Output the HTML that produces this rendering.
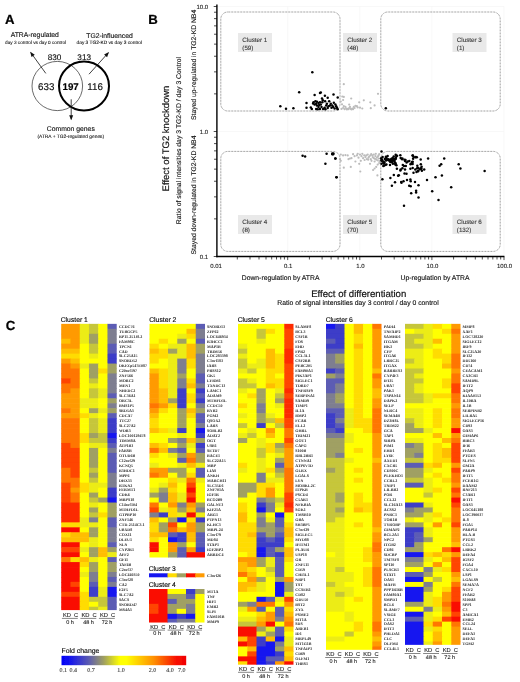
<!DOCTYPE html>
<html><head><meta charset="utf-8"><title>Figure</title>
<style>html,body{margin:0;padding:0;background:#fff}svg{display:block}</style></head>
<body>
<svg width="520" height="682" viewBox="0 0 520 682" text-rendering="geometricPrecision">
<rect width="520" height="682" fill="#fff"/>
<g style="opacity:0.999">
<text x="5.00" y="24.10" font-size="13.2" text-anchor="start" font-family="Liberation Sans, sans-serif" fill="#000" font-weight="bold" stroke="#000" stroke-width="0.238">A</text>
<text x="148.30" y="23.50" font-size="13.2" text-anchor="start" font-family="Liberation Sans, sans-serif" fill="#000" font-weight="bold" stroke="#000" stroke-width="0.238">B</text>
<text x="5.80" y="330.00" font-size="13.2" text-anchor="start" font-family="Liberation Sans, sans-serif" fill="#000" font-weight="bold" stroke="#000" stroke-width="0.238">C</text>
<ellipse cx="57.3" cy="86.0" rx="25.3" ry="24.6" fill="none" stroke="#444" stroke-width="0.8"/>
<ellipse cx="84" cy="86.0" rx="25" ry="24.4" fill="none" stroke="#000" stroke-width="2"/>
<text x="34.80" y="37.00" font-size="6.8" text-anchor="middle" font-family="Liberation Sans, sans-serif" fill="#111" stroke="#111" stroke-width="0.122">ATRA-regulated</text>
<text x="35.60" y="43.50" font-size="4.7" text-anchor="middle" font-family="Liberation Sans, sans-serif" fill="#111" stroke="#111" stroke-width="0.085">day 3 control vs day 0 control</text>
<text x="109.50" y="37.50" font-size="6.8" text-anchor="middle" font-family="Liberation Sans, sans-serif" fill="#111" stroke="#111" stroke-width="0.122">TG2-influenced</text>
<text x="109.30" y="43.90" font-size="4.8" text-anchor="middle" font-family="Liberation Sans, sans-serif" fill="#111" stroke="#111" stroke-width="0.086">day 3 TG2-KD vs day 3 control</text>
<text x="54.60" y="59.80" font-size="8.2" text-anchor="middle" font-family="Liberation Sans, sans-serif" fill="#111" stroke="#111" stroke-width="0.148">830</text>
<text x="84.20" y="59.80" font-size="8.2" text-anchor="middle" font-family="Liberation Sans, sans-serif" fill="#111" stroke="#111" stroke-width="0.148">313</text>
<text x="46.20" y="90.20" font-size="9.75" text-anchor="middle" font-family="Liberation Sans, sans-serif" fill="#111" stroke="#111" stroke-width="0.175">633</text>
<text x="70.60" y="90.20" font-size="9.75" text-anchor="middle" font-family="Liberation Sans, sans-serif" fill="#000" font-weight="bold" stroke="#000" stroke-width="0.175">197</text>
<text x="95.10" y="90.20" font-size="9.75" text-anchor="middle" font-family="Liberation Sans, sans-serif" fill="#111" stroke="#111" stroke-width="0.175">116</text>
<text x="70.80" y="131.20" font-size="6.8" text-anchor="middle" font-family="Liberation Sans, sans-serif" fill="#111" stroke="#111" stroke-width="0.122">Common genes</text>
<text x="70.80" y="138.00" font-size="4.85" text-anchor="middle" font-family="Liberation Sans, sans-serif" fill="#111" stroke="#111" stroke-width="0.087">(ATRA + TG2-regulated genes)</text>
<line x1="45.8" y1="73.4" x2="30.8" y2="52.6" stroke="#111" stroke-width="0.8"/>
<polygon points="30.22,51.79 34.78,54.70 31.53,57.04" fill="#111"/>
<line x1="89" y1="74.2" x2="108.3" y2="52.8" stroke="#111" stroke-width="0.8"/>
<polygon points="108.97,52.06 107.09,57.13 104.11,54.45" fill="#111"/>
<line x1="71.2" y1="99.3" x2="71.2" y2="119.3" stroke="#111" stroke-width="0.8"/>
<polygon points="71.20,120.30 69.20,115.27 73.20,115.27" fill="#111"/>
<line x1="287.7" y1="6.5" x2="287.7" y2="256.5" stroke="#f3f3f3" stroke-width="0.6"/>
<line x1="359.8" y1="6.5" x2="359.8" y2="256.5" stroke="#f3f3f3" stroke-width="0.6"/>
<line x1="431.9" y1="6.5" x2="431.9" y2="256.5" stroke="#f3f3f3" stroke-width="0.6"/>
<line x1="504.0" y1="6.5" x2="504.0" y2="256.5" stroke="#f3f3f3" stroke-width="0.6"/>
<line x1="216.9" y1="131.5" x2="504.0" y2="131.5" stroke="#f3f3f3" stroke-width="0.6"/>
<line x1="216.9" y1="6.5" x2="504.0" y2="6.5" stroke="#f3f3f3" stroke-width="0.6"/>
<line x1="216.9" y1="4.5" x2="216.9" y2="257.15" stroke="#000" stroke-width="1.4"/>
<line x1="216.20000000000002" y1="256.5" x2="504.4" y2="256.5" stroke="#000" stroke-width="1.3"/>
<line x1="213.70000000000002" y1="256.50" x2="216.9" y2="256.50" stroke="#000" stroke-width="0.7"/>
<line x1="214.0" y1="218.87" x2="216.9" y2="218.87" stroke="#000" stroke-width="0.7"/>
<line x1="214.0" y1="196.86" x2="216.9" y2="196.86" stroke="#000" stroke-width="0.7"/>
<line x1="214.0" y1="181.24" x2="216.9" y2="181.24" stroke="#000" stroke-width="0.7"/>
<line x1="214.0" y1="169.13" x2="216.9" y2="169.13" stroke="#000" stroke-width="0.7"/>
<line x1="214.0" y1="159.23" x2="216.9" y2="159.23" stroke="#000" stroke-width="0.7"/>
<line x1="214.0" y1="150.86" x2="216.9" y2="150.86" stroke="#000" stroke-width="0.7"/>
<line x1="214.0" y1="143.61" x2="216.9" y2="143.61" stroke="#000" stroke-width="0.7"/>
<line x1="214.0" y1="137.22" x2="216.9" y2="137.22" stroke="#000" stroke-width="0.7"/>
<line x1="213.70000000000002" y1="131.50" x2="216.9" y2="131.50" stroke="#000" stroke-width="0.7"/>
<line x1="214.0" y1="93.87" x2="216.9" y2="93.87" stroke="#000" stroke-width="0.7"/>
<line x1="214.0" y1="71.86" x2="216.9" y2="71.86" stroke="#000" stroke-width="0.7"/>
<line x1="214.0" y1="56.24" x2="216.9" y2="56.24" stroke="#000" stroke-width="0.7"/>
<line x1="214.0" y1="44.13" x2="216.9" y2="44.13" stroke="#000" stroke-width="0.7"/>
<line x1="214.0" y1="34.23" x2="216.9" y2="34.23" stroke="#000" stroke-width="0.7"/>
<line x1="214.0" y1="25.86" x2="216.9" y2="25.86" stroke="#000" stroke-width="0.7"/>
<line x1="214.0" y1="18.61" x2="216.9" y2="18.61" stroke="#000" stroke-width="0.7"/>
<line x1="214.0" y1="12.22" x2="216.9" y2="12.22" stroke="#000" stroke-width="0.7"/>
<line x1="213.70000000000002" y1="6.50" x2="216.9" y2="6.50" stroke="#000" stroke-width="0.7"/>
<line x1="237.30" y1="256.5" x2="237.30" y2="259.5" stroke="#000" stroke-width="0.7"/>
<line x1="250.00" y1="256.5" x2="250.00" y2="259.5" stroke="#000" stroke-width="0.7"/>
<line x1="259.01" y1="256.5" x2="259.01" y2="259.5" stroke="#000" stroke-width="0.7"/>
<line x1="266.00" y1="256.5" x2="266.00" y2="259.5" stroke="#000" stroke-width="0.7"/>
<line x1="271.70" y1="256.5" x2="271.70" y2="259.5" stroke="#000" stroke-width="0.7"/>
<line x1="276.53" y1="256.5" x2="276.53" y2="259.5" stroke="#000" stroke-width="0.7"/>
<line x1="280.71" y1="256.5" x2="280.71" y2="259.5" stroke="#000" stroke-width="0.7"/>
<line x1="284.40" y1="256.5" x2="284.40" y2="259.5" stroke="#000" stroke-width="0.7"/>
<line x1="287.70" y1="256.5" x2="287.70" y2="260.1" stroke="#000" stroke-width="0.7"/>
<line x1="309.40" y1="256.5" x2="309.40" y2="259.5" stroke="#000" stroke-width="0.7"/>
<line x1="322.10" y1="256.5" x2="322.10" y2="259.5" stroke="#000" stroke-width="0.7"/>
<line x1="331.11" y1="256.5" x2="331.11" y2="259.5" stroke="#000" stroke-width="0.7"/>
<line x1="338.10" y1="256.5" x2="338.10" y2="259.5" stroke="#000" stroke-width="0.7"/>
<line x1="343.80" y1="256.5" x2="343.80" y2="259.5" stroke="#000" stroke-width="0.7"/>
<line x1="348.63" y1="256.5" x2="348.63" y2="259.5" stroke="#000" stroke-width="0.7"/>
<line x1="352.81" y1="256.5" x2="352.81" y2="259.5" stroke="#000" stroke-width="0.7"/>
<line x1="356.50" y1="256.5" x2="356.50" y2="259.5" stroke="#000" stroke-width="0.7"/>
<line x1="359.80" y1="256.5" x2="359.80" y2="260.1" stroke="#000" stroke-width="0.7"/>
<line x1="381.50" y1="256.5" x2="381.50" y2="259.5" stroke="#000" stroke-width="0.7"/>
<line x1="394.20" y1="256.5" x2="394.20" y2="259.5" stroke="#000" stroke-width="0.7"/>
<line x1="403.21" y1="256.5" x2="403.21" y2="259.5" stroke="#000" stroke-width="0.7"/>
<line x1="410.20" y1="256.5" x2="410.20" y2="259.5" stroke="#000" stroke-width="0.7"/>
<line x1="415.90" y1="256.5" x2="415.90" y2="259.5" stroke="#000" stroke-width="0.7"/>
<line x1="420.73" y1="256.5" x2="420.73" y2="259.5" stroke="#000" stroke-width="0.7"/>
<line x1="424.91" y1="256.5" x2="424.91" y2="259.5" stroke="#000" stroke-width="0.7"/>
<line x1="428.60" y1="256.5" x2="428.60" y2="259.5" stroke="#000" stroke-width="0.7"/>
<line x1="431.90" y1="256.5" x2="431.90" y2="260.1" stroke="#000" stroke-width="0.7"/>
<line x1="453.60" y1="256.5" x2="453.60" y2="259.5" stroke="#000" stroke-width="0.7"/>
<line x1="466.30" y1="256.5" x2="466.30" y2="259.5" stroke="#000" stroke-width="0.7"/>
<line x1="475.31" y1="256.5" x2="475.31" y2="259.5" stroke="#000" stroke-width="0.7"/>
<line x1="482.30" y1="256.5" x2="482.30" y2="259.5" stroke="#000" stroke-width="0.7"/>
<line x1="488.00" y1="256.5" x2="488.00" y2="259.5" stroke="#000" stroke-width="0.7"/>
<line x1="492.83" y1="256.5" x2="492.83" y2="259.5" stroke="#000" stroke-width="0.7"/>
<line x1="497.01" y1="256.5" x2="497.01" y2="259.5" stroke="#000" stroke-width="0.7"/>
<line x1="500.70" y1="256.5" x2="500.70" y2="259.5" stroke="#000" stroke-width="0.7"/>
<line x1="504.00" y1="256.5" x2="504.00" y2="260.1" stroke="#000" stroke-width="0.7"/>
<text x="208.20" y="8.70" font-size="6.0" text-anchor="end" font-family="Liberation Sans, sans-serif" fill="#222" stroke="#222" stroke-width="0.108">10.0</text>
<text x="208.20" y="133.70" font-size="6.0" text-anchor="end" font-family="Liberation Sans, sans-serif" fill="#222" stroke="#222" stroke-width="0.108">1.0</text>
<text x="208.20" y="258.70" font-size="6.0" text-anchor="end" font-family="Liberation Sans, sans-serif" fill="#222" stroke="#222" stroke-width="0.108">0.1</text>
<text x="216.10" y="267.80" font-size="6.0" text-anchor="middle" font-family="Liberation Sans, sans-serif" fill="#222" stroke="#222" stroke-width="0.108">0.01</text>
<text x="288.20" y="267.80" font-size="6.0" text-anchor="middle" font-family="Liberation Sans, sans-serif" fill="#222" stroke="#222" stroke-width="0.108">0.1</text>
<text x="360.30" y="267.80" font-size="6.0" text-anchor="middle" font-family="Liberation Sans, sans-serif" fill="#222" stroke="#222" stroke-width="0.108">1.0</text>
<text x="432.40" y="267.80" font-size="6.0" text-anchor="middle" font-family="Liberation Sans, sans-serif" fill="#222" stroke="#222" stroke-width="0.108">10.0</text>
<text x="504.50" y="267.80" font-size="6.0" text-anchor="middle" font-family="Liberation Sans, sans-serif" fill="#222" stroke="#222" stroke-width="0.108">100.0</text>
<rect x="220.8" y="12" width="119.19999999999999" height="99" rx="7" ry="7" fill="none" stroke="#6c6c6c" stroke-width="0.85" stroke-dasharray="0.75,0.75"/>
<rect x="380.8" y="12" width="119.39999999999998" height="99" rx="7" ry="7" fill="none" stroke="#6c6c6c" stroke-width="0.85" stroke-dasharray="0.75,0.75"/>
<rect x="220.8" y="151.4" width="119.19999999999999" height="100.0" rx="7" ry="7" fill="none" stroke="#6c6c6c" stroke-width="0.85" stroke-dasharray="0.75,0.75"/>
<rect x="380.8" y="151.4" width="119.39999999999998" height="100.0" rx="7" ry="7" fill="none" stroke="#6c6c6c" stroke-width="0.85" stroke-dasharray="0.75,0.75"/>
<rect x="238" y="33" width="34" height="19" fill="#e9e9e9"/>
<text x="242.30" y="41.60" font-size="6.25" text-anchor="start" font-family="Liberation Sans, sans-serif" fill="#383838" stroke="#383838" stroke-width="0.112">Cluster 1</text>
<text x="242.30" y="49.60" font-size="6.25" text-anchor="start" font-family="Liberation Sans, sans-serif" fill="#383838" stroke="#383838" stroke-width="0.112">(59)</text>
<rect x="343" y="33" width="34" height="19" fill="#e9e9e9"/>
<text x="347.30" y="41.60" font-size="6.25" text-anchor="start" font-family="Liberation Sans, sans-serif" fill="#383838" stroke="#383838" stroke-width="0.112">Cluster 2</text>
<text x="347.30" y="49.60" font-size="6.25" text-anchor="start" font-family="Liberation Sans, sans-serif" fill="#383838" stroke="#383838" stroke-width="0.112">(48)</text>
<rect x="452.5" y="33" width="34" height="19" fill="#e9e9e9"/>
<text x="456.80" y="41.60" font-size="6.25" text-anchor="start" font-family="Liberation Sans, sans-serif" fill="#383838" stroke="#383838" stroke-width="0.112">Cluster 3</text>
<text x="456.80" y="49.60" font-size="6.25" text-anchor="start" font-family="Liberation Sans, sans-serif" fill="#383838" stroke="#383838" stroke-width="0.112">(1)</text>
<rect x="238" y="215" width="34" height="19" fill="#e9e9e9"/>
<text x="242.30" y="223.60" font-size="6.25" text-anchor="start" font-family="Liberation Sans, sans-serif" fill="#383838" stroke="#383838" stroke-width="0.112">Cluster 4</text>
<text x="242.30" y="231.60" font-size="6.25" text-anchor="start" font-family="Liberation Sans, sans-serif" fill="#383838" stroke="#383838" stroke-width="0.112">(8)</text>
<rect x="343" y="215" width="34" height="19" fill="#e9e9e9"/>
<text x="347.30" y="223.60" font-size="6.25" text-anchor="start" font-family="Liberation Sans, sans-serif" fill="#383838" stroke="#383838" stroke-width="0.112">Cluster 5</text>
<text x="347.30" y="231.60" font-size="6.25" text-anchor="start" font-family="Liberation Sans, sans-serif" fill="#383838" stroke="#383838" stroke-width="0.112">(70)</text>
<rect x="452.5" y="215" width="34" height="19" fill="#e9e9e9"/>
<text x="456.80" y="223.60" font-size="6.25" text-anchor="start" font-family="Liberation Sans, sans-serif" fill="#383838" stroke="#383838" stroke-width="0.112">Cluster 6</text>
<text x="456.80" y="231.60" font-size="6.25" text-anchor="start" font-family="Liberation Sans, sans-serif" fill="#383838" stroke="#383838" stroke-width="0.112">(132)</text>
<text x="280.60" y="280.20" font-size="6.8" text-anchor="middle" font-family="Liberation Sans, sans-serif" fill="#111" stroke="#111" stroke-width="0.122">Down-regulation by ATRA</text>
<text x="435.00" y="280.20" font-size="6.8" text-anchor="middle" font-family="Liberation Sans, sans-serif" fill="#111" stroke="#111" stroke-width="0.122">Up-regulation by ATRA</text>
<text x="358.70" y="296.50" font-size="9.6" text-anchor="middle" font-family="Liberation Sans, sans-serif" fill="#111" stroke="#111" stroke-width="0.173">Effect of differentiation</text>
<text x="358.00" y="305.30" font-size="6.84" text-anchor="middle" font-family="Liberation Sans, sans-serif" fill="#111" stroke="#111" stroke-width="0.123">Ratio of signal intensities day 3 control / day 0 control</text>
<text x="169.40" y="138.50" font-size="9.5" text-anchor="middle" font-family="Liberation Sans, sans-serif" fill="#111" transform="rotate(-90 169.40 138.50)" stroke="#111" stroke-width="0.171">Effect of TG2 knockdown</text>
<text x="180.50" y="140.50" font-size="6.84" text-anchor="middle" font-family="Liberation Sans, sans-serif" fill="#111" transform="rotate(-90 180.50 140.50)" stroke="#111" stroke-width="0.123">Ratio of signal intensities day 3 TG2-KD / day 3 Control</text>
<text x="195.60" y="64.90" font-size="6.8" text-anchor="middle" font-family="Liberation Sans, sans-serif" fill="#111" transform="rotate(-90 195.60 64.90)" stroke="#111" stroke-width="0.122">Stayed up-regulated in TG2-KD NB4</text>
<text x="195.60" y="195.00" font-size="6.8" text-anchor="middle" font-family="Liberation Sans, sans-serif" fill="#111" transform="rotate(-90 195.60 195.00)" stroke="#111" stroke-width="0.122">Stayed down-regulated in TG2-KD NB4</text>
<circle cx="312.3" cy="72.3" r="1.25" fill="#000"/>
<circle cx="299.2" cy="92.3" r="1.25" fill="#000"/>
<circle cx="280.3" cy="106.2" r="1.25" fill="#000"/>
<circle cx="286.0" cy="108.8" r="1.25" fill="#000"/>
<circle cx="293.4" cy="108.2" r="1.25" fill="#000"/>
<circle cx="306.5" cy="103.1" r="1.25" fill="#000"/>
<circle cx="306.5" cy="107.7" r="1.25" fill="#000"/>
<circle cx="310.8" cy="107.4" r="1.25" fill="#000"/>
<circle cx="311.8" cy="108.9" r="1.25" fill="#000"/>
<circle cx="314.6" cy="95.1" r="1.25" fill="#000"/>
<circle cx="320.0" cy="93.1" r="1.25" fill="#000"/>
<circle cx="320.8" cy="92.6" r="1.25" fill="#000"/>
<circle cx="324.9" cy="95.7" r="1.25" fill="#000"/>
<circle cx="327.7" cy="97.7" r="1.25" fill="#000"/>
<circle cx="333.5" cy="94.6" r="1.25" fill="#000"/>
<circle cx="337.7" cy="97.4" r="1.25" fill="#000"/>
<circle cx="322.0" cy="98.5" r="1.25" fill="#000"/>
<circle cx="322.8" cy="100.3" r="1.25" fill="#000"/>
<circle cx="313.5" cy="102.3" r="1.25" fill="#000"/>
<circle cx="315.4" cy="101.2" r="1.25" fill="#000"/>
<circle cx="316.9" cy="101.8" r="1.25" fill="#000"/>
<circle cx="316.2" cy="103.8" r="1.25" fill="#000"/>
<circle cx="318.5" cy="103.1" r="1.25" fill="#000"/>
<circle cx="320.0" cy="102.3" r="1.25" fill="#000"/>
<circle cx="320.8" cy="104.6" r="1.25" fill="#000"/>
<circle cx="325.1" cy="101.2" r="1.25" fill="#000"/>
<circle cx="329.2" cy="101.2" r="1.25" fill="#000"/>
<circle cx="330.8" cy="103.8" r="1.25" fill="#000"/>
<circle cx="332.3" cy="105.4" r="1.25" fill="#000"/>
<circle cx="333.8" cy="102.8" r="1.25" fill="#000"/>
<circle cx="335.4" cy="104.6" r="1.25" fill="#000"/>
<circle cx="336.2" cy="106.2" r="1.25" fill="#000"/>
<circle cx="337.7" cy="109.2" r="1.25" fill="#000"/>
<circle cx="334.6" cy="108.5" r="1.25" fill="#000"/>
<circle cx="331.5" cy="107.7" r="1.25" fill="#000"/>
<circle cx="328.5" cy="106.2" r="1.25" fill="#000"/>
<circle cx="326.2" cy="105.4" r="1.25" fill="#000"/>
<circle cx="324.6" cy="107.7" r="1.25" fill="#000"/>
<circle cx="323.1" cy="108.9" r="1.25" fill="#000"/>
<circle cx="320.0" cy="108.9" r="1.25" fill="#000"/>
<circle cx="317.7" cy="109.2" r="1.25" fill="#000"/>
<circle cx="316.2" cy="108.9" r="1.25" fill="#000"/>
<circle cx="318.5" cy="106.9" r="1.25" fill="#000"/>
<circle cx="321.5" cy="106.9" r="1.25" fill="#000"/>
<circle cx="325.4" cy="109.2" r="1.25" fill="#000"/>
<circle cx="327.7" cy="108.0" r="1.25" fill="#000"/>
<circle cx="333.1" cy="106.9" r="1.25" fill="#000"/>
<circle cx="336.9" cy="107.7" r="1.25" fill="#000"/>
<circle cx="330.0" cy="105.4" r="1.25" fill="#000"/>
<circle cx="326.9" cy="103.8" r="1.25" fill="#000"/>
<circle cx="316.9" cy="105.4" r="1.25" fill="#000"/>
<circle cx="314.6" cy="104.6" r="1.25" fill="#000"/>
<circle cx="313.1" cy="103.4" r="1.25" fill="#000"/>
<circle cx="319.2" cy="104.9" r="1.25" fill="#000"/>
<circle cx="322.3" cy="102.3" r="1.25" fill="#000"/>
<circle cx="343.8" cy="84.2" r="1.1" fill="#bcbcbc"/>
<circle cx="342.3" cy="96.5" r="1.1" fill="#bcbcbc"/>
<circle cx="343.8" cy="96.9" r="1.1" fill="#bcbcbc"/>
<circle cx="343.1" cy="100.0" r="1.1" fill="#bcbcbc"/>
<circle cx="351.2" cy="98.5" r="1.1" fill="#bcbcbc"/>
<circle cx="349.2" cy="104.6" r="1.1" fill="#bcbcbc"/>
<circle cx="342.0" cy="104.3" r="1.1" fill="#bcbcbc"/>
<circle cx="359.2" cy="102.3" r="1.1" fill="#bcbcbc"/>
<circle cx="363.8" cy="100.3" r="1.1" fill="#bcbcbc"/>
<circle cx="370.3" cy="102.3" r="1.1" fill="#bcbcbc"/>
<circle cx="374.6" cy="105.4" r="1.1" fill="#bcbcbc"/>
<circle cx="378.0" cy="93.8" r="1.1" fill="#bcbcbc"/>
<circle cx="370.8" cy="108.2" r="1.1" fill="#bcbcbc"/>
<circle cx="362.3" cy="108.5" r="1.1" fill="#bcbcbc"/>
<circle cx="360.0" cy="107.7" r="1.1" fill="#bcbcbc"/>
<circle cx="356.9" cy="106.2" r="1.1" fill="#bcbcbc"/>
<circle cx="355.4" cy="105.8" r="1.1" fill="#bcbcbc"/>
<circle cx="353.8" cy="106.9" r="1.1" fill="#bcbcbc"/>
<circle cx="352.3" cy="108.5" r="1.1" fill="#bcbcbc"/>
<circle cx="350.8" cy="108.9" r="1.1" fill="#bcbcbc"/>
<circle cx="349.2" cy="108.0" r="1.1" fill="#bcbcbc"/>
<circle cx="347.7" cy="108.9" r="1.1" fill="#bcbcbc"/>
<circle cx="346.2" cy="108.5" r="1.1" fill="#bcbcbc"/>
<circle cx="344.6" cy="109.2" r="1.1" fill="#bcbcbc"/>
<circle cx="343.1" cy="108.0" r="1.1" fill="#bcbcbc"/>
<circle cx="341.5" cy="108.9" r="1.1" fill="#bcbcbc"/>
<circle cx="345.4" cy="106.9" r="1.1" fill="#bcbcbc"/>
<circle cx="350.0" cy="106.9" r="1.1" fill="#bcbcbc"/>
<circle cx="353.1" cy="109.2" r="1.1" fill="#bcbcbc"/>
<circle cx="354.6" cy="108.0" r="1.1" fill="#bcbcbc"/>
<circle cx="357.7" cy="107.4" r="1.1" fill="#bcbcbc"/>
<circle cx="340.8" cy="101.5" r="1.1" fill="#bcbcbc"/>
<circle cx="346.9" cy="109.5" r="1.1" fill="#bcbcbc"/>
<circle cx="351.5" cy="109.5" r="1.1" fill="#bcbcbc"/>
<circle cx="343.8" cy="106.2" r="1.1" fill="#bcbcbc"/>
<circle cx="348.5" cy="109.2" r="1.1" fill="#bcbcbc"/>
<circle cx="385.8" cy="108.2" r="1.25" fill="#000"/>
<circle cx="302.6" cy="155.8" r="1.25" fill="#000"/>
<circle cx="305.1" cy="156.6" r="1.25" fill="#000"/>
<circle cx="326.6" cy="153.8" r="1.25" fill="#000"/>
<circle cx="332.3" cy="154.3" r="1.25" fill="#000"/>
<circle cx="333.4" cy="153.5" r="1.25" fill="#000"/>
<circle cx="335.4" cy="158.5" r="1.25" fill="#000"/>
<circle cx="325.4" cy="163.8" r="1.25" fill="#000"/>
<circle cx="336.5" cy="177.2" r="1.25" fill="#000"/>
<circle cx="340.8" cy="154.6" r="1.1" fill="#bcbcbc"/>
<circle cx="343.1" cy="155.4" r="1.1" fill="#bcbcbc"/>
<circle cx="345.4" cy="155.1" r="1.1" fill="#bcbcbc"/>
<circle cx="347.7" cy="155.4" r="1.1" fill="#bcbcbc"/>
<circle cx="350.0" cy="158.5" r="1.1" fill="#bcbcbc"/>
<circle cx="351.5" cy="158.2" r="1.1" fill="#bcbcbc"/>
<circle cx="353.1" cy="154.2" r="1.1" fill="#bcbcbc"/>
<circle cx="354.6" cy="156.2" r="1.1" fill="#bcbcbc"/>
<circle cx="356.9" cy="155.4" r="1.1" fill="#bcbcbc"/>
<circle cx="358.5" cy="157.7" r="1.1" fill="#bcbcbc"/>
<circle cx="360.0" cy="154.6" r="1.1" fill="#bcbcbc"/>
<circle cx="361.5" cy="156.2" r="1.1" fill="#bcbcbc"/>
<circle cx="363.1" cy="158.2" r="1.1" fill="#bcbcbc"/>
<circle cx="364.6" cy="160.0" r="1.1" fill="#bcbcbc"/>
<circle cx="366.2" cy="155.4" r="1.1" fill="#bcbcbc"/>
<circle cx="367.7" cy="154.6" r="1.1" fill="#bcbcbc"/>
<circle cx="369.2" cy="156.6" r="1.1" fill="#bcbcbc"/>
<circle cx="370.8" cy="159.2" r="1.1" fill="#bcbcbc"/>
<circle cx="372.3" cy="155.4" r="1.1" fill="#bcbcbc"/>
<circle cx="373.8" cy="154.6" r="1.1" fill="#bcbcbc"/>
<circle cx="375.4" cy="156.2" r="1.1" fill="#bcbcbc"/>
<circle cx="376.9" cy="157.7" r="1.1" fill="#bcbcbc"/>
<circle cx="378.5" cy="155.4" r="1.1" fill="#bcbcbc"/>
<circle cx="379.2" cy="154.2" r="1.1" fill="#bcbcbc"/>
<circle cx="376.2" cy="159.7" r="1.1" fill="#bcbcbc"/>
<circle cx="374.6" cy="161.5" r="1.1" fill="#bcbcbc"/>
<circle cx="371.5" cy="160.8" r="1.1" fill="#bcbcbc"/>
<circle cx="370.0" cy="163.8" r="1.1" fill="#bcbcbc"/>
<circle cx="366.9" cy="159.2" r="1.1" fill="#bcbcbc"/>
<circle cx="360.8" cy="160.8" r="1.1" fill="#bcbcbc"/>
<circle cx="359.2" cy="163.8" r="1.1" fill="#bcbcbc"/>
<circle cx="355.4" cy="161.5" r="1.1" fill="#bcbcbc"/>
<circle cx="350.8" cy="166.9" r="1.1" fill="#bcbcbc"/>
<circle cx="343.8" cy="167.7" r="1.1" fill="#bcbcbc"/>
<circle cx="340.0" cy="159.2" r="1.1" fill="#bcbcbc"/>
<circle cx="340.8" cy="160.8" r="1.1" fill="#bcbcbc"/>
<circle cx="360.3" cy="171.5" r="1.1" fill="#bcbcbc"/>
<circle cx="374.6" cy="168.5" r="1.1" fill="#bcbcbc"/>
<circle cx="376.2" cy="166.9" r="1.1" fill="#bcbcbc"/>
<circle cx="377.7" cy="164.6" r="1.1" fill="#bcbcbc"/>
<circle cx="379.2" cy="163.1" r="1.1" fill="#bcbcbc"/>
<circle cx="377.4" cy="175.4" r="1.1" fill="#bcbcbc"/>
<circle cx="373.1" cy="170.0" r="1.1" fill="#bcbcbc"/>
<circle cx="378.9" cy="158.5" r="1.1" fill="#bcbcbc"/>
<circle cx="373.8" cy="158.2" r="1.1" fill="#bcbcbc"/>
<circle cx="368.5" cy="157.7" r="1.1" fill="#bcbcbc"/>
<circle cx="364.2" cy="155.4" r="1.1" fill="#bcbcbc"/>
<circle cx="362.3" cy="153.8" r="1.1" fill="#bcbcbc"/>
<circle cx="357.7" cy="153.8" r="1.1" fill="#bcbcbc"/>
<circle cx="348.5" cy="159.2" r="1.1" fill="#bcbcbc"/>
<circle cx="365.4" cy="157.2" r="1.1" fill="#bcbcbc"/>
<circle cx="371.2" cy="154.2" r="1.1" fill="#bcbcbc"/>
<circle cx="375.8" cy="153.8" r="1.1" fill="#bcbcbc"/>
<circle cx="377.7" cy="160.3" r="1.1" fill="#bcbcbc"/>
<circle cx="379.5" cy="161.2" r="1.1" fill="#bcbcbc"/>
<circle cx="378.0" cy="156.6" r="1.1" fill="#bcbcbc"/>
<circle cx="374.9" cy="158.8" r="1.1" fill="#bcbcbc"/>
<circle cx="372.8" cy="157.2" r="1.1" fill="#bcbcbc"/>
<circle cx="370.3" cy="155.4" r="1.1" fill="#bcbcbc"/>
<circle cx="368.2" cy="159.7" r="1.1" fill="#bcbcbc"/>
<circle cx="333.1" cy="154.2" r="1.25" fill="#000"/>
<circle cx="335.4" cy="158.5" r="1.25" fill="#000"/>
<circle cx="336.5" cy="177.2" r="1.25" fill="#000"/>
<circle cx="332.3" cy="153.5" r="1.25" fill="#000"/>
<circle cx="381.5" cy="151.5" r="1.25" fill="#000"/>
<circle cx="428.1" cy="158.5" r="1.25" fill="#000"/>
<circle cx="444.2" cy="158.5" r="1.25" fill="#000"/>
<circle cx="441.2" cy="164.2" r="1.25" fill="#000"/>
<circle cx="439.6" cy="165.8" r="1.25" fill="#000"/>
<circle cx="424.2" cy="169.6" r="1.25" fill="#000"/>
<circle cx="441.9" cy="175.5" r="1.25" fill="#000"/>
<circle cx="435.5" cy="177.3" r="1.25" fill="#000"/>
<circle cx="427.0" cy="180.1" r="1.25" fill="#000"/>
<circle cx="451.2" cy="187.3" r="1.25" fill="#000"/>
<circle cx="432.2" cy="191.2" r="1.25" fill="#000"/>
<circle cx="438.5" cy="199.9" r="1.25" fill="#000"/>
<circle cx="418.5" cy="197.6" r="1.25" fill="#000"/>
<circle cx="416.1" cy="190.8" r="1.25" fill="#000"/>
<circle cx="416.1" cy="192.4" r="1.25" fill="#000"/>
<circle cx="411.2" cy="193.2" r="1.25" fill="#000"/>
<circle cx="418.5" cy="185.3" r="1.25" fill="#000"/>
<circle cx="415.0" cy="181.9" r="1.25" fill="#000"/>
<circle cx="410.4" cy="179.6" r="1.25" fill="#000"/>
<circle cx="410.7" cy="181.2" r="1.25" fill="#000"/>
<circle cx="407.0" cy="180.1" r="1.25" fill="#000"/>
<circle cx="403.5" cy="181.2" r="1.25" fill="#000"/>
<circle cx="401.2" cy="181.9" r="1.25" fill="#000"/>
<circle cx="401.5" cy="182.7" r="1.25" fill="#000"/>
<circle cx="395.0" cy="182.2" r="1.25" fill="#000"/>
<circle cx="391.9" cy="185.8" r="1.25" fill="#000"/>
<circle cx="409.2" cy="185.8" r="1.25" fill="#000"/>
<circle cx="410.7" cy="186.2" r="1.25" fill="#000"/>
<circle cx="382.4" cy="179.3" r="1.25" fill="#000"/>
<circle cx="390.4" cy="178.1" r="1.25" fill="#000"/>
<circle cx="393.8" cy="175.0" r="1.25" fill="#000"/>
<circle cx="398.1" cy="175.8" r="1.25" fill="#000"/>
<circle cx="398.8" cy="175.3" r="1.25" fill="#000"/>
<circle cx="404.5" cy="173.5" r="1.25" fill="#000"/>
<circle cx="406.5" cy="173.8" r="1.25" fill="#000"/>
<circle cx="413.5" cy="172.7" r="1.25" fill="#000"/>
<circle cx="416.5" cy="171.9" r="1.25" fill="#000"/>
<circle cx="418.1" cy="171.2" r="1.25" fill="#000"/>
<circle cx="419.6" cy="169.6" r="1.25" fill="#000"/>
<circle cx="421.2" cy="168.8" r="1.25" fill="#000"/>
<circle cx="420.8" cy="164.2" r="1.25" fill="#000"/>
<circle cx="417.3" cy="165.8" r="1.25" fill="#000"/>
<circle cx="418.1" cy="168.1" r="1.25" fill="#000"/>
<circle cx="415.3" cy="169.6" r="1.25" fill="#000"/>
<circle cx="412.7" cy="168.1" r="1.25" fill="#000"/>
<circle cx="410.4" cy="168.8" r="1.25" fill="#000"/>
<circle cx="405.0" cy="169.6" r="1.25" fill="#000"/>
<circle cx="400.4" cy="170.4" r="1.25" fill="#000"/>
<circle cx="390.7" cy="159.6" r="1.25" fill="#000"/>
<circle cx="392.5" cy="160.8" r="1.25" fill="#000"/>
<circle cx="388.3" cy="159.5" r="1.25" fill="#000"/>
<circle cx="395.7" cy="154.8" r="1.25" fill="#000"/>
<circle cx="388.4" cy="160.0" r="1.25" fill="#000"/>
<circle cx="390.0" cy="164.9" r="1.25" fill="#000"/>
<circle cx="381.4" cy="160.6" r="1.25" fill="#000"/>
<circle cx="395.3" cy="163.1" r="1.25" fill="#000"/>
<circle cx="392.9" cy="163.8" r="1.25" fill="#000"/>
<circle cx="383.3" cy="165.9" r="1.25" fill="#000"/>
<circle cx="390.7" cy="160.1" r="1.25" fill="#000"/>
<circle cx="394.6" cy="160.1" r="1.25" fill="#000"/>
<circle cx="384.4" cy="162.4" r="1.25" fill="#000"/>
<circle cx="385.6" cy="164.8" r="1.25" fill="#000"/>
<circle cx="391.6" cy="158.7" r="1.25" fill="#000"/>
<circle cx="384.3" cy="165.6" r="1.25" fill="#000"/>
<circle cx="396.0" cy="157.7" r="1.25" fill="#000"/>
<circle cx="394.9" cy="158.8" r="1.25" fill="#000"/>
<circle cx="383.7" cy="163.5" r="1.25" fill="#000"/>
<circle cx="383.4" cy="163.0" r="1.25" fill="#000"/>
<circle cx="390.4" cy="161.3" r="1.25" fill="#000"/>
<circle cx="381.2" cy="158.3" r="1.25" fill="#000"/>
<circle cx="385.9" cy="156.7" r="1.25" fill="#000"/>
<circle cx="393.7" cy="156.5" r="1.25" fill="#000"/>
<circle cx="388.6" cy="160.3" r="1.25" fill="#000"/>
<circle cx="381.5" cy="163.7" r="1.25" fill="#000"/>
<circle cx="392.7" cy="160.4" r="1.25" fill="#000"/>
<circle cx="393.3" cy="159.3" r="1.25" fill="#000"/>
<circle cx="386.8" cy="159.4" r="1.25" fill="#000"/>
<circle cx="381.9" cy="159.7" r="1.25" fill="#000"/>
<circle cx="383.9" cy="162.5" r="1.25" fill="#000"/>
<circle cx="392.8" cy="159.2" r="1.25" fill="#000"/>
<circle cx="395.5" cy="163.4" r="1.25" fill="#000"/>
<circle cx="386.6" cy="158.6" r="1.25" fill="#000"/>
<circle cx="389.2" cy="160.2" r="1.25" fill="#000"/>
<circle cx="392.7" cy="158.0" r="1.25" fill="#000"/>
<circle cx="393.4" cy="160.6" r="1.25" fill="#000"/>
<circle cx="395.7" cy="159.1" r="1.25" fill="#000"/>
<circle cx="382.6" cy="157.0" r="1.25" fill="#000"/>
<circle cx="395.3" cy="164.5" r="1.25" fill="#000"/>
<circle cx="386.4" cy="164.4" r="1.25" fill="#000"/>
<circle cx="386.0" cy="157.6" r="1.25" fill="#000"/>
<circle cx="386.0" cy="160.6" r="1.25" fill="#000"/>
<circle cx="383.4" cy="161.4" r="1.25" fill="#000"/>
<circle cx="391.8" cy="162.3" r="1.25" fill="#000"/>
<circle cx="381.9" cy="159.9" r="1.25" fill="#000"/>
<circle cx="396.3" cy="155.9" r="1.25" fill="#000"/>
<circle cx="384.8" cy="159.1" r="1.25" fill="#000"/>
<circle cx="390.3" cy="162.0" r="1.25" fill="#000"/>
<circle cx="387.6" cy="156.0" r="1.25" fill="#000"/>
<circle cx="382.0" cy="160.8" r="1.25" fill="#000"/>
<circle cx="388.7" cy="159.4" r="1.25" fill="#000"/>
<circle cx="417.1" cy="168.3" r="1.25" fill="#000"/>
<circle cx="420.4" cy="168.6" r="1.25" fill="#000"/>
<circle cx="410.8" cy="163.7" r="1.25" fill="#000"/>
<circle cx="405.0" cy="161.0" r="1.25" fill="#000"/>
<circle cx="396.4" cy="165.3" r="1.25" fill="#000"/>
<circle cx="405.5" cy="160.0" r="1.25" fill="#000"/>
<circle cx="421.9" cy="170.7" r="1.25" fill="#000"/>
<circle cx="406.6" cy="162.5" r="1.25" fill="#000"/>
<circle cx="400.7" cy="157.9" r="1.25" fill="#000"/>
<circle cx="404.0" cy="165.9" r="1.25" fill="#000"/>
<circle cx="421.6" cy="166.7" r="1.25" fill="#000"/>
<circle cx="420.7" cy="159.4" r="1.25" fill="#000"/>
<circle cx="402.1" cy="159.3" r="1.25" fill="#000"/>
<circle cx="394.6" cy="162.0" r="1.25" fill="#000"/>
<circle cx="417.9" cy="171.1" r="1.25" fill="#000"/>
<circle cx="402.8" cy="164.9" r="1.25" fill="#000"/>
<circle cx="412.8" cy="155.4" r="1.25" fill="#000"/>
<circle cx="411.8" cy="163.4" r="1.25" fill="#000"/>
<circle cx="413.1" cy="158.8" r="1.25" fill="#000"/>
<circle cx="400.3" cy="155.3" r="1.25" fill="#000"/>
<circle cx="412.6" cy="163.9" r="1.25" fill="#000"/>
<circle cx="400.7" cy="169.5" r="1.25" fill="#000"/>
<circle cx="409.3" cy="160.9" r="1.25" fill="#000"/>
<circle cx="392.3" cy="159.8" r="1.25" fill="#000"/>
<circle cx="412.1" cy="162.1" r="1.25" fill="#000"/>
<circle cx="405.8" cy="165.9" r="1.25" fill="#000"/>
<circle cx="415.9" cy="157.1" r="1.25" fill="#000"/>
<circle cx="402.4" cy="158.5" r="1.25" fill="#000"/>
<circle cx="416.8" cy="157.2" r="1.25" fill="#000"/>
<circle cx="402.4" cy="168.3" r="1.25" fill="#000"/>
<circle cx="412.6" cy="155.4" r="1.25" fill="#000"/>
<circle cx="421.2" cy="168.5" r="1.25" fill="#000"/>
<circle cx="407.8" cy="161.6" r="1.25" fill="#000"/>
<circle cx="396.9" cy="168.8" r="1.25" fill="#000"/>
<circle cx="412.7" cy="161.7" r="1.25" fill="#000"/>
<circle cx="397.1" cy="155.8" r="1.25" fill="#000"/>
<circle cx="415.3" cy="157.2" r="1.25" fill="#000"/>
<circle cx="404.5" cy="159.8" r="1.25" fill="#000"/>
<circle cx="410.6" cy="164.2" r="1.25" fill="#000"/>
<circle cx="413.5" cy="156.7" r="1.25" fill="#000"/>
<circle cx="484.6" cy="171.0" r="1.25" fill="#000"/>
<circle cx="458.7" cy="164.2" r="1.25" fill="#000"/>
<circle cx="460.4" cy="168.4" r="1.25" fill="#000"/>
<circle cx="404.0" cy="205.7" r="1.25" fill="#000"/>
<defs><filter id="bl" x="-2%" y="-2%" width="104%" height="104%"><feGaussianBlur stdDeviation="0.55"/></filter></defs>
<g filter="url(#bl)">
<rect x="61.20" y="323.85" width="19.10" height="5.56" fill="#ff9a00"/>
<rect x="79.70" y="323.85" width="9.85" height="5.56" fill="#ecec16"/>
<rect x="88.95" y="323.85" width="9.85" height="5.56" fill="#c6c63a"/>
<rect x="98.20" y="323.85" width="9.85" height="5.56" fill="#ffff00"/>
<rect x="107.45" y="323.85" width="9.25" height="5.56" fill="#5c5cb4"/>
<rect x="61.20" y="328.81" width="19.10" height="5.56" fill="#ff9a00"/>
<rect x="79.70" y="328.81" width="9.85" height="5.56" fill="#ecec16"/>
<rect x="88.95" y="328.81" width="9.85" height="5.56" fill="#c6c63a"/>
<rect x="98.20" y="328.81" width="9.85" height="5.56" fill="#ffff00"/>
<rect x="107.45" y="328.81" width="9.25" height="5.56" fill="#7e7e90"/>
<rect x="61.20" y="333.78" width="19.10" height="5.56" fill="#ff9a00"/>
<rect x="79.70" y="333.78" width="9.85" height="5.56" fill="#ecec16"/>
<rect x="88.95" y="333.78" width="9.85" height="5.56" fill="#a0a064"/>
<rect x="98.20" y="333.78" width="9.85" height="5.56" fill="#ffff00"/>
<rect x="107.45" y="333.78" width="9.25" height="5.56" fill="#7e7e90"/>
<rect x="61.20" y="338.74" width="9.85" height="5.56" fill="#ffbe00"/>
<rect x="70.45" y="338.74" width="9.85" height="5.56" fill="#ff9a00"/>
<rect x="79.70" y="338.74" width="9.85" height="5.56" fill="#ecec16"/>
<rect x="88.95" y="338.74" width="9.85" height="5.56" fill="#a0a064"/>
<rect x="98.20" y="338.74" width="9.85" height="5.56" fill="#ffff00"/>
<rect x="107.45" y="338.74" width="9.25" height="5.56" fill="#7e7e90"/>
<rect x="61.20" y="343.70" width="19.10" height="5.56" fill="#ff9a00"/>
<rect x="79.70" y="343.70" width="9.85" height="5.56" fill="#ffff00"/>
<rect x="88.95" y="343.70" width="9.85" height="5.56" fill="#c6c63a"/>
<rect x="98.20" y="343.70" width="9.85" height="5.56" fill="#ffff00"/>
<rect x="107.45" y="343.70" width="9.25" height="5.56" fill="#5c5cb4"/>
<rect x="61.20" y="348.67" width="19.10" height="5.56" fill="#ffbe00"/>
<rect x="79.70" y="348.67" width="9.85" height="5.56" fill="#ffff00"/>
<rect x="88.95" y="348.67" width="9.85" height="5.56" fill="#c6c63a"/>
<rect x="98.20" y="348.67" width="9.85" height="5.56" fill="#ffff00"/>
<rect x="107.45" y="348.67" width="9.25" height="5.56" fill="#5c5cb4"/>
<rect x="61.20" y="353.63" width="19.10" height="5.56" fill="#ffdc00"/>
<rect x="79.70" y="353.63" width="9.85" height="5.56" fill="#ffff00"/>
<rect x="88.95" y="353.63" width="9.85" height="5.56" fill="#ecec16"/>
<rect x="98.20" y="353.63" width="9.85" height="5.56" fill="#ffff00"/>
<rect x="107.45" y="353.63" width="9.25" height="5.56" fill="#3c3cc8"/>
<rect x="61.20" y="358.59" width="9.85" height="5.56" fill="#ff9a00"/>
<rect x="70.45" y="358.59" width="9.85" height="5.56" fill="#ffbe00"/>
<rect x="79.70" y="358.59" width="28.35" height="5.56" fill="#ffff00"/>
<rect x="107.45" y="358.59" width="9.25" height="5.56" fill="#3c3cc8"/>
<rect x="61.20" y="363.55" width="9.85" height="5.56" fill="#ff7600"/>
<rect x="70.45" y="363.55" width="9.85" height="5.56" fill="#ff9a00"/>
<rect x="79.70" y="363.55" width="9.85" height="5.56" fill="#ecec16"/>
<rect x="88.95" y="363.55" width="9.85" height="5.56" fill="#a0a064"/>
<rect x="98.20" y="363.55" width="9.85" height="5.56" fill="#ffff00"/>
<rect x="107.45" y="363.55" width="9.25" height="5.56" fill="#a0a064"/>
<rect x="61.20" y="368.52" width="19.10" height="5.56" fill="#ff7600"/>
<rect x="79.70" y="368.52" width="9.85" height="5.56" fill="#ffff00"/>
<rect x="88.95" y="368.52" width="9.85" height="5.56" fill="#a0a064"/>
<rect x="98.20" y="368.52" width="9.85" height="5.56" fill="#ffdc00"/>
<rect x="107.45" y="368.52" width="9.25" height="5.56" fill="#a0a064"/>
<rect x="61.20" y="373.48" width="19.10" height="5.56" fill="#ff7600"/>
<rect x="79.70" y="373.48" width="9.85" height="5.56" fill="#ffff00"/>
<rect x="88.95" y="373.48" width="9.85" height="5.56" fill="#a0a064"/>
<rect x="98.20" y="373.48" width="9.85" height="5.56" fill="#ffff00"/>
<rect x="107.45" y="373.48" width="9.25" height="5.56" fill="#7e7e90"/>
<rect x="61.20" y="378.44" width="9.85" height="5.56" fill="#ff4400"/>
<rect x="70.45" y="378.44" width="9.85" height="5.56" fill="#ff7600"/>
<rect x="79.70" y="378.44" width="9.85" height="5.56" fill="#ffff00"/>
<rect x="88.95" y="378.44" width="9.85" height="5.56" fill="#c6c63a"/>
<rect x="98.20" y="378.44" width="9.85" height="5.56" fill="#ffff00"/>
<rect x="107.45" y="378.44" width="9.25" height="5.56" fill="#7e7e90"/>
<rect x="61.20" y="383.41" width="19.10" height="5.56" fill="#ff7600"/>
<rect x="79.70" y="383.41" width="9.85" height="5.56" fill="#ffff00"/>
<rect x="88.95" y="383.41" width="9.85" height="5.56" fill="#ecec16"/>
<rect x="98.20" y="383.41" width="9.85" height="5.56" fill="#ffff00"/>
<rect x="107.45" y="383.41" width="9.25" height="5.56" fill="#7e7e90"/>
<rect x="61.20" y="388.37" width="9.85" height="5.56" fill="#ff7600"/>
<rect x="70.45" y="388.37" width="9.85" height="5.56" fill="#ff9a00"/>
<rect x="79.70" y="388.37" width="9.85" height="5.56" fill="#ffff00"/>
<rect x="88.95" y="388.37" width="9.85" height="5.56" fill="#c6c63a"/>
<rect x="98.20" y="388.37" width="9.85" height="5.56" fill="#ecec16"/>
<rect x="107.45" y="388.37" width="9.25" height="5.56" fill="#7e7e90"/>
<rect x="61.20" y="393.33" width="19.10" height="5.56" fill="#ff9a00"/>
<rect x="79.70" y="393.33" width="9.85" height="5.56" fill="#ffff00"/>
<rect x="88.95" y="393.33" width="9.85" height="5.56" fill="#c6c63a"/>
<rect x="98.20" y="393.33" width="9.85" height="5.56" fill="#ecec16"/>
<rect x="107.45" y="393.33" width="9.25" height="5.56" fill="#5c5cb4"/>
<rect x="61.20" y="398.30" width="19.10" height="5.56" fill="#ff9a00"/>
<rect x="79.70" y="398.30" width="19.10" height="5.56" fill="#ecec16"/>
<rect x="98.20" y="398.30" width="9.85" height="5.56" fill="#ffff00"/>
<rect x="107.45" y="398.30" width="9.25" height="5.56" fill="#a0a064"/>
<rect x="61.20" y="403.26" width="19.10" height="5.56" fill="#ff9a00"/>
<rect x="79.70" y="403.26" width="19.10" height="5.56" fill="#ecec16"/>
<rect x="98.20" y="403.26" width="9.85" height="5.56" fill="#ffff00"/>
<rect x="107.45" y="403.26" width="9.25" height="5.56" fill="#7e7e90"/>
<rect x="61.20" y="408.22" width="9.85" height="5.56" fill="#ff7600"/>
<rect x="70.45" y="408.22" width="9.85" height="5.56" fill="#ff9a00"/>
<rect x="79.70" y="408.22" width="9.85" height="5.56" fill="#ffff00"/>
<rect x="88.95" y="408.22" width="9.85" height="5.56" fill="#a0a064"/>
<rect x="98.20" y="408.22" width="9.85" height="5.56" fill="#ecec16"/>
<rect x="107.45" y="408.22" width="9.25" height="5.56" fill="#a0a064"/>
<rect x="61.20" y="413.18" width="19.10" height="5.56" fill="#ff9a00"/>
<rect x="79.70" y="413.18" width="9.85" height="5.56" fill="#ffdc00"/>
<rect x="88.95" y="413.18" width="9.85" height="5.56" fill="#ecec16"/>
<rect x="98.20" y="413.18" width="9.85" height="5.56" fill="#ffff00"/>
<rect x="107.45" y="413.18" width="9.25" height="5.56" fill="#5c5cb4"/>
<rect x="61.20" y="418.15" width="19.10" height="5.56" fill="#ff7600"/>
<rect x="79.70" y="418.15" width="9.85" height="5.56" fill="#ffff00"/>
<rect x="88.95" y="418.15" width="9.85" height="5.56" fill="#c6c63a"/>
<rect x="98.20" y="418.15" width="9.85" height="5.56" fill="#ecec16"/>
<rect x="107.45" y="418.15" width="9.25" height="5.56" fill="#3c3cc8"/>
<rect x="61.20" y="423.11" width="19.10" height="5.56" fill="#ff7600"/>
<rect x="79.70" y="423.11" width="9.85" height="5.56" fill="#ffff00"/>
<rect x="88.95" y="423.11" width="9.85" height="5.56" fill="#c6c63a"/>
<rect x="98.20" y="423.11" width="9.85" height="5.56" fill="#ecec16"/>
<rect x="107.45" y="423.11" width="9.25" height="5.56" fill="#3c3cc8"/>
<rect x="61.20" y="428.07" width="19.10" height="5.56" fill="#ff7600"/>
<rect x="79.70" y="428.07" width="9.85" height="5.56" fill="#ffff00"/>
<rect x="88.95" y="428.07" width="9.85" height="5.56" fill="#c6c63a"/>
<rect x="98.20" y="428.07" width="9.85" height="5.56" fill="#ecec16"/>
<rect x="107.45" y="428.07" width="9.25" height="5.56" fill="#3c3cc8"/>
<rect x="61.20" y="433.04" width="19.10" height="5.56" fill="#ff7600"/>
<rect x="79.70" y="433.04" width="9.85" height="5.56" fill="#ffdc00"/>
<rect x="88.95" y="433.04" width="9.85" height="5.56" fill="#a0a064"/>
<rect x="98.20" y="433.04" width="9.85" height="5.56" fill="#c6c63a"/>
<rect x="107.45" y="433.04" width="9.25" height="5.56" fill="#1414f0"/>
<rect x="61.20" y="438.00" width="19.10" height="5.56" fill="#ff7600"/>
<rect x="79.70" y="438.00" width="9.85" height="5.56" fill="#ffdc00"/>
<rect x="88.95" y="438.00" width="19.10" height="5.56" fill="#c6c63a"/>
<rect x="107.45" y="438.00" width="9.25" height="5.56" fill="#3c3cc8"/>
<rect x="61.20" y="442.96" width="9.85" height="5.56" fill="#ff4400"/>
<rect x="70.45" y="442.96" width="9.85" height="5.56" fill="#ff7600"/>
<rect x="79.70" y="442.96" width="9.85" height="5.56" fill="#ffff00"/>
<rect x="88.95" y="442.96" width="19.10" height="5.56" fill="#ecec16"/>
<rect x="107.45" y="442.96" width="9.25" height="5.56" fill="#5c5cb4"/>
<rect x="61.20" y="447.93" width="19.10" height="5.56" fill="#ff4400"/>
<rect x="79.70" y="447.93" width="9.85" height="5.56" fill="#ffff00"/>
<rect x="88.95" y="447.93" width="9.85" height="5.56" fill="#a0a064"/>
<rect x="98.20" y="447.93" width="9.85" height="5.56" fill="#ffff00"/>
<rect x="107.45" y="447.93" width="9.25" height="5.56" fill="#7e7e90"/>
<rect x="61.20" y="452.89" width="19.10" height="5.56" fill="#ff4400"/>
<rect x="79.70" y="452.89" width="9.85" height="5.56" fill="#ffff00"/>
<rect x="88.95" y="452.89" width="9.85" height="5.56" fill="#a0a064"/>
<rect x="98.20" y="452.89" width="9.85" height="5.56" fill="#ffff00"/>
<rect x="107.45" y="452.89" width="9.25" height="5.56" fill="#5c5cb4"/>
<rect x="61.20" y="457.85" width="19.10" height="5.56" fill="#ff4400"/>
<rect x="79.70" y="457.85" width="9.85" height="5.56" fill="#ffff00"/>
<rect x="88.95" y="457.85" width="9.85" height="5.56" fill="#a0a064"/>
<rect x="98.20" y="457.85" width="9.85" height="5.56" fill="#ffff00"/>
<rect x="107.45" y="457.85" width="9.25" height="5.56" fill="#5c5cb4"/>
<rect x="61.20" y="462.81" width="19.10" height="5.56" fill="#ff4400"/>
<rect x="79.70" y="462.81" width="9.85" height="5.56" fill="#ffff00"/>
<rect x="88.95" y="462.81" width="9.85" height="5.56" fill="#a0a064"/>
<rect x="98.20" y="462.81" width="9.85" height="5.56" fill="#ffff00"/>
<rect x="107.45" y="462.81" width="9.25" height="5.56" fill="#5c5cb4"/>
<rect x="61.20" y="467.78" width="9.85" height="5.56" fill="#ff7600"/>
<rect x="70.45" y="467.78" width="9.85" height="5.56" fill="#ff4400"/>
<rect x="79.70" y="467.78" width="9.85" height="5.56" fill="#ffff00"/>
<rect x="88.95" y="467.78" width="9.85" height="5.56" fill="#c6c63a"/>
<rect x="98.20" y="467.78" width="9.85" height="5.56" fill="#ffff00"/>
<rect x="107.45" y="467.78" width="9.25" height="5.56" fill="#5c5cb4"/>
<rect x="61.20" y="472.74" width="9.85" height="5.56" fill="#ff7600"/>
<rect x="70.45" y="472.74" width="9.85" height="5.56" fill="#ff4400"/>
<rect x="79.70" y="472.74" width="9.85" height="5.56" fill="#ffff00"/>
<rect x="88.95" y="472.74" width="9.85" height="5.56" fill="#a0a064"/>
<rect x="98.20" y="472.74" width="9.85" height="5.56" fill="#ffff00"/>
<rect x="107.45" y="472.74" width="9.25" height="5.56" fill="#7e7e90"/>
<rect x="61.20" y="477.70" width="19.10" height="5.56" fill="#ff7600"/>
<rect x="79.70" y="477.70" width="9.85" height="5.56" fill="#ffff00"/>
<rect x="88.95" y="477.70" width="9.85" height="5.56" fill="#c6c63a"/>
<rect x="98.20" y="477.70" width="9.85" height="5.56" fill="#ffff00"/>
<rect x="107.45" y="477.70" width="9.25" height="5.56" fill="#7e7e90"/>
<rect x="61.20" y="482.67" width="9.85" height="5.56" fill="#ff4400"/>
<rect x="70.45" y="482.67" width="9.85" height="5.56" fill="#ff7600"/>
<rect x="79.70" y="482.67" width="9.85" height="5.56" fill="#ffdc00"/>
<rect x="88.95" y="482.67" width="19.10" height="5.56" fill="#ecec16"/>
<rect x="107.45" y="482.67" width="9.25" height="5.56" fill="#7e7e90"/>
<rect x="61.20" y="487.63" width="9.85" height="5.56" fill="#ff4400"/>
<rect x="70.45" y="487.63" width="9.85" height="5.56" fill="#ff9a00"/>
<rect x="79.70" y="487.63" width="9.85" height="5.56" fill="#ffdc00"/>
<rect x="88.95" y="487.63" width="9.85" height="5.56" fill="#ecec16"/>
<rect x="98.20" y="487.63" width="9.85" height="5.56" fill="#ffff00"/>
<rect x="107.45" y="487.63" width="9.25" height="5.56" fill="#3c3cc8"/>
<rect x="61.20" y="492.59" width="9.85" height="5.56" fill="#ff4400"/>
<rect x="70.45" y="492.59" width="9.85" height="5.56" fill="#ff7600"/>
<rect x="79.70" y="492.59" width="9.85" height="5.56" fill="#ffff00"/>
<rect x="88.95" y="492.59" width="9.85" height="5.56" fill="#a0a064"/>
<rect x="98.20" y="492.59" width="9.85" height="5.56" fill="#ffff00"/>
<rect x="107.45" y="492.59" width="9.25" height="5.56" fill="#3c3cc8"/>
<rect x="61.20" y="497.56" width="9.85" height="5.56" fill="#ff4400"/>
<rect x="70.45" y="497.56" width="9.85" height="5.56" fill="#ff7600"/>
<rect x="79.70" y="497.56" width="9.85" height="5.56" fill="#ffff00"/>
<rect x="88.95" y="497.56" width="9.85" height="5.56" fill="#c6c63a"/>
<rect x="98.20" y="497.56" width="9.85" height="5.56" fill="#a0a064"/>
<rect x="107.45" y="497.56" width="9.25" height="5.56" fill="#1414f0"/>
<rect x="61.20" y="502.52" width="19.10" height="5.56" fill="#fd2c00"/>
<rect x="79.70" y="502.52" width="9.85" height="5.56" fill="#ffff00"/>
<rect x="88.95" y="502.52" width="9.85" height="5.56" fill="#ecec16"/>
<rect x="98.20" y="502.52" width="9.85" height="5.56" fill="#ffff00"/>
<rect x="107.45" y="502.52" width="9.25" height="5.56" fill="#a0a064"/>
<rect x="61.20" y="507.48" width="19.10" height="5.56" fill="#fd2c00"/>
<rect x="79.70" y="507.48" width="9.85" height="5.56" fill="#ffff00"/>
<rect x="88.95" y="507.48" width="9.85" height="5.56" fill="#a0a064"/>
<rect x="98.20" y="507.48" width="9.85" height="5.56" fill="#ffff00"/>
<rect x="107.45" y="507.48" width="9.25" height="5.56" fill="#a0a064"/>
<rect x="61.20" y="512.44" width="19.10" height="5.56" fill="#fd2c00"/>
<rect x="79.70" y="512.44" width="9.85" height="5.56" fill="#ffff00"/>
<rect x="88.95" y="512.44" width="9.85" height="5.56" fill="#c6c63a"/>
<rect x="98.20" y="512.44" width="9.85" height="5.56" fill="#ffdc00"/>
<rect x="107.45" y="512.44" width="9.25" height="5.56" fill="#a0a064"/>
<rect x="61.20" y="517.41" width="19.10" height="5.56" fill="#fd2c00"/>
<rect x="79.70" y="517.41" width="9.85" height="5.56" fill="#ecec16"/>
<rect x="88.95" y="517.41" width="9.85" height="5.56" fill="#7e7e90"/>
<rect x="98.20" y="517.41" width="9.85" height="5.56" fill="#ffff00"/>
<rect x="107.45" y="517.41" width="9.25" height="5.56" fill="#5c5cb4"/>
<rect x="61.20" y="522.37" width="19.10" height="5.56" fill="#ffdc00"/>
<rect x="79.70" y="522.37" width="19.10" height="5.56" fill="#ecec16"/>
<rect x="98.20" y="522.37" width="9.85" height="5.56" fill="#ffff00"/>
<rect x="107.45" y="522.37" width="9.25" height="5.56" fill="#5c5cb4"/>
<rect x="61.20" y="527.33" width="19.10" height="5.56" fill="#fa1000"/>
<rect x="79.70" y="527.33" width="9.85" height="5.56" fill="#ffff00"/>
<rect x="88.95" y="527.33" width="9.85" height="5.56" fill="#a0a064"/>
<rect x="98.20" y="527.33" width="9.85" height="5.56" fill="#ffff00"/>
<rect x="107.45" y="527.33" width="9.25" height="5.56" fill="#7e7e90"/>
<rect x="61.20" y="532.30" width="9.85" height="5.56" fill="#ffdc00"/>
<rect x="70.45" y="532.30" width="19.10" height="5.56" fill="#ffbe00"/>
<rect x="88.95" y="532.30" width="9.85" height="5.56" fill="#a0a064"/>
<rect x="98.20" y="532.30" width="9.85" height="5.56" fill="#ffff00"/>
<rect x="107.45" y="532.30" width="9.25" height="5.56" fill="#7e7e90"/>
<rect x="61.20" y="537.26" width="28.35" height="5.56" fill="#ffbe00"/>
<rect x="88.95" y="537.26" width="9.85" height="5.56" fill="#ecec16"/>
<rect x="98.20" y="537.26" width="9.85" height="5.56" fill="#ffff00"/>
<rect x="107.45" y="537.26" width="9.25" height="5.56" fill="#7e7e90"/>
<rect x="61.20" y="542.22" width="19.10" height="5.56" fill="#fa1000"/>
<rect x="79.70" y="542.22" width="9.85" height="5.56" fill="#ffff00"/>
<rect x="88.95" y="542.22" width="9.85" height="5.56" fill="#ecec16"/>
<rect x="98.20" y="542.22" width="9.85" height="5.56" fill="#ffff00"/>
<rect x="107.45" y="542.22" width="9.25" height="5.56" fill="#5c5cb4"/>
<rect x="61.20" y="547.19" width="19.10" height="5.56" fill="#ff4400"/>
<rect x="79.70" y="547.19" width="9.85" height="5.56" fill="#ecec16"/>
<rect x="88.95" y="547.19" width="9.85" height="5.56" fill="#a0a064"/>
<rect x="98.20" y="547.19" width="9.85" height="5.56" fill="#ffbe00"/>
<rect x="107.45" y="547.19" width="9.25" height="5.56" fill="#a0a064"/>
<rect x="61.20" y="552.15" width="19.10" height="5.56" fill="#fa1000"/>
<rect x="79.70" y="552.15" width="9.85" height="5.56" fill="#ffff00"/>
<rect x="88.95" y="552.15" width="9.85" height="5.56" fill="#a0a064"/>
<rect x="98.20" y="552.15" width="9.85" height="5.56" fill="#ffbe00"/>
<rect x="107.45" y="552.15" width="9.25" height="5.56" fill="#ecec16"/>
<rect x="61.20" y="557.11" width="9.85" height="5.56" fill="#ff7600"/>
<rect x="70.45" y="557.11" width="9.85" height="5.56" fill="#ffdc00"/>
<rect x="79.70" y="557.11" width="9.85" height="5.56" fill="#ffbe00"/>
<rect x="88.95" y="557.11" width="9.85" height="5.56" fill="#ecec16"/>
<rect x="98.20" y="557.11" width="9.85" height="5.56" fill="#ffff00"/>
<rect x="107.45" y="557.11" width="9.25" height="5.56" fill="#5c5cb4"/>
<rect x="61.20" y="562.07" width="19.10" height="5.56" fill="#fa1000"/>
<rect x="79.70" y="562.07" width="9.85" height="5.56" fill="#ffdc00"/>
<rect x="88.95" y="562.07" width="9.85" height="5.56" fill="#a0a064"/>
<rect x="98.20" y="562.07" width="9.85" height="5.56" fill="#ffff00"/>
<rect x="107.45" y="562.07" width="9.25" height="5.56" fill="#a0a064"/>
<rect x="61.20" y="567.04" width="19.10" height="5.56" fill="#fa1000"/>
<rect x="79.70" y="567.04" width="9.85" height="5.56" fill="#ffff00"/>
<rect x="88.95" y="567.04" width="9.85" height="5.56" fill="#a0a064"/>
<rect x="98.20" y="567.04" width="9.85" height="5.56" fill="#ffff00"/>
<rect x="107.45" y="567.04" width="9.25" height="5.56" fill="#a0a064"/>
<rect x="61.20" y="572.00" width="19.10" height="5.56" fill="#fa1000"/>
<rect x="79.70" y="572.00" width="9.85" height="5.56" fill="#ecec16"/>
<rect x="88.95" y="572.00" width="9.85" height="5.56" fill="#7e7e90"/>
<rect x="98.20" y="572.00" width="9.85" height="5.56" fill="#ffff00"/>
<rect x="107.45" y="572.00" width="9.25" height="5.56" fill="#7e7e90"/>
<rect x="61.20" y="576.96" width="19.10" height="5.56" fill="#fa1000"/>
<rect x="79.70" y="576.96" width="9.85" height="5.56" fill="#ffff00"/>
<rect x="88.95" y="576.96" width="9.85" height="5.56" fill="#7e7e90"/>
<rect x="98.20" y="576.96" width="9.85" height="5.56" fill="#ffff00"/>
<rect x="107.45" y="576.96" width="9.25" height="5.56" fill="#5c5cb4"/>
<rect x="61.20" y="581.93" width="9.85" height="5.56" fill="#fa1000"/>
<rect x="70.45" y="581.93" width="9.85" height="5.56" fill="#ff4400"/>
<rect x="79.70" y="581.93" width="9.85" height="5.56" fill="#ffff00"/>
<rect x="88.95" y="581.93" width="9.85" height="5.56" fill="#5c5cb4"/>
<rect x="98.20" y="581.93" width="9.85" height="5.56" fill="#ffff00"/>
<rect x="107.45" y="581.93" width="9.25" height="5.56" fill="#7e7e90"/>
<rect x="61.20" y="586.89" width="19.10" height="5.56" fill="#fa1000"/>
<rect x="79.70" y="586.89" width="9.85" height="5.56" fill="#ffff00"/>
<rect x="88.95" y="586.89" width="9.85" height="5.56" fill="#3c3cc8"/>
<rect x="98.20" y="586.89" width="9.85" height="5.56" fill="#ecec16"/>
<rect x="107.45" y="586.89" width="9.25" height="5.56" fill="#1414f0"/>
<rect x="61.20" y="591.85" width="19.10" height="5.56" fill="#ff4400"/>
<rect x="79.70" y="591.85" width="9.85" height="5.56" fill="#ffdc00"/>
<rect x="88.95" y="591.85" width="9.85" height="5.56" fill="#3c3cc8"/>
<rect x="98.20" y="591.85" width="9.85" height="5.56" fill="#ecec16"/>
<rect x="107.45" y="591.85" width="9.25" height="5.56" fill="#1414f0"/>
<rect x="61.20" y="596.82" width="19.10" height="5.56" fill="#fa1000"/>
<rect x="79.70" y="596.82" width="9.85" height="5.56" fill="#ffdc00"/>
<rect x="88.95" y="596.82" width="19.10" height="5.56" fill="#c6c63a"/>
<rect x="107.45" y="596.82" width="9.25" height="5.56" fill="#5c5cb4"/>
<rect x="61.20" y="601.78" width="19.10" height="5.56" fill="#fa1000"/>
<rect x="79.70" y="601.78" width="9.85" height="5.56" fill="#ffdc00"/>
<rect x="88.95" y="601.78" width="9.85" height="5.56" fill="#ffff00"/>
<rect x="98.20" y="601.78" width="9.85" height="5.56" fill="#c6c63a"/>
<rect x="107.45" y="601.78" width="9.25" height="5.56" fill="#5c5cb4"/>
<rect x="61.20" y="606.74" width="19.10" height="3.36" fill="#fa1000"/>
<rect x="79.70" y="606.74" width="9.85" height="3.36" fill="#ffdc00"/>
<rect x="88.95" y="606.74" width="9.85" height="3.36" fill="#c6c63a"/>
<rect x="98.20" y="606.74" width="9.85" height="3.36" fill="#ecec16"/>
<rect x="107.45" y="606.74" width="9.25" height="3.36" fill="#5c5cb4"/>
<rect x="149.50" y="323.85" width="46.85" height="5.56" fill="#ffff00"/>
<rect x="195.75" y="323.85" width="9.25" height="5.56" fill="#5c5cb4"/>
<rect x="149.50" y="328.81" width="37.60" height="5.56" fill="#ffff00"/>
<rect x="186.50" y="328.81" width="9.85" height="5.56" fill="#ffbe00"/>
<rect x="195.75" y="328.81" width="9.25" height="5.56" fill="#7e7e90"/>
<rect x="149.50" y="333.78" width="28.35" height="5.56" fill="#ffff00"/>
<rect x="177.25" y="333.78" width="9.85" height="5.56" fill="#ecec16"/>
<rect x="186.50" y="333.78" width="9.85" height="5.56" fill="#ffdc00"/>
<rect x="195.75" y="333.78" width="9.25" height="5.56" fill="#7e7e90"/>
<rect x="149.50" y="338.74" width="9.85" height="5.56" fill="#ffff00"/>
<rect x="158.75" y="338.74" width="9.85" height="5.56" fill="#ffdc00"/>
<rect x="168.00" y="338.74" width="9.85" height="5.56" fill="#ffff00"/>
<rect x="177.25" y="338.74" width="9.85" height="5.56" fill="#a0a064"/>
<rect x="186.50" y="338.74" width="9.85" height="5.56" fill="#ffff00"/>
<rect x="195.75" y="338.74" width="9.25" height="5.56" fill="#5c5cb4"/>
<rect x="149.50" y="343.70" width="9.85" height="5.56" fill="#ffdc00"/>
<rect x="158.75" y="343.70" width="9.85" height="5.56" fill="#ffff00"/>
<rect x="168.00" y="343.70" width="19.10" height="5.56" fill="#ecec16"/>
<rect x="186.50" y="343.70" width="9.85" height="5.56" fill="#ffbe00"/>
<rect x="195.75" y="343.70" width="9.25" height="5.56" fill="#a0a064"/>
<rect x="149.50" y="348.67" width="9.85" height="5.56" fill="#ffbe00"/>
<rect x="158.75" y="348.67" width="9.85" height="5.56" fill="#ffdc00"/>
<rect x="168.00" y="348.67" width="9.85" height="5.56" fill="#a0a064"/>
<rect x="177.25" y="348.67" width="9.85" height="5.56" fill="#ecec16"/>
<rect x="186.50" y="348.67" width="9.85" height="5.56" fill="#ffbe00"/>
<rect x="195.75" y="348.67" width="9.25" height="5.56" fill="#a0a064"/>
<rect x="149.50" y="353.63" width="19.10" height="5.56" fill="#ffdc00"/>
<rect x="168.00" y="353.63" width="19.10" height="5.56" fill="#ecec16"/>
<rect x="186.50" y="353.63" width="9.85" height="5.56" fill="#ffbe00"/>
<rect x="195.75" y="353.63" width="9.25" height="5.56" fill="#7e7e90"/>
<rect x="149.50" y="358.59" width="9.85" height="5.56" fill="#ffdc00"/>
<rect x="158.75" y="358.59" width="9.85" height="5.56" fill="#ffff00"/>
<rect x="168.00" y="358.59" width="9.85" height="5.56" fill="#ecec16"/>
<rect x="177.25" y="358.59" width="9.85" height="5.56" fill="#7e7e90"/>
<rect x="186.50" y="358.59" width="9.85" height="5.56" fill="#ffdc00"/>
<rect x="195.75" y="358.59" width="9.25" height="5.56" fill="#7e7e90"/>
<rect x="149.50" y="363.55" width="19.10" height="5.56" fill="#ffff00"/>
<rect x="168.00" y="363.55" width="9.85" height="5.56" fill="#ecec16"/>
<rect x="177.25" y="363.55" width="9.85" height="5.56" fill="#7e7e90"/>
<rect x="186.50" y="363.55" width="9.85" height="5.56" fill="#ffdc00"/>
<rect x="195.75" y="363.55" width="9.25" height="5.56" fill="#7e7e90"/>
<rect x="149.50" y="368.52" width="9.85" height="5.56" fill="#ffbe00"/>
<rect x="158.75" y="368.52" width="9.85" height="5.56" fill="#ffdc00"/>
<rect x="168.00" y="368.52" width="9.85" height="5.56" fill="#ecec16"/>
<rect x="177.25" y="368.52" width="9.85" height="5.56" fill="#7e7e90"/>
<rect x="186.50" y="368.52" width="9.85" height="5.56" fill="#ffff00"/>
<rect x="195.75" y="368.52" width="9.25" height="5.56" fill="#7e7e90"/>
<rect x="149.50" y="373.48" width="9.85" height="5.56" fill="#ff9a00"/>
<rect x="158.75" y="373.48" width="9.85" height="5.56" fill="#ffdc00"/>
<rect x="168.00" y="373.48" width="9.85" height="5.56" fill="#ecec16"/>
<rect x="177.25" y="373.48" width="9.85" height="5.56" fill="#a0a064"/>
<rect x="186.50" y="373.48" width="9.85" height="5.56" fill="#ffff00"/>
<rect x="195.75" y="373.48" width="9.25" height="5.56" fill="#5c5cb4"/>
<rect x="149.50" y="378.44" width="9.85" height="5.56" fill="#ff9a00"/>
<rect x="158.75" y="378.44" width="9.85" height="5.56" fill="#ffdc00"/>
<rect x="168.00" y="378.44" width="9.85" height="5.56" fill="#ecec16"/>
<rect x="177.25" y="378.44" width="9.85" height="5.56" fill="#7e7e90"/>
<rect x="186.50" y="378.44" width="9.85" height="5.56" fill="#ffdc00"/>
<rect x="195.75" y="378.44" width="9.25" height="5.56" fill="#5c5cb4"/>
<rect x="149.50" y="383.41" width="9.85" height="5.56" fill="#ff9a00"/>
<rect x="158.75" y="383.41" width="9.85" height="5.56" fill="#ffdc00"/>
<rect x="168.00" y="383.41" width="9.85" height="5.56" fill="#ecec16"/>
<rect x="177.25" y="383.41" width="9.85" height="5.56" fill="#7e7e90"/>
<rect x="186.50" y="383.41" width="9.85" height="5.56" fill="#ffbe00"/>
<rect x="195.75" y="383.41" width="9.25" height="5.56" fill="#7e7e90"/>
<rect x="149.50" y="388.37" width="9.85" height="5.56" fill="#ff9a00"/>
<rect x="158.75" y="388.37" width="9.85" height="5.56" fill="#ffbe00"/>
<rect x="168.00" y="388.37" width="9.85" height="5.56" fill="#ecec16"/>
<rect x="177.25" y="388.37" width="9.85" height="5.56" fill="#3c3cc8"/>
<rect x="186.50" y="388.37" width="9.85" height="5.56" fill="#ffff00"/>
<rect x="195.75" y="388.37" width="9.25" height="5.56" fill="#3c3cc8"/>
<rect x="149.50" y="393.33" width="9.85" height="5.56" fill="#ff9a00"/>
<rect x="158.75" y="393.33" width="9.85" height="5.56" fill="#ffbe00"/>
<rect x="168.00" y="393.33" width="9.85" height="5.56" fill="#ecec16"/>
<rect x="177.25" y="393.33" width="9.85" height="5.56" fill="#3c3cc8"/>
<rect x="186.50" y="393.33" width="9.85" height="5.56" fill="#ffdc00"/>
<rect x="195.75" y="393.33" width="9.25" height="5.56" fill="#5c5cb4"/>
<rect x="149.50" y="398.30" width="9.85" height="5.56" fill="#ff9a00"/>
<rect x="158.75" y="398.30" width="9.85" height="5.56" fill="#ffbe00"/>
<rect x="168.00" y="398.30" width="9.85" height="5.56" fill="#a0a064"/>
<rect x="177.25" y="398.30" width="9.85" height="5.56" fill="#3c3cc8"/>
<rect x="186.50" y="398.30" width="9.85" height="5.56" fill="#ffdc00"/>
<rect x="195.75" y="398.30" width="9.25" height="5.56" fill="#3c3cc8"/>
<rect x="149.50" y="403.26" width="9.85" height="5.56" fill="#ff7600"/>
<rect x="158.75" y="403.26" width="9.85" height="5.56" fill="#ff9a00"/>
<rect x="168.00" y="403.26" width="9.85" height="5.56" fill="#ffdc00"/>
<rect x="177.25" y="403.26" width="9.85" height="5.56" fill="#3c3cc8"/>
<rect x="186.50" y="403.26" width="9.85" height="5.56" fill="#ffff00"/>
<rect x="195.75" y="403.26" width="9.25" height="5.56" fill="#7e7e90"/>
<rect x="149.50" y="408.22" width="9.85" height="5.56" fill="#ff9a00"/>
<rect x="158.75" y="408.22" width="9.85" height="5.56" fill="#ffdc00"/>
<rect x="168.00" y="408.22" width="9.85" height="5.56" fill="#ffff00"/>
<rect x="177.25" y="408.22" width="9.85" height="5.56" fill="#a0a064"/>
<rect x="186.50" y="408.22" width="9.85" height="5.56" fill="#ffbe00"/>
<rect x="195.75" y="408.22" width="9.25" height="5.56" fill="#a0a064"/>
<rect x="149.50" y="413.18" width="9.85" height="5.56" fill="#ffbe00"/>
<rect x="158.75" y="413.18" width="19.10" height="5.56" fill="#ffff00"/>
<rect x="177.25" y="413.18" width="9.85" height="5.56" fill="#a0a064"/>
<rect x="186.50" y="413.18" width="9.85" height="5.56" fill="#ffdc00"/>
<rect x="195.75" y="413.18" width="9.25" height="5.56" fill="#5c5cb4"/>
<rect x="149.50" y="418.15" width="9.85" height="5.56" fill="#ffdc00"/>
<rect x="158.75" y="418.15" width="19.10" height="5.56" fill="#ffff00"/>
<rect x="177.25" y="418.15" width="9.85" height="5.56" fill="#a0a064"/>
<rect x="186.50" y="418.15" width="9.85" height="5.56" fill="#ffff00"/>
<rect x="195.75" y="418.15" width="9.25" height="5.56" fill="#5c5cb4"/>
<rect x="149.50" y="423.11" width="9.85" height="5.56" fill="#ffdc00"/>
<rect x="158.75" y="423.11" width="19.10" height="5.56" fill="#ffff00"/>
<rect x="177.25" y="423.11" width="9.85" height="5.56" fill="#a0a064"/>
<rect x="186.50" y="423.11" width="9.85" height="5.56" fill="#ffff00"/>
<rect x="195.75" y="423.11" width="9.25" height="5.56" fill="#7e7e90"/>
<rect x="149.50" y="428.07" width="9.85" height="5.56" fill="#ffbe00"/>
<rect x="158.75" y="428.07" width="9.85" height="5.56" fill="#ffdc00"/>
<rect x="168.00" y="428.07" width="9.85" height="5.56" fill="#ecec16"/>
<rect x="177.25" y="428.07" width="9.85" height="5.56" fill="#3c3cc8"/>
<rect x="186.50" y="428.07" width="9.85" height="5.56" fill="#ffff00"/>
<rect x="195.75" y="428.07" width="9.25" height="5.56" fill="#1414f0"/>
<rect x="149.50" y="433.04" width="28.35" height="5.56" fill="#ffff00"/>
<rect x="177.25" y="433.04" width="9.85" height="5.56" fill="#ecec16"/>
<rect x="186.50" y="433.04" width="9.85" height="5.56" fill="#ffff00"/>
<rect x="195.75" y="433.04" width="9.25" height="5.56" fill="#3c3cc8"/>
<rect x="149.50" y="438.00" width="19.10" height="5.56" fill="#ffff00"/>
<rect x="168.00" y="438.00" width="9.85" height="5.56" fill="#a0a064"/>
<rect x="177.25" y="438.00" width="9.85" height="5.56" fill="#7e7e90"/>
<rect x="186.50" y="438.00" width="9.85" height="5.56" fill="#ffbe00"/>
<rect x="195.75" y="438.00" width="9.25" height="5.56" fill="#a0a064"/>
<rect x="149.50" y="442.96" width="9.85" height="5.56" fill="#ffbe00"/>
<rect x="158.75" y="442.96" width="9.85" height="5.56" fill="#ffdc00"/>
<rect x="168.00" y="442.96" width="9.85" height="5.56" fill="#ffff00"/>
<rect x="177.25" y="442.96" width="9.85" height="5.56" fill="#a0a064"/>
<rect x="186.50" y="442.96" width="9.85" height="5.56" fill="#ecec16"/>
<rect x="195.75" y="442.96" width="9.25" height="5.56" fill="#3c3cc8"/>
<rect x="149.50" y="447.93" width="9.85" height="5.56" fill="#ff7600"/>
<rect x="158.75" y="447.93" width="9.85" height="5.56" fill="#ffbe00"/>
<rect x="168.00" y="447.93" width="9.85" height="5.56" fill="#7e7e90"/>
<rect x="177.25" y="447.93" width="9.85" height="5.56" fill="#5c5cb4"/>
<rect x="186.50" y="447.93" width="9.85" height="5.56" fill="#ffff00"/>
<rect x="195.75" y="447.93" width="9.25" height="5.56" fill="#5c5cb4"/>
<rect x="149.50" y="452.89" width="9.85" height="5.56" fill="#ffdc00"/>
<rect x="158.75" y="452.89" width="9.85" height="5.56" fill="#ffff00"/>
<rect x="168.00" y="452.89" width="9.85" height="5.56" fill="#ecec16"/>
<rect x="177.25" y="452.89" width="9.85" height="5.56" fill="#a0a064"/>
<rect x="186.50" y="452.89" width="9.85" height="5.56" fill="#ff9a00"/>
<rect x="195.75" y="452.89" width="9.25" height="5.56" fill="#a0a064"/>
<rect x="149.50" y="457.85" width="28.35" height="5.56" fill="#ffff00"/>
<rect x="177.25" y="457.85" width="9.85" height="5.56" fill="#5c5cb4"/>
<rect x="186.50" y="457.85" width="9.85" height="5.56" fill="#ff7600"/>
<rect x="195.75" y="457.85" width="9.25" height="5.56" fill="#a0a064"/>
<rect x="149.50" y="462.81" width="9.85" height="5.56" fill="#ecec16"/>
<rect x="158.75" y="462.81" width="19.10" height="5.56" fill="#ffff00"/>
<rect x="177.25" y="462.81" width="9.85" height="5.56" fill="#ecec16"/>
<rect x="186.50" y="462.81" width="9.85" height="5.56" fill="#ffbe00"/>
<rect x="195.75" y="462.81" width="9.25" height="5.56" fill="#ecec16"/>
<rect x="149.50" y="467.78" width="19.10" height="5.56" fill="#ff9a00"/>
<rect x="168.00" y="467.78" width="19.10" height="5.56" fill="#a0a064"/>
<rect x="186.50" y="467.78" width="9.85" height="5.56" fill="#ffff00"/>
<rect x="195.75" y="467.78" width="9.25" height="5.56" fill="#5c5cb4"/>
<rect x="149.50" y="472.74" width="9.85" height="5.56" fill="#ff7600"/>
<rect x="158.75" y="472.74" width="9.85" height="5.56" fill="#ff9a00"/>
<rect x="168.00" y="472.74" width="9.85" height="5.56" fill="#ffff00"/>
<rect x="177.25" y="472.74" width="9.85" height="5.56" fill="#a0a064"/>
<rect x="186.50" y="472.74" width="9.85" height="5.56" fill="#ffdc00"/>
<rect x="195.75" y="472.74" width="9.25" height="5.56" fill="#5c5cb4"/>
<rect x="149.50" y="477.70" width="19.10" height="5.56" fill="#ffff00"/>
<rect x="168.00" y="477.70" width="9.85" height="5.56" fill="#ffdc00"/>
<rect x="177.25" y="477.70" width="9.85" height="5.56" fill="#ecec16"/>
<rect x="186.50" y="477.70" width="9.85" height="5.56" fill="#ff7600"/>
<rect x="195.75" y="477.70" width="9.25" height="5.56" fill="#ecec16"/>
<rect x="149.50" y="482.67" width="9.85" height="5.56" fill="#ffff00"/>
<rect x="158.75" y="482.67" width="9.85" height="5.56" fill="#ecec16"/>
<rect x="168.00" y="482.67" width="9.85" height="5.56" fill="#ffbe00"/>
<rect x="177.25" y="482.67" width="9.85" height="5.56" fill="#ffff00"/>
<rect x="186.50" y="482.67" width="9.85" height="5.56" fill="#ff4400"/>
<rect x="195.75" y="482.67" width="9.25" height="5.56" fill="#ffff00"/>
<rect x="149.50" y="487.63" width="9.85" height="5.56" fill="#ecec16"/>
<rect x="158.75" y="487.63" width="9.85" height="5.56" fill="#a0a064"/>
<rect x="168.00" y="487.63" width="9.85" height="5.56" fill="#ffdc00"/>
<rect x="177.25" y="487.63" width="9.85" height="5.56" fill="#ffff00"/>
<rect x="186.50" y="487.63" width="9.85" height="5.56" fill="#fa1000"/>
<rect x="195.75" y="487.63" width="9.25" height="5.56" fill="#ffff00"/>
<rect x="149.50" y="492.59" width="9.85" height="5.56" fill="#a0a064"/>
<rect x="158.75" y="492.59" width="9.85" height="5.56" fill="#7e7e90"/>
<rect x="168.00" y="492.59" width="9.85" height="5.56" fill="#ffbe00"/>
<rect x="177.25" y="492.59" width="9.85" height="5.56" fill="#ecec16"/>
<rect x="186.50" y="492.59" width="9.85" height="5.56" fill="#ff4400"/>
<rect x="195.75" y="492.59" width="9.25" height="5.56" fill="#ffff00"/>
<rect x="149.50" y="497.56" width="9.85" height="5.56" fill="#ffff00"/>
<rect x="158.75" y="497.56" width="9.85" height="5.56" fill="#7e7e90"/>
<rect x="168.00" y="497.56" width="9.85" height="5.56" fill="#ffbe00"/>
<rect x="177.25" y="497.56" width="9.85" height="5.56" fill="#ecec16"/>
<rect x="186.50" y="497.56" width="9.85" height="5.56" fill="#fa1000"/>
<rect x="195.75" y="497.56" width="9.25" height="5.56" fill="#ffff00"/>
<rect x="149.50" y="502.52" width="9.85" height="5.56" fill="#ff7600"/>
<rect x="158.75" y="502.52" width="9.85" height="5.56" fill="#ffff00"/>
<rect x="168.00" y="502.52" width="9.85" height="5.56" fill="#ff9a00"/>
<rect x="177.25" y="502.52" width="9.85" height="5.56" fill="#7e7e90"/>
<rect x="186.50" y="502.52" width="9.85" height="5.56" fill="#ff9a00"/>
<rect x="195.75" y="502.52" width="9.25" height="5.56" fill="#a0a064"/>
<rect x="149.50" y="507.48" width="9.85" height="5.56" fill="#ff4400"/>
<rect x="158.75" y="507.48" width="9.85" height="5.56" fill="#ecec16"/>
<rect x="168.00" y="507.48" width="9.85" height="5.56" fill="#ffdc00"/>
<rect x="177.25" y="507.48" width="9.85" height="5.56" fill="#a0a064"/>
<rect x="186.50" y="507.48" width="9.85" height="5.56" fill="#ffbe00"/>
<rect x="195.75" y="507.48" width="9.25" height="5.56" fill="#7e7e90"/>
<rect x="149.50" y="512.44" width="9.85" height="5.56" fill="#7e7e90"/>
<rect x="158.75" y="512.44" width="9.85" height="5.56" fill="#3c3cc8"/>
<rect x="168.00" y="512.44" width="9.85" height="5.56" fill="#ffdc00"/>
<rect x="177.25" y="512.44" width="9.85" height="5.56" fill="#ecec16"/>
<rect x="186.50" y="512.44" width="9.85" height="5.56" fill="#fa1000"/>
<rect x="195.75" y="512.44" width="9.25" height="5.56" fill="#ecec16"/>
<rect x="149.50" y="517.41" width="9.85" height="5.56" fill="#ffbe00"/>
<rect x="158.75" y="517.41" width="9.85" height="5.56" fill="#ffff00"/>
<rect x="168.00" y="517.41" width="9.85" height="5.56" fill="#a0a064"/>
<rect x="177.25" y="517.41" width="9.85" height="5.56" fill="#1414f0"/>
<rect x="186.50" y="517.41" width="9.85" height="5.56" fill="#ffdc00"/>
<rect x="195.75" y="517.41" width="9.25" height="5.56" fill="#3c3cc8"/>
<rect x="149.50" y="522.37" width="9.85" height="5.56" fill="#ffdc00"/>
<rect x="158.75" y="522.37" width="9.85" height="5.56" fill="#a0a064"/>
<rect x="168.00" y="522.37" width="9.85" height="5.56" fill="#ff4400"/>
<rect x="177.25" y="522.37" width="9.85" height="5.56" fill="#ffff00"/>
<rect x="186.50" y="522.37" width="9.85" height="5.56" fill="#ff9a00"/>
<rect x="195.75" y="522.37" width="9.25" height="5.56" fill="#a0a064"/>
<rect x="149.50" y="527.33" width="9.85" height="5.56" fill="#ffdc00"/>
<rect x="158.75" y="527.33" width="9.85" height="5.56" fill="#a0a064"/>
<rect x="168.00" y="527.33" width="9.85" height="5.56" fill="#ff7600"/>
<rect x="177.25" y="527.33" width="9.85" height="5.56" fill="#ffbe00"/>
<rect x="186.50" y="527.33" width="9.85" height="5.56" fill="#ff9a00"/>
<rect x="195.75" y="527.33" width="9.25" height="5.56" fill="#a0a064"/>
<rect x="149.50" y="532.30" width="19.10" height="5.56" fill="#ffbe00"/>
<rect x="168.00" y="532.30" width="9.85" height="5.56" fill="#5c5cb4"/>
<rect x="177.25" y="532.30" width="9.85" height="5.56" fill="#3c3cc8"/>
<rect x="186.50" y="532.30" width="9.85" height="5.56" fill="#ffbe00"/>
<rect x="195.75" y="532.30" width="9.25" height="5.56" fill="#5c5cb4"/>
<rect x="149.50" y="537.26" width="9.85" height="5.56" fill="#ffdc00"/>
<rect x="158.75" y="537.26" width="9.85" height="5.56" fill="#ffff00"/>
<rect x="168.00" y="537.26" width="9.85" height="5.56" fill="#1414f0"/>
<rect x="177.25" y="537.26" width="9.85" height="5.56" fill="#3c3cc8"/>
<rect x="186.50" y="537.26" width="9.85" height="5.56" fill="#ffbe00"/>
<rect x="195.75" y="537.26" width="9.25" height="5.56" fill="#5c5cb4"/>
<rect x="149.50" y="542.22" width="9.85" height="5.56" fill="#fa1000"/>
<rect x="158.75" y="542.22" width="9.85" height="5.56" fill="#ffff00"/>
<rect x="168.00" y="542.22" width="9.85" height="5.56" fill="#ff9a00"/>
<rect x="177.25" y="542.22" width="9.85" height="5.56" fill="#a0a064"/>
<rect x="186.50" y="542.22" width="9.85" height="5.56" fill="#ffff00"/>
<rect x="195.75" y="542.22" width="9.25" height="5.56" fill="#5c5cb4"/>
<rect x="149.50" y="547.19" width="9.85" height="5.56" fill="#fa1000"/>
<rect x="158.75" y="547.19" width="9.85" height="5.56" fill="#ffff00"/>
<rect x="168.00" y="547.19" width="9.85" height="5.56" fill="#ff9a00"/>
<rect x="177.25" y="547.19" width="9.85" height="5.56" fill="#5c5cb4"/>
<rect x="186.50" y="547.19" width="9.85" height="5.56" fill="#ff9a00"/>
<rect x="195.75" y="547.19" width="9.25" height="5.56" fill="#3c3cc8"/>
<rect x="149.50" y="552.15" width="19.10" height="5.36" fill="#ffff00"/>
<rect x="168.00" y="552.15" width="9.85" height="5.36" fill="#a0a064"/>
<rect x="177.25" y="552.15" width="9.85" height="5.36" fill="#5c5cb4"/>
<rect x="186.50" y="552.15" width="18.50" height="5.36" fill="#fa1000"/>
<rect x="238.00" y="323.85" width="46.85" height="5.56" fill="#ffff00"/>
<rect x="284.25" y="323.85" width="9.25" height="5.56" fill="#fd2c00"/>
<rect x="238.00" y="328.81" width="19.10" height="5.56" fill="#ffff00"/>
<rect x="256.50" y="328.81" width="9.85" height="5.56" fill="#c6c63a"/>
<rect x="265.75" y="328.81" width="9.85" height="5.56" fill="#ffdc00"/>
<rect x="275.00" y="328.81" width="9.85" height="5.56" fill="#ffff00"/>
<rect x="284.25" y="328.81" width="9.25" height="5.56" fill="#ff4400"/>
<rect x="238.00" y="333.78" width="19.10" height="5.56" fill="#ffff00"/>
<rect x="256.50" y="333.78" width="9.85" height="5.56" fill="#c6c63a"/>
<rect x="265.75" y="333.78" width="19.10" height="5.56" fill="#ffff00"/>
<rect x="284.25" y="333.78" width="9.25" height="5.56" fill="#ff4400"/>
<rect x="238.00" y="338.74" width="19.10" height="5.56" fill="#ffff00"/>
<rect x="256.50" y="338.74" width="9.85" height="5.56" fill="#ecec16"/>
<rect x="265.75" y="338.74" width="19.10" height="5.56" fill="#ffff00"/>
<rect x="284.25" y="338.74" width="9.25" height="5.56" fill="#ff4400"/>
<rect x="238.00" y="343.70" width="9.85" height="5.56" fill="#ecec16"/>
<rect x="247.25" y="343.70" width="37.60" height="5.56" fill="#ffff00"/>
<rect x="284.25" y="343.70" width="9.25" height="5.56" fill="#ff4400"/>
<rect x="238.00" y="348.67" width="9.85" height="5.56" fill="#c6c63a"/>
<rect x="247.25" y="348.67" width="19.10" height="5.56" fill="#ffff00"/>
<rect x="265.75" y="348.67" width="9.85" height="5.56" fill="#ffbe00"/>
<rect x="275.00" y="348.67" width="9.85" height="5.56" fill="#ffff00"/>
<rect x="284.25" y="348.67" width="9.25" height="5.56" fill="#fd2c00"/>
<rect x="238.00" y="353.63" width="9.85" height="5.56" fill="#ecec16"/>
<rect x="247.25" y="353.63" width="19.10" height="5.56" fill="#ffff00"/>
<rect x="265.75" y="353.63" width="9.85" height="5.56" fill="#ffbe00"/>
<rect x="275.00" y="353.63" width="9.85" height="5.56" fill="#ffdc00"/>
<rect x="284.25" y="353.63" width="9.25" height="5.56" fill="#fd2c00"/>
<rect x="238.00" y="358.59" width="9.85" height="5.56" fill="#c6c63a"/>
<rect x="247.25" y="358.59" width="9.85" height="5.56" fill="#ffff00"/>
<rect x="256.50" y="358.59" width="9.85" height="5.56" fill="#ecec16"/>
<rect x="265.75" y="358.59" width="9.85" height="5.56" fill="#ffbe00"/>
<rect x="275.00" y="358.59" width="9.85" height="5.56" fill="#ffdc00"/>
<rect x="284.25" y="358.59" width="9.25" height="5.56" fill="#fd2c00"/>
<rect x="238.00" y="363.55" width="9.85" height="5.56" fill="#c6c63a"/>
<rect x="247.25" y="363.55" width="19.10" height="5.56" fill="#ecec16"/>
<rect x="265.75" y="363.55" width="9.85" height="5.56" fill="#ffbe00"/>
<rect x="275.00" y="363.55" width="9.85" height="5.56" fill="#ffdc00"/>
<rect x="284.25" y="363.55" width="9.25" height="5.56" fill="#ff4400"/>
<rect x="238.00" y="368.52" width="9.85" height="5.56" fill="#ecec16"/>
<rect x="247.25" y="368.52" width="9.85" height="5.56" fill="#c6c63a"/>
<rect x="256.50" y="368.52" width="9.85" height="5.56" fill="#ffff00"/>
<rect x="265.75" y="368.52" width="19.10" height="5.56" fill="#ffdc00"/>
<rect x="284.25" y="368.52" width="9.25" height="5.56" fill="#ff4400"/>
<rect x="238.00" y="373.48" width="28.35" height="5.56" fill="#ffff00"/>
<rect x="265.75" y="373.48" width="9.85" height="5.56" fill="#ffdc00"/>
<rect x="275.00" y="373.48" width="9.85" height="5.56" fill="#ffff00"/>
<rect x="284.25" y="373.48" width="9.25" height="5.56" fill="#ff4400"/>
<rect x="238.00" y="378.44" width="9.85" height="5.56" fill="#c6c63a"/>
<rect x="247.25" y="378.44" width="9.85" height="5.56" fill="#ecec16"/>
<rect x="256.50" y="378.44" width="9.85" height="5.56" fill="#ffff00"/>
<rect x="265.75" y="378.44" width="19.10" height="5.56" fill="#ffdc00"/>
<rect x="284.25" y="378.44" width="9.25" height="5.56" fill="#ff4400"/>
<rect x="238.00" y="383.41" width="19.10" height="5.56" fill="#c6c63a"/>
<rect x="256.50" y="383.41" width="9.85" height="5.56" fill="#ffff00"/>
<rect x="265.75" y="383.41" width="9.85" height="5.56" fill="#ffbe00"/>
<rect x="275.00" y="383.41" width="9.85" height="5.56" fill="#ffdc00"/>
<rect x="284.25" y="383.41" width="9.25" height="5.56" fill="#ff4400"/>
<rect x="238.00" y="388.37" width="9.85" height="5.56" fill="#ecec16"/>
<rect x="247.25" y="388.37" width="9.85" height="5.56" fill="#ffff00"/>
<rect x="256.50" y="388.37" width="9.85" height="5.56" fill="#a0a064"/>
<rect x="265.75" y="388.37" width="9.85" height="5.56" fill="#ffff00"/>
<rect x="275.00" y="388.37" width="9.85" height="5.56" fill="#ecec16"/>
<rect x="284.25" y="388.37" width="9.25" height="5.56" fill="#fd2c00"/>
<rect x="238.00" y="393.33" width="9.85" height="5.56" fill="#ffff00"/>
<rect x="247.25" y="393.33" width="9.85" height="5.56" fill="#ffdc00"/>
<rect x="256.50" y="393.33" width="9.85" height="5.56" fill="#a0a064"/>
<rect x="265.75" y="393.33" width="9.85" height="5.56" fill="#ffff00"/>
<rect x="275.00" y="393.33" width="9.85" height="5.56" fill="#c6c63a"/>
<rect x="284.25" y="393.33" width="9.25" height="5.56" fill="#ff4400"/>
<rect x="238.00" y="398.30" width="19.10" height="5.56" fill="#ffff00"/>
<rect x="256.50" y="398.30" width="9.85" height="5.56" fill="#a0a064"/>
<rect x="265.75" y="398.30" width="9.85" height="5.56" fill="#ffff00"/>
<rect x="275.00" y="398.30" width="9.85" height="5.56" fill="#a0a064"/>
<rect x="284.25" y="398.30" width="9.25" height="5.56" fill="#fd2c00"/>
<rect x="238.00" y="403.26" width="9.85" height="5.56" fill="#ffdc00"/>
<rect x="247.25" y="403.26" width="9.85" height="5.56" fill="#ffff00"/>
<rect x="256.50" y="403.26" width="9.85" height="5.56" fill="#7e7e90"/>
<rect x="265.75" y="403.26" width="9.85" height="5.56" fill="#ffff00"/>
<rect x="275.00" y="403.26" width="9.85" height="5.56" fill="#ecec16"/>
<rect x="284.25" y="403.26" width="9.25" height="5.56" fill="#fd2c00"/>
<rect x="238.00" y="408.22" width="19.10" height="5.56" fill="#ffff00"/>
<rect x="256.50" y="408.22" width="9.85" height="5.56" fill="#7e7e90"/>
<rect x="265.75" y="408.22" width="19.10" height="5.56" fill="#ffff00"/>
<rect x="284.25" y="408.22" width="9.25" height="5.56" fill="#fd2c00"/>
<rect x="238.00" y="413.18" width="9.85" height="5.56" fill="#ecec16"/>
<rect x="247.25" y="413.18" width="9.85" height="5.56" fill="#ffff00"/>
<rect x="256.50" y="413.18" width="9.85" height="5.56" fill="#a0a064"/>
<rect x="265.75" y="413.18" width="9.85" height="5.56" fill="#ecec16"/>
<rect x="275.00" y="413.18" width="9.85" height="5.56" fill="#ffff00"/>
<rect x="284.25" y="413.18" width="9.25" height="5.56" fill="#fd2c00"/>
<rect x="238.00" y="418.15" width="19.10" height="5.56" fill="#ffff00"/>
<rect x="256.50" y="418.15" width="9.85" height="5.56" fill="#a0a064"/>
<rect x="265.75" y="418.15" width="9.85" height="5.56" fill="#c6c63a"/>
<rect x="275.00" y="418.15" width="9.85" height="5.56" fill="#ffbe00"/>
<rect x="284.25" y="418.15" width="9.25" height="5.56" fill="#ff4400"/>
<rect x="238.00" y="423.11" width="9.85" height="5.56" fill="#c6c63a"/>
<rect x="247.25" y="423.11" width="9.85" height="5.56" fill="#ffff00"/>
<rect x="256.50" y="423.11" width="9.85" height="5.56" fill="#3c3cc8"/>
<rect x="265.75" y="423.11" width="9.85" height="5.56" fill="#ffff00"/>
<rect x="275.00" y="423.11" width="9.85" height="5.56" fill="#c6c63a"/>
<rect x="284.25" y="423.11" width="9.25" height="5.56" fill="#ff4400"/>
<rect x="238.00" y="428.07" width="9.85" height="5.56" fill="#ffff00"/>
<rect x="247.25" y="428.07" width="9.85" height="5.56" fill="#ecec16"/>
<rect x="256.50" y="428.07" width="9.85" height="5.56" fill="#ffff00"/>
<rect x="265.75" y="428.07" width="9.85" height="5.56" fill="#ff9a00"/>
<rect x="275.00" y="428.07" width="9.85" height="5.56" fill="#ffff00"/>
<rect x="284.25" y="428.07" width="9.25" height="5.56" fill="#ff7600"/>
<rect x="238.00" y="433.04" width="9.85" height="5.56" fill="#ecec16"/>
<rect x="247.25" y="433.04" width="9.85" height="5.56" fill="#c6c63a"/>
<rect x="256.50" y="433.04" width="9.85" height="5.56" fill="#ffff00"/>
<rect x="265.75" y="433.04" width="9.85" height="5.56" fill="#ffbe00"/>
<rect x="275.00" y="433.04" width="9.85" height="5.56" fill="#ffff00"/>
<rect x="284.25" y="433.04" width="9.25" height="5.56" fill="#ff7600"/>
<rect x="238.00" y="438.00" width="9.85" height="5.56" fill="#a0a064"/>
<rect x="247.25" y="438.00" width="9.85" height="5.56" fill="#ffff00"/>
<rect x="256.50" y="438.00" width="9.85" height="5.56" fill="#ecec16"/>
<rect x="265.75" y="438.00" width="19.10" height="5.56" fill="#ffff00"/>
<rect x="284.25" y="438.00" width="9.25" height="5.56" fill="#ff4400"/>
<rect x="238.00" y="442.96" width="19.10" height="5.56" fill="#ffff00"/>
<rect x="256.50" y="442.96" width="9.85" height="5.56" fill="#ecec16"/>
<rect x="265.75" y="442.96" width="9.85" height="5.56" fill="#ffdc00"/>
<rect x="275.00" y="442.96" width="9.85" height="5.56" fill="#a0a064"/>
<rect x="284.25" y="442.96" width="9.25" height="5.56" fill="#ff7600"/>
<rect x="238.00" y="447.93" width="19.10" height="5.56" fill="#ffff00"/>
<rect x="256.50" y="447.93" width="9.85" height="5.56" fill="#c6c63a"/>
<rect x="265.75" y="447.93" width="9.85" height="5.56" fill="#ffdc00"/>
<rect x="275.00" y="447.93" width="9.85" height="5.56" fill="#c6c63a"/>
<rect x="284.25" y="447.93" width="9.25" height="5.56" fill="#ff9a00"/>
<rect x="238.00" y="452.89" width="19.10" height="5.56" fill="#ffff00"/>
<rect x="256.50" y="452.89" width="9.85" height="5.56" fill="#c6c63a"/>
<rect x="265.75" y="452.89" width="9.85" height="5.56" fill="#ffff00"/>
<rect x="275.00" y="452.89" width="9.85" height="5.56" fill="#ecec16"/>
<rect x="284.25" y="452.89" width="9.25" height="5.56" fill="#ff9a00"/>
<rect x="238.00" y="457.85" width="19.10" height="5.56" fill="#ffff00"/>
<rect x="256.50" y="457.85" width="9.85" height="5.56" fill="#ecec16"/>
<rect x="265.75" y="457.85" width="9.85" height="5.56" fill="#ffff00"/>
<rect x="275.00" y="457.85" width="9.85" height="5.56" fill="#a0a064"/>
<rect x="284.25" y="457.85" width="9.25" height="5.56" fill="#ff9a00"/>
<rect x="238.00" y="462.81" width="9.85" height="5.56" fill="#ffdc00"/>
<rect x="247.25" y="462.81" width="9.85" height="5.56" fill="#ffff00"/>
<rect x="256.50" y="462.81" width="9.85" height="5.56" fill="#ecec16"/>
<rect x="265.75" y="462.81" width="9.85" height="5.56" fill="#ffff00"/>
<rect x="275.00" y="462.81" width="9.85" height="5.56" fill="#5c5cb4"/>
<rect x="284.25" y="462.81" width="9.25" height="5.56" fill="#ff9a00"/>
<rect x="238.00" y="467.78" width="9.85" height="5.56" fill="#ecec16"/>
<rect x="247.25" y="467.78" width="9.85" height="5.56" fill="#ffff00"/>
<rect x="256.50" y="467.78" width="9.85" height="5.56" fill="#ecec16"/>
<rect x="265.75" y="467.78" width="9.85" height="5.56" fill="#ffdc00"/>
<rect x="275.00" y="467.78" width="9.85" height="5.56" fill="#a0a064"/>
<rect x="284.25" y="467.78" width="9.25" height="5.56" fill="#ff7600"/>
<rect x="238.00" y="472.74" width="19.10" height="5.56" fill="#ffff00"/>
<rect x="256.50" y="472.74" width="9.85" height="5.56" fill="#7e7e90"/>
<rect x="265.75" y="472.74" width="9.85" height="5.56" fill="#ffff00"/>
<rect x="275.00" y="472.74" width="9.85" height="5.56" fill="#c6c63a"/>
<rect x="284.25" y="472.74" width="9.25" height="5.56" fill="#ff7600"/>
<rect x="238.00" y="477.70" width="19.10" height="5.56" fill="#ffff00"/>
<rect x="256.50" y="477.70" width="9.85" height="5.56" fill="#7e7e90"/>
<rect x="265.75" y="477.70" width="19.10" height="5.56" fill="#ecec16"/>
<rect x="284.25" y="477.70" width="9.25" height="5.56" fill="#ff7600"/>
<rect x="238.00" y="482.67" width="19.10" height="5.56" fill="#a0a064"/>
<rect x="256.50" y="482.67" width="19.10" height="5.56" fill="#ffdc00"/>
<rect x="275.00" y="482.67" width="9.85" height="5.56" fill="#ffff00"/>
<rect x="284.25" y="482.67" width="9.25" height="5.56" fill="#ff7600"/>
<rect x="238.00" y="487.63" width="19.10" height="5.56" fill="#a0a064"/>
<rect x="256.50" y="487.63" width="9.85" height="5.56" fill="#ffdc00"/>
<rect x="265.75" y="487.63" width="9.85" height="5.56" fill="#ff9a00"/>
<rect x="275.00" y="487.63" width="9.85" height="5.56" fill="#ffff00"/>
<rect x="284.25" y="487.63" width="9.25" height="5.56" fill="#ff7600"/>
<rect x="238.00" y="492.59" width="9.85" height="5.56" fill="#a0a064"/>
<rect x="247.25" y="492.59" width="9.85" height="5.56" fill="#ffff00"/>
<rect x="256.50" y="492.59" width="9.85" height="5.56" fill="#ffdc00"/>
<rect x="265.75" y="492.59" width="9.85" height="5.56" fill="#ff9a00"/>
<rect x="275.00" y="492.59" width="9.85" height="5.56" fill="#ffff00"/>
<rect x="284.25" y="492.59" width="9.25" height="5.56" fill="#ff4400"/>
<rect x="238.00" y="497.56" width="19.10" height="5.56" fill="#ffff00"/>
<rect x="256.50" y="497.56" width="9.85" height="5.56" fill="#7e7e90"/>
<rect x="265.75" y="497.56" width="9.85" height="5.56" fill="#a0a064"/>
<rect x="275.00" y="497.56" width="9.85" height="5.56" fill="#c6c63a"/>
<rect x="284.25" y="497.56" width="9.25" height="5.56" fill="#ff4400"/>
<rect x="238.00" y="502.52" width="9.85" height="5.56" fill="#ffdc00"/>
<rect x="247.25" y="502.52" width="9.85" height="5.56" fill="#ffff00"/>
<rect x="256.50" y="502.52" width="9.85" height="5.56" fill="#3c3cc8"/>
<rect x="265.75" y="502.52" width="9.85" height="5.56" fill="#7e7e90"/>
<rect x="275.00" y="502.52" width="9.85" height="5.56" fill="#ecec16"/>
<rect x="284.25" y="502.52" width="9.25" height="5.56" fill="#fd2c00"/>
<rect x="238.00" y="507.48" width="9.85" height="5.56" fill="#ffdc00"/>
<rect x="247.25" y="507.48" width="9.85" height="5.56" fill="#ffff00"/>
<rect x="256.50" y="507.48" width="9.85" height="5.56" fill="#1414f0"/>
<rect x="265.75" y="507.48" width="9.85" height="5.56" fill="#7e7e90"/>
<rect x="275.00" y="507.48" width="9.85" height="5.56" fill="#ffff00"/>
<rect x="284.25" y="507.48" width="9.25" height="5.56" fill="#ff4400"/>
<rect x="238.00" y="512.44" width="9.85" height="5.56" fill="#ffbe00"/>
<rect x="247.25" y="512.44" width="9.85" height="5.56" fill="#ffff00"/>
<rect x="256.50" y="512.44" width="9.85" height="5.56" fill="#a0a064"/>
<rect x="265.75" y="512.44" width="9.85" height="5.56" fill="#ffff00"/>
<rect x="275.00" y="512.44" width="9.85" height="5.56" fill="#1414f0"/>
<rect x="284.25" y="512.44" width="9.25" height="5.56" fill="#ffff00"/>
<rect x="238.00" y="517.41" width="9.85" height="5.56" fill="#ffbe00"/>
<rect x="247.25" y="517.41" width="9.85" height="5.56" fill="#ffff00"/>
<rect x="256.50" y="517.41" width="9.85" height="5.56" fill="#7e7e90"/>
<rect x="265.75" y="517.41" width="9.85" height="5.56" fill="#ecec16"/>
<rect x="275.00" y="517.41" width="9.85" height="5.56" fill="#5c5cb4"/>
<rect x="284.25" y="517.41" width="9.25" height="5.56" fill="#ffff00"/>
<rect x="238.00" y="522.37" width="19.10" height="5.56" fill="#ffdc00"/>
<rect x="256.50" y="522.37" width="9.85" height="5.56" fill="#7e7e90"/>
<rect x="265.75" y="522.37" width="9.85" height="5.56" fill="#a0a064"/>
<rect x="275.00" y="522.37" width="9.85" height="5.56" fill="#5c5cb4"/>
<rect x="284.25" y="522.37" width="9.25" height="5.56" fill="#ffdc00"/>
<rect x="238.00" y="527.33" width="19.10" height="5.56" fill="#ffdc00"/>
<rect x="256.50" y="527.33" width="19.10" height="5.56" fill="#a0a064"/>
<rect x="275.00" y="527.33" width="9.85" height="5.56" fill="#7e7e90"/>
<rect x="284.25" y="527.33" width="9.25" height="5.56" fill="#ffbe00"/>
<rect x="238.00" y="532.30" width="9.85" height="5.56" fill="#ffdc00"/>
<rect x="247.25" y="532.30" width="9.85" height="5.56" fill="#ffbe00"/>
<rect x="256.50" y="532.30" width="9.85" height="5.56" fill="#5c5cb4"/>
<rect x="265.75" y="532.30" width="9.85" height="5.56" fill="#a0a064"/>
<rect x="275.00" y="532.30" width="9.85" height="5.56" fill="#5c5cb4"/>
<rect x="284.25" y="532.30" width="9.25" height="5.56" fill="#ffbe00"/>
<rect x="238.00" y="537.26" width="19.10" height="5.56" fill="#ffdc00"/>
<rect x="256.50" y="537.26" width="9.85" height="5.56" fill="#3c3cc8"/>
<rect x="265.75" y="537.26" width="9.85" height="5.56" fill="#5c5cb4"/>
<rect x="275.00" y="537.26" width="9.85" height="5.56" fill="#3c3cc8"/>
<rect x="284.25" y="537.26" width="9.25" height="5.56" fill="#ffdc00"/>
<rect x="238.00" y="542.22" width="19.10" height="5.56" fill="#ffdc00"/>
<rect x="256.50" y="542.22" width="28.35" height="5.56" fill="#3c3cc8"/>
<rect x="284.25" y="542.22" width="9.25" height="5.56" fill="#ffff00"/>
<rect x="238.00" y="547.19" width="19.10" height="5.56" fill="#ffdc00"/>
<rect x="256.50" y="547.19" width="9.85" height="5.56" fill="#1414f0"/>
<rect x="265.75" y="547.19" width="9.85" height="5.56" fill="#5c5cb4"/>
<rect x="275.00" y="547.19" width="9.85" height="5.56" fill="#a0a064"/>
<rect x="284.25" y="547.19" width="9.25" height="5.56" fill="#ffbe00"/>
<rect x="238.00" y="552.15" width="9.85" height="5.56" fill="#ffff00"/>
<rect x="247.25" y="552.15" width="9.85" height="5.56" fill="#ffdc00"/>
<rect x="256.50" y="552.15" width="9.85" height="5.56" fill="#1414f0"/>
<rect x="265.75" y="552.15" width="9.85" height="5.56" fill="#5c5cb4"/>
<rect x="275.00" y="552.15" width="9.85" height="5.56" fill="#3c3cc8"/>
<rect x="284.25" y="552.15" width="9.25" height="5.56" fill="#ffbe00"/>
<rect x="238.00" y="557.11" width="19.10" height="5.56" fill="#ff9a00"/>
<rect x="256.50" y="557.11" width="9.85" height="5.56" fill="#a0a064"/>
<rect x="265.75" y="557.11" width="9.85" height="5.56" fill="#ecec16"/>
<rect x="275.00" y="557.11" width="9.85" height="5.56" fill="#5c5cb4"/>
<rect x="284.25" y="557.11" width="9.25" height="5.56" fill="#ffdc00"/>
<rect x="238.00" y="562.07" width="9.85" height="5.56" fill="#ffbe00"/>
<rect x="247.25" y="562.07" width="9.85" height="5.56" fill="#ff9a00"/>
<rect x="256.50" y="562.07" width="9.85" height="5.56" fill="#a0a064"/>
<rect x="265.75" y="562.07" width="9.85" height="5.56" fill="#ecec16"/>
<rect x="275.00" y="562.07" width="9.85" height="5.56" fill="#5c5cb4"/>
<rect x="284.25" y="562.07" width="9.25" height="5.56" fill="#ffff00"/>
<rect x="238.00" y="567.04" width="9.85" height="5.56" fill="#ffbe00"/>
<rect x="247.25" y="567.04" width="9.85" height="5.56" fill="#ffdc00"/>
<rect x="256.50" y="567.04" width="9.85" height="5.56" fill="#ffff00"/>
<rect x="265.75" y="567.04" width="9.85" height="5.56" fill="#c6c63a"/>
<rect x="275.00" y="567.04" width="9.85" height="5.56" fill="#5c5cb4"/>
<rect x="284.25" y="567.04" width="9.25" height="5.56" fill="#ffff00"/>
<rect x="238.00" y="572.00" width="9.85" height="5.56" fill="#ff7600"/>
<rect x="247.25" y="572.00" width="9.85" height="5.56" fill="#ffbe00"/>
<rect x="256.50" y="572.00" width="9.85" height="5.56" fill="#ffff00"/>
<rect x="265.75" y="572.00" width="9.85" height="5.56" fill="#ecec16"/>
<rect x="275.00" y="572.00" width="9.85" height="5.56" fill="#5c5cb4"/>
<rect x="284.25" y="572.00" width="9.25" height="5.56" fill="#ffff00"/>
<rect x="238.00" y="576.96" width="9.85" height="5.56" fill="#ffff00"/>
<rect x="247.25" y="576.96" width="9.85" height="5.56" fill="#ff9a00"/>
<rect x="256.50" y="576.96" width="9.85" height="5.56" fill="#a0a064"/>
<rect x="265.75" y="576.96" width="9.85" height="5.56" fill="#ffff00"/>
<rect x="275.00" y="576.96" width="9.85" height="5.56" fill="#a0a064"/>
<rect x="284.25" y="576.96" width="9.25" height="5.56" fill="#ff9a00"/>
<rect x="238.00" y="581.93" width="19.10" height="5.56" fill="#ffbe00"/>
<rect x="256.50" y="581.93" width="9.85" height="5.56" fill="#ecec16"/>
<rect x="265.75" y="581.93" width="9.85" height="5.56" fill="#ffff00"/>
<rect x="275.00" y="581.93" width="9.85" height="5.56" fill="#1414f0"/>
<rect x="284.25" y="581.93" width="9.25" height="5.56" fill="#a0a064"/>
<rect x="238.00" y="586.89" width="9.85" height="5.56" fill="#ffbe00"/>
<rect x="247.25" y="586.89" width="9.85" height="5.56" fill="#ffdc00"/>
<rect x="256.50" y="586.89" width="9.85" height="5.56" fill="#ecec16"/>
<rect x="265.75" y="586.89" width="9.85" height="5.56" fill="#ffff00"/>
<rect x="275.00" y="586.89" width="9.85" height="5.56" fill="#1414f0"/>
<rect x="284.25" y="586.89" width="9.25" height="5.56" fill="#a0a064"/>
<rect x="238.00" y="591.85" width="37.60" height="5.56" fill="#ffff00"/>
<rect x="275.00" y="591.85" width="9.85" height="5.56" fill="#1414f0"/>
<rect x="284.25" y="591.85" width="9.25" height="5.56" fill="#ecec16"/>
<rect x="238.00" y="596.82" width="19.10" height="5.56" fill="#ffff00"/>
<rect x="256.50" y="596.82" width="9.85" height="5.56" fill="#1414f0"/>
<rect x="265.75" y="596.82" width="9.85" height="5.56" fill="#5c5cb4"/>
<rect x="275.00" y="596.82" width="9.85" height="5.56" fill="#ecec16"/>
<rect x="284.25" y="596.82" width="9.25" height="5.56" fill="#ff4400"/>
<rect x="238.00" y="601.78" width="9.85" height="5.56" fill="#a0a064"/>
<rect x="247.25" y="601.78" width="9.85" height="5.56" fill="#7e7e90"/>
<rect x="256.50" y="601.78" width="19.10" height="5.56" fill="#ff7600"/>
<rect x="275.00" y="601.78" width="9.85" height="5.56" fill="#ffff00"/>
<rect x="284.25" y="601.78" width="9.25" height="5.56" fill="#ff9a00"/>
<rect x="238.00" y="606.74" width="9.85" height="5.56" fill="#ecec16"/>
<rect x="247.25" y="606.74" width="9.85" height="5.56" fill="#ff9a00"/>
<rect x="256.50" y="606.74" width="9.85" height="5.56" fill="#5c5cb4"/>
<rect x="265.75" y="606.74" width="9.85" height="5.56" fill="#ffff00"/>
<rect x="275.00" y="606.74" width="9.85" height="5.56" fill="#5c5cb4"/>
<rect x="284.25" y="606.74" width="9.25" height="5.56" fill="#ffdc00"/>
<rect x="238.00" y="611.70" width="19.10" height="5.56" fill="#ffff00"/>
<rect x="256.50" y="611.70" width="9.85" height="5.56" fill="#ffdc00"/>
<rect x="265.75" y="611.70" width="9.85" height="5.56" fill="#ff9a00"/>
<rect x="275.00" y="611.70" width="9.85" height="5.56" fill="#5c5cb4"/>
<rect x="284.25" y="611.70" width="9.25" height="5.56" fill="#ffbe00"/>
<rect x="238.00" y="616.67" width="19.10" height="5.56" fill="#ecec16"/>
<rect x="256.50" y="616.67" width="9.85" height="5.56" fill="#ffbe00"/>
<rect x="265.75" y="616.67" width="9.85" height="5.56" fill="#ff9a00"/>
<rect x="275.00" y="616.67" width="9.85" height="5.56" fill="#7e7e90"/>
<rect x="284.25" y="616.67" width="9.25" height="5.56" fill="#ff9a00"/>
<rect x="238.00" y="621.63" width="19.10" height="5.56" fill="#c6c63a"/>
<rect x="256.50" y="621.63" width="9.85" height="5.56" fill="#ff9a00"/>
<rect x="265.75" y="621.63" width="9.85" height="5.56" fill="#fa1000"/>
<rect x="275.00" y="621.63" width="9.85" height="5.56" fill="#ffff00"/>
<rect x="284.25" y="621.63" width="9.25" height="5.56" fill="#ff7600"/>
<rect x="238.00" y="626.59" width="19.10" height="5.56" fill="#fa1000"/>
<rect x="256.50" y="626.59" width="9.85" height="5.56" fill="#a0a064"/>
<rect x="265.75" y="626.59" width="9.85" height="5.56" fill="#ecec16"/>
<rect x="275.00" y="626.59" width="9.85" height="5.56" fill="#5c5cb4"/>
<rect x="284.25" y="626.59" width="9.25" height="5.56" fill="#ffdc00"/>
<rect x="238.00" y="631.56" width="19.10" height="5.56" fill="#fa1000"/>
<rect x="256.50" y="631.56" width="9.85" height="5.56" fill="#ecec16"/>
<rect x="265.75" y="631.56" width="9.85" height="5.56" fill="#a0a064"/>
<rect x="275.00" y="631.56" width="9.85" height="5.56" fill="#5c5cb4"/>
<rect x="284.25" y="631.56" width="9.25" height="5.56" fill="#ffff00"/>
<rect x="238.00" y="636.52" width="9.85" height="5.56" fill="#ffbe00"/>
<rect x="247.25" y="636.52" width="9.85" height="5.56" fill="#ff4400"/>
<rect x="256.50" y="636.52" width="9.85" height="5.56" fill="#3c3cc8"/>
<rect x="265.75" y="636.52" width="9.85" height="5.56" fill="#ffbe00"/>
<rect x="275.00" y="636.52" width="9.85" height="5.56" fill="#1414f0"/>
<rect x="284.25" y="636.52" width="9.25" height="5.56" fill="#ecec16"/>
<rect x="238.00" y="641.48" width="9.85" height="5.56" fill="#fa1000"/>
<rect x="247.25" y="641.48" width="9.85" height="5.56" fill="#ff4400"/>
<rect x="256.50" y="641.48" width="9.85" height="5.56" fill="#3c3cc8"/>
<rect x="265.75" y="641.48" width="9.85" height="5.56" fill="#1414f0"/>
<rect x="275.00" y="641.48" width="9.85" height="5.56" fill="#7e7e90"/>
<rect x="284.25" y="641.48" width="9.25" height="5.56" fill="#ecec16"/>
<rect x="238.00" y="646.45" width="9.85" height="5.56" fill="#ffff00"/>
<rect x="247.25" y="646.45" width="9.85" height="5.56" fill="#ffbe00"/>
<rect x="256.50" y="646.45" width="19.10" height="5.56" fill="#1414f0"/>
<rect x="275.00" y="646.45" width="9.85" height="5.56" fill="#a0a064"/>
<rect x="284.25" y="646.45" width="9.25" height="5.56" fill="#ffbe00"/>
<rect x="238.00" y="651.41" width="9.85" height="5.56" fill="#ffff00"/>
<rect x="247.25" y="651.41" width="9.85" height="5.56" fill="#ff4400"/>
<rect x="256.50" y="651.41" width="19.10" height="5.56" fill="#1414f0"/>
<rect x="275.00" y="651.41" width="9.85" height="5.56" fill="#3c3cc8"/>
<rect x="284.25" y="651.41" width="9.25" height="5.56" fill="#ffdc00"/>
<rect x="238.00" y="656.37" width="19.10" height="5.56" fill="#fa1000"/>
<rect x="256.50" y="656.37" width="9.85" height="5.56" fill="#1414f0"/>
<rect x="265.75" y="656.37" width="19.10" height="5.56" fill="#5c5cb4"/>
<rect x="284.25" y="656.37" width="9.25" height="5.56" fill="#ffbe00"/>
<rect x="238.00" y="661.33" width="9.85" height="3.36" fill="#ffdc00"/>
<rect x="247.25" y="661.33" width="9.85" height="3.36" fill="#fa1000"/>
<rect x="256.50" y="661.33" width="9.85" height="3.36" fill="#1414f0"/>
<rect x="265.75" y="661.33" width="9.85" height="3.36" fill="#3c3cc8"/>
<rect x="275.00" y="661.33" width="9.85" height="3.36" fill="#ff9a00"/>
<rect x="284.25" y="661.33" width="9.25" height="3.36" fill="#fa1000"/>
<rect x="326.00" y="323.85" width="9.85" height="5.56" fill="#1414f0"/>
<rect x="335.25" y="323.85" width="9.85" height="5.56" fill="#3c3cc8"/>
<rect x="344.50" y="323.85" width="9.85" height="5.56" fill="#ffff00"/>
<rect x="353.75" y="323.85" width="9.85" height="5.56" fill="#ffbe00"/>
<rect x="363.00" y="323.85" width="9.85" height="5.56" fill="#ffff00"/>
<rect x="372.25" y="323.85" width="9.25" height="5.56" fill="#ff7600"/>
<rect x="326.00" y="328.81" width="19.10" height="5.56" fill="#3c3cc8"/>
<rect x="344.50" y="328.81" width="9.85" height="5.56" fill="#ffff00"/>
<rect x="353.75" y="328.81" width="9.85" height="5.56" fill="#ffbe00"/>
<rect x="363.00" y="328.81" width="9.85" height="5.56" fill="#ffff00"/>
<rect x="372.25" y="328.81" width="9.25" height="5.56" fill="#ff9a00"/>
<rect x="326.00" y="333.78" width="19.10" height="5.56" fill="#3c3cc8"/>
<rect x="344.50" y="333.78" width="9.85" height="5.56" fill="#ffff00"/>
<rect x="353.75" y="333.78" width="9.85" height="5.56" fill="#ffdc00"/>
<rect x="363.00" y="333.78" width="9.85" height="5.56" fill="#ffff00"/>
<rect x="372.25" y="333.78" width="9.25" height="5.56" fill="#ff9a00"/>
<rect x="326.00" y="338.74" width="9.85" height="5.56" fill="#5c5cb4"/>
<rect x="335.25" y="338.74" width="9.85" height="5.56" fill="#3c3cc8"/>
<rect x="344.50" y="338.74" width="9.85" height="5.56" fill="#ffff00"/>
<rect x="353.75" y="338.74" width="9.85" height="5.56" fill="#ffdc00"/>
<rect x="363.00" y="338.74" width="9.85" height="5.56" fill="#ffff00"/>
<rect x="372.25" y="338.74" width="9.25" height="5.56" fill="#ff9a00"/>
<rect x="326.00" y="343.70" width="19.10" height="5.56" fill="#3c3cc8"/>
<rect x="344.50" y="343.70" width="9.85" height="5.56" fill="#ffff00"/>
<rect x="353.75" y="343.70" width="9.85" height="5.56" fill="#ffbe00"/>
<rect x="363.00" y="343.70" width="9.85" height="5.56" fill="#ffff00"/>
<rect x="372.25" y="343.70" width="9.25" height="5.56" fill="#ff9a00"/>
<rect x="326.00" y="348.67" width="19.10" height="5.56" fill="#5c5cb4"/>
<rect x="344.50" y="348.67" width="9.85" height="5.56" fill="#ffff00"/>
<rect x="353.75" y="348.67" width="9.85" height="5.56" fill="#ffdc00"/>
<rect x="363.00" y="348.67" width="9.85" height="5.56" fill="#ffff00"/>
<rect x="372.25" y="348.67" width="9.25" height="5.56" fill="#ff9a00"/>
<rect x="326.00" y="353.63" width="9.85" height="5.56" fill="#7e7e90"/>
<rect x="335.25" y="353.63" width="9.85" height="5.56" fill="#a0a064"/>
<rect x="344.50" y="353.63" width="9.85" height="5.56" fill="#ffff00"/>
<rect x="353.75" y="353.63" width="9.85" height="5.56" fill="#ffdc00"/>
<rect x="363.00" y="353.63" width="9.85" height="5.56" fill="#ffff00"/>
<rect x="372.25" y="353.63" width="9.25" height="5.56" fill="#ff9a00"/>
<rect x="326.00" y="358.59" width="9.85" height="5.56" fill="#7e7e90"/>
<rect x="335.25" y="358.59" width="9.85" height="5.56" fill="#a0a064"/>
<rect x="344.50" y="358.59" width="9.85" height="5.56" fill="#ffff00"/>
<rect x="353.75" y="358.59" width="9.85" height="5.56" fill="#ffdc00"/>
<rect x="363.00" y="358.59" width="9.85" height="5.56" fill="#ffff00"/>
<rect x="372.25" y="358.59" width="9.25" height="5.56" fill="#ff9a00"/>
<rect x="326.00" y="363.55" width="19.10" height="5.56" fill="#7e7e90"/>
<rect x="344.50" y="363.55" width="9.85" height="5.56" fill="#ffff00"/>
<rect x="353.75" y="363.55" width="9.85" height="5.56" fill="#ffdc00"/>
<rect x="363.00" y="363.55" width="9.85" height="5.56" fill="#ffff00"/>
<rect x="372.25" y="363.55" width="9.25" height="5.56" fill="#ff9a00"/>
<rect x="326.00" y="368.52" width="9.85" height="5.56" fill="#3c3cc8"/>
<rect x="335.25" y="368.52" width="9.85" height="5.56" fill="#5c5cb4"/>
<rect x="344.50" y="368.52" width="9.85" height="5.56" fill="#ffff00"/>
<rect x="353.75" y="368.52" width="9.85" height="5.56" fill="#ffdc00"/>
<rect x="363.00" y="368.52" width="9.85" height="5.56" fill="#ffff00"/>
<rect x="372.25" y="368.52" width="9.25" height="5.56" fill="#ffbe00"/>
<rect x="326.00" y="373.48" width="9.85" height="5.56" fill="#a0a064"/>
<rect x="335.25" y="373.48" width="9.85" height="5.56" fill="#7e7e90"/>
<rect x="344.50" y="373.48" width="9.85" height="5.56" fill="#ffff00"/>
<rect x="353.75" y="373.48" width="9.85" height="5.56" fill="#ffdc00"/>
<rect x="363.00" y="373.48" width="9.85" height="5.56" fill="#ffff00"/>
<rect x="372.25" y="373.48" width="9.25" height="5.56" fill="#ff7600"/>
<rect x="326.00" y="378.44" width="19.10" height="5.56" fill="#5c5cb4"/>
<rect x="344.50" y="378.44" width="9.85" height="5.56" fill="#ffff00"/>
<rect x="353.75" y="378.44" width="9.85" height="5.56" fill="#ffdc00"/>
<rect x="363.00" y="378.44" width="9.85" height="5.56" fill="#ffff00"/>
<rect x="372.25" y="378.44" width="9.25" height="5.56" fill="#ff9a00"/>
<rect x="326.00" y="383.41" width="9.85" height="5.56" fill="#5c5cb4"/>
<rect x="335.25" y="383.41" width="9.85" height="5.56" fill="#7e7e90"/>
<rect x="344.50" y="383.41" width="9.85" height="5.56" fill="#ffff00"/>
<rect x="353.75" y="383.41" width="9.85" height="5.56" fill="#ffdc00"/>
<rect x="363.00" y="383.41" width="9.85" height="5.56" fill="#ffff00"/>
<rect x="372.25" y="383.41" width="9.25" height="5.56" fill="#ff9a00"/>
<rect x="326.00" y="388.37" width="9.85" height="5.56" fill="#5c5cb4"/>
<rect x="335.25" y="388.37" width="9.85" height="5.56" fill="#7e7e90"/>
<rect x="344.50" y="388.37" width="9.85" height="5.56" fill="#ffff00"/>
<rect x="353.75" y="388.37" width="9.85" height="5.56" fill="#ffdc00"/>
<rect x="363.00" y="388.37" width="9.85" height="5.56" fill="#ffff00"/>
<rect x="372.25" y="388.37" width="9.25" height="5.56" fill="#ffbe00"/>
<rect x="326.00" y="393.33" width="9.85" height="5.56" fill="#7e7e90"/>
<rect x="335.25" y="393.33" width="9.85" height="5.56" fill="#a0a064"/>
<rect x="344.50" y="393.33" width="9.85" height="5.56" fill="#ffff00"/>
<rect x="353.75" y="393.33" width="9.85" height="5.56" fill="#ffdc00"/>
<rect x="363.00" y="393.33" width="9.85" height="5.56" fill="#ffff00"/>
<rect x="372.25" y="393.33" width="9.25" height="5.56" fill="#ffbe00"/>
<rect x="326.00" y="398.30" width="9.85" height="5.56" fill="#7e7e90"/>
<rect x="335.25" y="398.30" width="9.85" height="5.56" fill="#a0a064"/>
<rect x="344.50" y="398.30" width="9.85" height="5.56" fill="#ffff00"/>
<rect x="353.75" y="398.30" width="9.85" height="5.56" fill="#ffdc00"/>
<rect x="363.00" y="398.30" width="9.85" height="5.56" fill="#ffff00"/>
<rect x="372.25" y="398.30" width="9.25" height="5.56" fill="#ff9a00"/>
<rect x="326.00" y="403.26" width="19.10" height="5.56" fill="#7e7e90"/>
<rect x="344.50" y="403.26" width="9.85" height="5.56" fill="#ffff00"/>
<rect x="353.75" y="403.26" width="9.85" height="5.56" fill="#ffdc00"/>
<rect x="363.00" y="403.26" width="9.85" height="5.56" fill="#ffff00"/>
<rect x="372.25" y="403.26" width="9.25" height="5.56" fill="#ff9a00"/>
<rect x="326.00" y="408.22" width="19.10" height="5.56" fill="#5c5cb4"/>
<rect x="344.50" y="408.22" width="9.85" height="5.56" fill="#ecec16"/>
<rect x="353.75" y="408.22" width="9.85" height="5.56" fill="#ffdc00"/>
<rect x="363.00" y="408.22" width="9.85" height="5.56" fill="#ffff00"/>
<rect x="372.25" y="408.22" width="9.25" height="5.56" fill="#ff7600"/>
<rect x="326.00" y="413.18" width="9.85" height="5.56" fill="#3c3cc8"/>
<rect x="335.25" y="413.18" width="9.85" height="5.56" fill="#5c5cb4"/>
<rect x="344.50" y="413.18" width="9.85" height="5.56" fill="#ecec16"/>
<rect x="353.75" y="413.18" width="9.85" height="5.56" fill="#ffdc00"/>
<rect x="363.00" y="413.18" width="9.85" height="5.56" fill="#ffff00"/>
<rect x="372.25" y="413.18" width="9.25" height="5.56" fill="#ff7600"/>
<rect x="326.00" y="418.15" width="9.85" height="5.56" fill="#3c3cc8"/>
<rect x="335.25" y="418.15" width="9.85" height="5.56" fill="#7e7e90"/>
<rect x="344.50" y="418.15" width="9.85" height="5.56" fill="#ecec16"/>
<rect x="353.75" y="418.15" width="19.10" height="5.56" fill="#ffdc00"/>
<rect x="372.25" y="418.15" width="9.25" height="5.56" fill="#ff7600"/>
<rect x="326.00" y="423.11" width="9.85" height="5.56" fill="#3c3cc8"/>
<rect x="335.25" y="423.11" width="9.85" height="5.56" fill="#5c5cb4"/>
<rect x="344.50" y="423.11" width="9.85" height="5.56" fill="#ecec16"/>
<rect x="353.75" y="423.11" width="19.10" height="5.56" fill="#ffdc00"/>
<rect x="372.25" y="423.11" width="9.25" height="5.56" fill="#ff7600"/>
<rect x="326.00" y="428.07" width="9.85" height="5.56" fill="#5c5cb4"/>
<rect x="335.25" y="428.07" width="9.85" height="5.56" fill="#3c3cc8"/>
<rect x="344.50" y="428.07" width="19.10" height="5.56" fill="#ffff00"/>
<rect x="363.00" y="428.07" width="9.85" height="5.56" fill="#ffdc00"/>
<rect x="372.25" y="428.07" width="9.25" height="5.56" fill="#ff7600"/>
<rect x="326.00" y="433.04" width="19.10" height="5.56" fill="#7e7e90"/>
<rect x="344.50" y="433.04" width="9.85" height="5.56" fill="#ecec16"/>
<rect x="353.75" y="433.04" width="19.10" height="5.56" fill="#ffff00"/>
<rect x="372.25" y="433.04" width="9.25" height="5.56" fill="#ff9a00"/>
<rect x="326.00" y="438.00" width="19.10" height="5.56" fill="#a0a064"/>
<rect x="344.50" y="438.00" width="9.85" height="5.56" fill="#ecec16"/>
<rect x="353.75" y="438.00" width="19.10" height="5.56" fill="#ffff00"/>
<rect x="372.25" y="438.00" width="9.25" height="5.56" fill="#ff9a00"/>
<rect x="326.00" y="442.96" width="19.10" height="5.56" fill="#a0a064"/>
<rect x="344.50" y="442.96" width="28.35" height="5.56" fill="#ffff00"/>
<rect x="372.25" y="442.96" width="9.25" height="5.56" fill="#ff9a00"/>
<rect x="326.00" y="447.93" width="19.10" height="5.56" fill="#a0a064"/>
<rect x="344.50" y="447.93" width="9.85" height="5.56" fill="#ffff00"/>
<rect x="353.75" y="447.93" width="9.85" height="5.56" fill="#ffdc00"/>
<rect x="363.00" y="447.93" width="9.85" height="5.56" fill="#ffff00"/>
<rect x="372.25" y="447.93" width="9.25" height="5.56" fill="#ff9a00"/>
<rect x="326.00" y="452.89" width="9.85" height="5.56" fill="#a0a064"/>
<rect x="335.25" y="452.89" width="9.85" height="5.56" fill="#7e7e90"/>
<rect x="344.50" y="452.89" width="28.35" height="5.56" fill="#ffff00"/>
<rect x="372.25" y="452.89" width="9.25" height="5.56" fill="#ff9a00"/>
<rect x="326.00" y="457.85" width="19.10" height="5.56" fill="#c6c63a"/>
<rect x="344.50" y="457.85" width="9.85" height="5.56" fill="#ecec16"/>
<rect x="353.75" y="457.85" width="19.10" height="5.56" fill="#ffff00"/>
<rect x="372.25" y="457.85" width="9.25" height="5.56" fill="#ffbe00"/>
<rect x="326.00" y="462.81" width="19.10" height="5.56" fill="#c6c63a"/>
<rect x="344.50" y="462.81" width="28.35" height="5.56" fill="#ffff00"/>
<rect x="372.25" y="462.81" width="9.25" height="5.56" fill="#ff9a00"/>
<rect x="326.00" y="467.78" width="9.85" height="5.56" fill="#a0a064"/>
<rect x="335.25" y="467.78" width="9.85" height="5.56" fill="#c6c63a"/>
<rect x="344.50" y="467.78" width="9.85" height="5.56" fill="#ffff00"/>
<rect x="353.75" y="467.78" width="9.85" height="5.56" fill="#ffdc00"/>
<rect x="363.00" y="467.78" width="9.85" height="5.56" fill="#ffff00"/>
<rect x="372.25" y="467.78" width="9.25" height="5.56" fill="#ff9a00"/>
<rect x="326.00" y="472.74" width="19.10" height="5.56" fill="#c6c63a"/>
<rect x="344.50" y="472.74" width="28.35" height="5.56" fill="#ffff00"/>
<rect x="372.25" y="472.74" width="9.25" height="5.56" fill="#ff9a00"/>
<rect x="326.00" y="477.70" width="19.10" height="5.56" fill="#c6c63a"/>
<rect x="344.50" y="477.70" width="9.85" height="5.56" fill="#ffff00"/>
<rect x="353.75" y="477.70" width="9.85" height="5.56" fill="#ffdc00"/>
<rect x="363.00" y="477.70" width="9.85" height="5.56" fill="#ffff00"/>
<rect x="372.25" y="477.70" width="9.25" height="5.56" fill="#ff9a00"/>
<rect x="326.00" y="482.67" width="19.10" height="5.56" fill="#c6c63a"/>
<rect x="344.50" y="482.67" width="28.35" height="5.56" fill="#ffff00"/>
<rect x="372.25" y="482.67" width="9.25" height="5.56" fill="#ff9a00"/>
<rect x="326.00" y="487.63" width="19.10" height="5.56" fill="#c6c63a"/>
<rect x="344.50" y="487.63" width="28.35" height="5.56" fill="#ffff00"/>
<rect x="372.25" y="487.63" width="9.25" height="5.56" fill="#ff9a00"/>
<rect x="326.00" y="492.59" width="9.85" height="5.56" fill="#c6c63a"/>
<rect x="335.25" y="492.59" width="9.85" height="5.56" fill="#a0a064"/>
<rect x="344.50" y="492.59" width="9.85" height="5.56" fill="#ffff00"/>
<rect x="353.75" y="492.59" width="9.85" height="5.56" fill="#ffdc00"/>
<rect x="363.00" y="492.59" width="9.85" height="5.56" fill="#ffff00"/>
<rect x="372.25" y="492.59" width="9.25" height="5.56" fill="#ff9a00"/>
<rect x="326.00" y="497.56" width="9.85" height="5.56" fill="#c6c63a"/>
<rect x="335.25" y="497.56" width="9.85" height="5.56" fill="#a0a064"/>
<rect x="344.50" y="497.56" width="9.85" height="5.56" fill="#ffff00"/>
<rect x="353.75" y="497.56" width="9.85" height="5.56" fill="#ffdc00"/>
<rect x="363.00" y="497.56" width="9.85" height="5.56" fill="#ffff00"/>
<rect x="372.25" y="497.56" width="9.25" height="5.56" fill="#ff9a00"/>
<rect x="326.00" y="502.52" width="19.10" height="5.56" fill="#c6c63a"/>
<rect x="344.50" y="502.52" width="9.85" height="5.56" fill="#ffff00"/>
<rect x="353.75" y="502.52" width="19.10" height="5.56" fill="#ffdc00"/>
<rect x="372.25" y="502.52" width="9.25" height="5.56" fill="#ff9a00"/>
<rect x="326.00" y="507.48" width="9.85" height="5.56" fill="#c6c63a"/>
<rect x="335.25" y="507.48" width="9.85" height="5.56" fill="#a0a064"/>
<rect x="344.50" y="507.48" width="9.85" height="5.56" fill="#ffff00"/>
<rect x="353.75" y="507.48" width="9.85" height="5.56" fill="#ffbe00"/>
<rect x="363.00" y="507.48" width="9.85" height="5.56" fill="#ffdc00"/>
<rect x="372.25" y="507.48" width="9.25" height="5.56" fill="#ff9a00"/>
<rect x="326.00" y="512.44" width="19.10" height="5.56" fill="#c6c63a"/>
<rect x="344.50" y="512.44" width="28.35" height="5.56" fill="#ffff00"/>
<rect x="372.25" y="512.44" width="9.25" height="5.56" fill="#ff9a00"/>
<rect x="326.00" y="517.41" width="9.85" height="5.56" fill="#c6c63a"/>
<rect x="335.25" y="517.41" width="9.85" height="5.56" fill="#ecec16"/>
<rect x="344.50" y="517.41" width="28.35" height="5.56" fill="#ffff00"/>
<rect x="372.25" y="517.41" width="9.25" height="5.56" fill="#ff9a00"/>
<rect x="326.00" y="522.37" width="19.10" height="5.56" fill="#ecec16"/>
<rect x="344.50" y="522.37" width="9.85" height="5.56" fill="#ffff00"/>
<rect x="353.75" y="522.37" width="9.85" height="5.56" fill="#ffdc00"/>
<rect x="363.00" y="522.37" width="9.85" height="5.56" fill="#ffff00"/>
<rect x="372.25" y="522.37" width="9.25" height="5.56" fill="#ff9a00"/>
<rect x="326.00" y="527.33" width="19.10" height="5.56" fill="#ecec16"/>
<rect x="344.50" y="527.33" width="28.35" height="5.56" fill="#ffff00"/>
<rect x="372.25" y="527.33" width="9.25" height="5.56" fill="#ffbe00"/>
<rect x="326.00" y="532.30" width="19.10" height="5.56" fill="#ecec16"/>
<rect x="344.50" y="532.30" width="28.35" height="5.56" fill="#ffff00"/>
<rect x="372.25" y="532.30" width="9.25" height="5.56" fill="#ff9a00"/>
<rect x="326.00" y="537.26" width="19.10" height="5.56" fill="#ecec16"/>
<rect x="344.50" y="537.26" width="28.35" height="5.56" fill="#ffff00"/>
<rect x="372.25" y="537.26" width="9.25" height="5.56" fill="#ff9a00"/>
<rect x="326.00" y="542.22" width="19.10" height="5.56" fill="#ecec16"/>
<rect x="344.50" y="542.22" width="28.35" height="5.56" fill="#ffff00"/>
<rect x="372.25" y="542.22" width="9.25" height="5.56" fill="#ff7600"/>
<rect x="326.00" y="547.19" width="19.10" height="5.56" fill="#ecec16"/>
<rect x="344.50" y="547.19" width="19.10" height="5.56" fill="#ffff00"/>
<rect x="363.00" y="547.19" width="9.85" height="5.56" fill="#ffdc00"/>
<rect x="372.25" y="547.19" width="9.25" height="5.56" fill="#ff7600"/>
<rect x="326.00" y="552.15" width="9.85" height="5.56" fill="#ffff00"/>
<rect x="335.25" y="552.15" width="9.85" height="5.56" fill="#ecec16"/>
<rect x="344.50" y="552.15" width="19.10" height="5.56" fill="#ffff00"/>
<rect x="363.00" y="552.15" width="9.85" height="5.56" fill="#ffdc00"/>
<rect x="372.25" y="552.15" width="9.25" height="5.56" fill="#ff9a00"/>
<rect x="326.00" y="557.11" width="19.10" height="5.56" fill="#ecec16"/>
<rect x="344.50" y="557.11" width="19.10" height="5.56" fill="#ffff00"/>
<rect x="363.00" y="557.11" width="9.85" height="5.56" fill="#ffdc00"/>
<rect x="372.25" y="557.11" width="9.25" height="5.56" fill="#ff9a00"/>
<rect x="326.00" y="562.07" width="19.10" height="5.56" fill="#ecec16"/>
<rect x="344.50" y="562.07" width="28.35" height="5.56" fill="#ffff00"/>
<rect x="372.25" y="562.07" width="9.25" height="5.56" fill="#ff9a00"/>
<rect x="326.00" y="567.04" width="9.85" height="5.56" fill="#ecec16"/>
<rect x="335.25" y="567.04" width="9.85" height="5.56" fill="#c6c63a"/>
<rect x="344.50" y="567.04" width="19.10" height="5.56" fill="#ffff00"/>
<rect x="363.00" y="567.04" width="9.85" height="5.56" fill="#ffdc00"/>
<rect x="372.25" y="567.04" width="9.25" height="5.56" fill="#ff7600"/>
<rect x="326.00" y="572.00" width="28.35" height="5.56" fill="#ecec16"/>
<rect x="353.75" y="572.00" width="9.85" height="5.56" fill="#ffff00"/>
<rect x="363.00" y="572.00" width="9.85" height="5.56" fill="#ffdc00"/>
<rect x="372.25" y="572.00" width="9.25" height="5.56" fill="#ff7600"/>
<rect x="326.00" y="576.96" width="28.35" height="5.56" fill="#ecec16"/>
<rect x="353.75" y="576.96" width="9.85" height="5.56" fill="#ffff00"/>
<rect x="363.00" y="576.96" width="9.85" height="5.56" fill="#ffdc00"/>
<rect x="372.25" y="576.96" width="9.25" height="5.56" fill="#ff7600"/>
<rect x="326.00" y="581.93" width="9.85" height="5.56" fill="#c6c63a"/>
<rect x="335.25" y="581.93" width="9.85" height="5.56" fill="#ecec16"/>
<rect x="344.50" y="581.93" width="19.10" height="5.56" fill="#ffff00"/>
<rect x="363.00" y="581.93" width="9.85" height="5.56" fill="#ffdc00"/>
<rect x="372.25" y="581.93" width="9.25" height="5.56" fill="#ff7600"/>
<rect x="326.00" y="586.89" width="28.35" height="5.56" fill="#ecec16"/>
<rect x="353.75" y="586.89" width="19.10" height="5.56" fill="#ffff00"/>
<rect x="372.25" y="586.89" width="9.25" height="5.56" fill="#ff9a00"/>
<rect x="326.00" y="591.85" width="9.85" height="5.56" fill="#ecec16"/>
<rect x="335.25" y="591.85" width="9.85" height="5.56" fill="#c6c63a"/>
<rect x="344.50" y="591.85" width="9.85" height="5.56" fill="#ecec16"/>
<rect x="353.75" y="591.85" width="19.10" height="5.56" fill="#ffff00"/>
<rect x="372.25" y="591.85" width="9.25" height="5.56" fill="#ff9a00"/>
<rect x="326.00" y="596.82" width="19.10" height="5.56" fill="#ecec16"/>
<rect x="344.50" y="596.82" width="9.85" height="5.56" fill="#ffff00"/>
<rect x="353.75" y="596.82" width="9.85" height="5.56" fill="#ffdc00"/>
<rect x="363.00" y="596.82" width="9.85" height="5.56" fill="#ffff00"/>
<rect x="372.25" y="596.82" width="9.25" height="5.56" fill="#ff9a00"/>
<rect x="326.00" y="601.78" width="19.10" height="5.56" fill="#ecec16"/>
<rect x="344.50" y="601.78" width="28.35" height="5.56" fill="#ffff00"/>
<rect x="372.25" y="601.78" width="9.25" height="5.56" fill="#ff9a00"/>
<rect x="326.00" y="606.74" width="19.10" height="5.56" fill="#ecec16"/>
<rect x="344.50" y="606.74" width="28.35" height="5.56" fill="#ffff00"/>
<rect x="372.25" y="606.74" width="9.25" height="5.56" fill="#ff9a00"/>
<rect x="326.00" y="611.70" width="19.10" height="5.56" fill="#ffff00"/>
<rect x="344.50" y="611.70" width="9.85" height="5.56" fill="#ecec16"/>
<rect x="353.75" y="611.70" width="19.10" height="5.56" fill="#ffff00"/>
<rect x="372.25" y="611.70" width="9.25" height="5.56" fill="#ff9a00"/>
<rect x="326.00" y="616.67" width="19.10" height="5.56" fill="#ffff00"/>
<rect x="344.50" y="616.67" width="9.85" height="5.56" fill="#ecec16"/>
<rect x="353.75" y="616.67" width="19.10" height="5.56" fill="#ffff00"/>
<rect x="372.25" y="616.67" width="9.25" height="5.56" fill="#ff9a00"/>
<rect x="326.00" y="621.63" width="28.35" height="5.56" fill="#ffff00"/>
<rect x="353.75" y="621.63" width="9.85" height="5.56" fill="#ffdc00"/>
<rect x="363.00" y="621.63" width="9.85" height="5.56" fill="#ffff00"/>
<rect x="372.25" y="621.63" width="9.25" height="5.56" fill="#ff7600"/>
<rect x="326.00" y="626.59" width="28.35" height="5.56" fill="#ffff00"/>
<rect x="353.75" y="626.59" width="9.85" height="5.56" fill="#ffdc00"/>
<rect x="363.00" y="626.59" width="9.85" height="5.56" fill="#ffff00"/>
<rect x="372.25" y="626.59" width="9.25" height="5.56" fill="#ff7600"/>
<rect x="326.00" y="631.56" width="19.10" height="5.56" fill="#ffff00"/>
<rect x="344.50" y="631.56" width="9.85" height="5.56" fill="#c6c63a"/>
<rect x="353.75" y="631.56" width="19.10" height="5.56" fill="#ffff00"/>
<rect x="372.25" y="631.56" width="9.25" height="5.56" fill="#ff9a00"/>
<rect x="326.00" y="636.52" width="19.10" height="5.56" fill="#ecec16"/>
<rect x="344.50" y="636.52" width="28.35" height="5.56" fill="#ffff00"/>
<rect x="372.25" y="636.52" width="9.25" height="5.56" fill="#ffbe00"/>
<rect x="326.00" y="641.48" width="46.85" height="5.56" fill="#ffff00"/>
<rect x="372.25" y="641.48" width="9.25" height="5.56" fill="#ff9a00"/>
<rect x="326.00" y="646.45" width="46.85" height="3.36" fill="#ffff00"/>
<rect x="372.25" y="646.45" width="9.25" height="3.36" fill="#ff7600"/>
<rect x="405.00" y="323.85" width="19.10" height="5.56" fill="#c6c63a"/>
<rect x="423.50" y="323.85" width="9.85" height="5.56" fill="#ecec16"/>
<rect x="432.75" y="323.85" width="9.85" height="5.56" fill="#ffdc00"/>
<rect x="442.00" y="323.85" width="9.85" height="5.56" fill="#ffff00"/>
<rect x="451.25" y="323.85" width="9.25" height="5.56" fill="#ff9a00"/>
<rect x="405.00" y="328.81" width="9.85" height="5.56" fill="#ffff00"/>
<rect x="414.25" y="328.81" width="19.10" height="5.56" fill="#ecec16"/>
<rect x="432.75" y="328.81" width="9.85" height="5.56" fill="#ffff00"/>
<rect x="442.00" y="328.81" width="9.85" height="5.56" fill="#ffdc00"/>
<rect x="451.25" y="328.81" width="9.25" height="5.56" fill="#ff7600"/>
<rect x="405.00" y="333.78" width="19.10" height="5.56" fill="#c6c63a"/>
<rect x="423.50" y="333.78" width="9.85" height="5.56" fill="#ecec16"/>
<rect x="432.75" y="333.78" width="19.10" height="5.56" fill="#ffff00"/>
<rect x="451.25" y="333.78" width="9.25" height="5.56" fill="#ff9a00"/>
<rect x="405.00" y="338.74" width="9.85" height="5.56" fill="#c6c63a"/>
<rect x="414.25" y="338.74" width="19.10" height="5.56" fill="#ecec16"/>
<rect x="432.75" y="338.74" width="9.85" height="5.56" fill="#ffbe00"/>
<rect x="442.00" y="338.74" width="9.85" height="5.56" fill="#ffff00"/>
<rect x="451.25" y="338.74" width="9.25" height="5.56" fill="#ff9a00"/>
<rect x="405.00" y="343.70" width="19.10" height="5.56" fill="#c6c63a"/>
<rect x="423.50" y="343.70" width="9.85" height="5.56" fill="#ecec16"/>
<rect x="432.75" y="343.70" width="19.10" height="5.56" fill="#ffff00"/>
<rect x="451.25" y="343.70" width="9.25" height="5.56" fill="#ff9a00"/>
<rect x="405.00" y="348.67" width="19.10" height="5.56" fill="#ecec16"/>
<rect x="423.50" y="348.67" width="9.85" height="5.56" fill="#ffff00"/>
<rect x="432.75" y="348.67" width="9.85" height="5.56" fill="#ffdc00"/>
<rect x="442.00" y="348.67" width="9.85" height="5.56" fill="#ffff00"/>
<rect x="451.25" y="348.67" width="9.25" height="5.56" fill="#ff9a00"/>
<rect x="405.00" y="353.63" width="19.10" height="5.56" fill="#ecec16"/>
<rect x="423.50" y="353.63" width="9.85" height="5.56" fill="#ffff00"/>
<rect x="432.75" y="353.63" width="19.10" height="5.56" fill="#ffdc00"/>
<rect x="451.25" y="353.63" width="9.25" height="5.56" fill="#ff7600"/>
<rect x="405.00" y="358.59" width="9.85" height="5.56" fill="#c6c63a"/>
<rect x="414.25" y="358.59" width="9.85" height="5.56" fill="#ecec16"/>
<rect x="423.50" y="358.59" width="19.10" height="5.56" fill="#ffff00"/>
<rect x="442.00" y="358.59" width="9.85" height="5.56" fill="#ffdc00"/>
<rect x="451.25" y="358.59" width="9.25" height="5.56" fill="#ff7600"/>
<rect x="405.00" y="363.55" width="19.10" height="5.56" fill="#ecec16"/>
<rect x="423.50" y="363.55" width="19.10" height="5.56" fill="#ffff00"/>
<rect x="442.00" y="363.55" width="9.85" height="5.56" fill="#ffbe00"/>
<rect x="451.25" y="363.55" width="9.25" height="5.56" fill="#ff7600"/>
<rect x="405.00" y="368.52" width="19.10" height="5.56" fill="#c6c63a"/>
<rect x="423.50" y="368.52" width="28.35" height="5.56" fill="#ffff00"/>
<rect x="451.25" y="368.52" width="9.25" height="5.56" fill="#ff9a00"/>
<rect x="405.00" y="373.48" width="9.85" height="5.56" fill="#c6c63a"/>
<rect x="414.25" y="373.48" width="9.85" height="5.56" fill="#ecec16"/>
<rect x="423.50" y="373.48" width="28.35" height="5.56" fill="#ffff00"/>
<rect x="451.25" y="373.48" width="9.25" height="5.56" fill="#ff7600"/>
<rect x="405.00" y="378.44" width="19.10" height="5.56" fill="#c6c63a"/>
<rect x="423.50" y="378.44" width="19.10" height="5.56" fill="#ffff00"/>
<rect x="442.00" y="378.44" width="9.85" height="5.56" fill="#ffdc00"/>
<rect x="451.25" y="378.44" width="9.25" height="5.56" fill="#ff7600"/>
<rect x="405.00" y="383.41" width="9.85" height="5.56" fill="#c6c63a"/>
<rect x="414.25" y="383.41" width="9.85" height="5.56" fill="#ecec16"/>
<rect x="423.50" y="383.41" width="19.10" height="5.56" fill="#ffff00"/>
<rect x="442.00" y="383.41" width="9.85" height="5.56" fill="#ffdc00"/>
<rect x="451.25" y="383.41" width="9.25" height="5.56" fill="#ff4400"/>
<rect x="405.00" y="388.37" width="9.85" height="5.56" fill="#c6c63a"/>
<rect x="414.25" y="388.37" width="9.85" height="5.56" fill="#ecec16"/>
<rect x="423.50" y="388.37" width="28.35" height="5.56" fill="#ffff00"/>
<rect x="451.25" y="388.37" width="9.25" height="5.56" fill="#ff4400"/>
<rect x="405.00" y="393.33" width="19.10" height="5.56" fill="#c6c63a"/>
<rect x="423.50" y="393.33" width="9.85" height="5.56" fill="#ecec16"/>
<rect x="432.75" y="393.33" width="19.10" height="5.56" fill="#ffdc00"/>
<rect x="451.25" y="393.33" width="9.25" height="5.56" fill="#ff7600"/>
<rect x="405.00" y="398.30" width="19.10" height="5.56" fill="#c6c63a"/>
<rect x="423.50" y="398.30" width="9.85" height="5.56" fill="#ecec16"/>
<rect x="432.75" y="398.30" width="19.10" height="5.56" fill="#ffff00"/>
<rect x="451.25" y="398.30" width="9.25" height="5.56" fill="#ff7600"/>
<rect x="405.00" y="403.26" width="46.85" height="5.56" fill="#ffff00"/>
<rect x="451.25" y="403.26" width="9.25" height="5.56" fill="#ff9a00"/>
<rect x="405.00" y="408.22" width="19.10" height="5.56" fill="#ecec16"/>
<rect x="423.50" y="408.22" width="9.85" height="5.56" fill="#ffff00"/>
<rect x="432.75" y="408.22" width="9.85" height="5.56" fill="#ffdc00"/>
<rect x="442.00" y="408.22" width="9.85" height="5.56" fill="#ffff00"/>
<rect x="451.25" y="408.22" width="9.25" height="5.56" fill="#ff7600"/>
<rect x="405.00" y="413.18" width="19.10" height="5.56" fill="#ecec16"/>
<rect x="423.50" y="413.18" width="9.85" height="5.56" fill="#ffff00"/>
<rect x="432.75" y="413.18" width="9.85" height="5.56" fill="#ffdc00"/>
<rect x="442.00" y="413.18" width="9.85" height="5.56" fill="#ffff00"/>
<rect x="451.25" y="413.18" width="9.25" height="5.56" fill="#ff7600"/>
<rect x="405.00" y="418.15" width="9.85" height="5.56" fill="#c6c63a"/>
<rect x="414.25" y="418.15" width="9.85" height="5.56" fill="#ecec16"/>
<rect x="423.50" y="418.15" width="9.85" height="5.56" fill="#ffff00"/>
<rect x="432.75" y="418.15" width="9.85" height="5.56" fill="#ffdc00"/>
<rect x="442.00" y="418.15" width="9.85" height="5.56" fill="#ffff00"/>
<rect x="451.25" y="418.15" width="9.25" height="5.56" fill="#ff9a00"/>
<rect x="405.00" y="423.11" width="9.85" height="5.56" fill="#a0a064"/>
<rect x="414.25" y="423.11" width="9.85" height="5.56" fill="#ecec16"/>
<rect x="423.50" y="423.11" width="9.85" height="5.56" fill="#ffff00"/>
<rect x="432.75" y="423.11" width="9.85" height="5.56" fill="#ffdc00"/>
<rect x="442.00" y="423.11" width="9.85" height="5.56" fill="#ffff00"/>
<rect x="451.25" y="423.11" width="9.25" height="5.56" fill="#ff9a00"/>
<rect x="405.00" y="428.07" width="19.10" height="5.56" fill="#a0a064"/>
<rect x="423.50" y="428.07" width="9.85" height="5.56" fill="#ecec16"/>
<rect x="432.75" y="428.07" width="19.10" height="5.56" fill="#ffff00"/>
<rect x="451.25" y="428.07" width="9.25" height="5.56" fill="#fa1000"/>
<rect x="405.00" y="433.04" width="28.35" height="5.56" fill="#ffff00"/>
<rect x="432.75" y="433.04" width="9.85" height="5.56" fill="#ffbe00"/>
<rect x="442.00" y="433.04" width="9.85" height="5.56" fill="#ffff00"/>
<rect x="451.25" y="433.04" width="9.25" height="5.56" fill="#ff9a00"/>
<rect x="405.00" y="438.00" width="19.10" height="5.56" fill="#ecec16"/>
<rect x="423.50" y="438.00" width="19.10" height="5.56" fill="#ffff00"/>
<rect x="442.00" y="438.00" width="9.85" height="5.56" fill="#ffbe00"/>
<rect x="451.25" y="438.00" width="9.25" height="5.56" fill="#ff7600"/>
<rect x="405.00" y="442.96" width="9.85" height="5.56" fill="#7e7e90"/>
<rect x="414.25" y="442.96" width="9.85" height="5.56" fill="#a0a064"/>
<rect x="423.50" y="442.96" width="9.85" height="5.56" fill="#ffff00"/>
<rect x="432.75" y="442.96" width="9.85" height="5.56" fill="#ffdc00"/>
<rect x="442.00" y="442.96" width="9.85" height="5.56" fill="#ffff00"/>
<rect x="451.25" y="442.96" width="9.25" height="5.56" fill="#ff4400"/>
<rect x="405.00" y="447.93" width="19.10" height="5.56" fill="#a0a064"/>
<rect x="423.50" y="447.93" width="9.85" height="5.56" fill="#ffff00"/>
<rect x="432.75" y="447.93" width="9.85" height="5.56" fill="#ffdc00"/>
<rect x="442.00" y="447.93" width="9.85" height="5.56" fill="#ffbe00"/>
<rect x="451.25" y="447.93" width="9.25" height="5.56" fill="#ff4400"/>
<rect x="405.00" y="452.89" width="9.85" height="5.56" fill="#a0a064"/>
<rect x="414.25" y="452.89" width="9.85" height="5.56" fill="#7e7e90"/>
<rect x="423.50" y="452.89" width="9.85" height="5.56" fill="#ffff00"/>
<rect x="432.75" y="452.89" width="9.85" height="5.56" fill="#ffdc00"/>
<rect x="442.00" y="452.89" width="9.85" height="5.56" fill="#ffbe00"/>
<rect x="451.25" y="452.89" width="9.25" height="5.56" fill="#ff4400"/>
<rect x="405.00" y="457.85" width="19.10" height="5.56" fill="#c6c63a"/>
<rect x="423.50" y="457.85" width="9.85" height="5.56" fill="#ffff00"/>
<rect x="432.75" y="457.85" width="19.10" height="5.56" fill="#ffdc00"/>
<rect x="451.25" y="457.85" width="9.25" height="5.56" fill="#ff4400"/>
<rect x="405.00" y="462.81" width="19.10" height="5.56" fill="#5c5cb4"/>
<rect x="423.50" y="462.81" width="9.85" height="5.56" fill="#ffdc00"/>
<rect x="432.75" y="462.81" width="9.85" height="5.56" fill="#ffbe00"/>
<rect x="442.00" y="462.81" width="9.85" height="5.56" fill="#ffff00"/>
<rect x="451.25" y="462.81" width="9.25" height="5.56" fill="#ff9a00"/>
<rect x="405.00" y="467.78" width="19.10" height="5.56" fill="#a0a064"/>
<rect x="423.50" y="467.78" width="9.85" height="5.56" fill="#ecec16"/>
<rect x="432.75" y="467.78" width="19.10" height="5.56" fill="#ffff00"/>
<rect x="451.25" y="467.78" width="9.25" height="5.56" fill="#ff4400"/>
<rect x="405.00" y="472.74" width="19.10" height="5.56" fill="#a0a064"/>
<rect x="423.50" y="472.74" width="9.85" height="5.56" fill="#ffff00"/>
<rect x="432.75" y="472.74" width="9.85" height="5.56" fill="#ffdc00"/>
<rect x="442.00" y="472.74" width="9.85" height="5.56" fill="#ffff00"/>
<rect x="451.25" y="472.74" width="9.25" height="5.56" fill="#ff7600"/>
<rect x="405.00" y="477.70" width="19.10" height="5.56" fill="#c6c63a"/>
<rect x="423.50" y="477.70" width="9.85" height="5.56" fill="#ecec16"/>
<rect x="432.75" y="477.70" width="9.85" height="5.56" fill="#ffff00"/>
<rect x="442.00" y="477.70" width="9.85" height="5.56" fill="#ffdc00"/>
<rect x="451.25" y="477.70" width="9.25" height="5.56" fill="#ff7600"/>
<rect x="405.00" y="482.67" width="19.10" height="5.56" fill="#5c5cb4"/>
<rect x="423.50" y="482.67" width="9.85" height="5.56" fill="#ecec16"/>
<rect x="432.75" y="482.67" width="19.10" height="5.56" fill="#ffff00"/>
<rect x="451.25" y="482.67" width="9.25" height="5.56" fill="#ff9a00"/>
<rect x="405.00" y="487.63" width="19.10" height="5.56" fill="#ffff00"/>
<rect x="423.50" y="487.63" width="9.85" height="5.56" fill="#ecec16"/>
<rect x="432.75" y="487.63" width="9.85" height="5.56" fill="#ffdc00"/>
<rect x="442.00" y="487.63" width="9.85" height="5.56" fill="#ffff00"/>
<rect x="451.25" y="487.63" width="9.25" height="5.56" fill="#ff4400"/>
<rect x="405.00" y="492.59" width="19.10" height="5.56" fill="#ffff00"/>
<rect x="423.50" y="492.59" width="9.85" height="5.56" fill="#c6c63a"/>
<rect x="432.75" y="492.59" width="19.10" height="5.56" fill="#ffff00"/>
<rect x="451.25" y="492.59" width="9.25" height="5.56" fill="#ff7600"/>
<rect x="405.00" y="497.56" width="46.85" height="5.56" fill="#ffff00"/>
<rect x="451.25" y="497.56" width="9.25" height="5.56" fill="#fa1000"/>
<rect x="405.00" y="502.52" width="19.10" height="5.56" fill="#3c3cc8"/>
<rect x="423.50" y="502.52" width="9.85" height="5.56" fill="#ecec16"/>
<rect x="432.75" y="502.52" width="19.10" height="5.56" fill="#ffff00"/>
<rect x="451.25" y="502.52" width="9.25" height="5.56" fill="#ff4400"/>
<rect x="405.00" y="507.48" width="9.85" height="5.56" fill="#7e7e90"/>
<rect x="414.25" y="507.48" width="19.10" height="5.56" fill="#a0a064"/>
<rect x="432.75" y="507.48" width="19.10" height="5.56" fill="#ffff00"/>
<rect x="451.25" y="507.48" width="9.25" height="5.56" fill="#ff7600"/>
<rect x="405.00" y="512.44" width="19.10" height="5.56" fill="#a0a064"/>
<rect x="423.50" y="512.44" width="9.85" height="5.56" fill="#ecec16"/>
<rect x="432.75" y="512.44" width="9.85" height="5.56" fill="#ffdc00"/>
<rect x="442.00" y="512.44" width="9.85" height="5.56" fill="#ffff00"/>
<rect x="451.25" y="512.44" width="9.25" height="5.56" fill="#ff7600"/>
<rect x="405.00" y="517.41" width="9.85" height="5.56" fill="#ecec16"/>
<rect x="414.25" y="517.41" width="9.85" height="5.56" fill="#ffff00"/>
<rect x="423.50" y="517.41" width="9.85" height="5.56" fill="#ecec16"/>
<rect x="432.75" y="517.41" width="9.85" height="5.56" fill="#ffff00"/>
<rect x="442.00" y="517.41" width="9.85" height="5.56" fill="#ffdc00"/>
<rect x="451.25" y="517.41" width="9.25" height="5.56" fill="#ff7600"/>
<rect x="405.00" y="522.37" width="19.10" height="5.56" fill="#a0a064"/>
<rect x="423.50" y="522.37" width="9.85" height="5.56" fill="#ffff00"/>
<rect x="432.75" y="522.37" width="9.85" height="5.56" fill="#ff9a00"/>
<rect x="442.00" y="522.37" width="9.85" height="5.56" fill="#ffff00"/>
<rect x="451.25" y="522.37" width="9.25" height="5.56" fill="#ff4400"/>
<rect x="405.00" y="527.33" width="19.10" height="5.56" fill="#3c3cc8"/>
<rect x="423.50" y="527.33" width="9.85" height="5.56" fill="#ecec16"/>
<rect x="432.75" y="527.33" width="19.10" height="5.56" fill="#ffff00"/>
<rect x="451.25" y="527.33" width="9.25" height="5.56" fill="#ff9a00"/>
<rect x="405.00" y="532.30" width="9.85" height="5.56" fill="#3c3cc8"/>
<rect x="414.25" y="532.30" width="9.85" height="5.56" fill="#5c5cb4"/>
<rect x="423.50" y="532.30" width="9.85" height="5.56" fill="#ecec16"/>
<rect x="432.75" y="532.30" width="19.10" height="5.56" fill="#ffff00"/>
<rect x="451.25" y="532.30" width="9.25" height="5.56" fill="#ff9a00"/>
<rect x="405.00" y="537.26" width="9.85" height="5.56" fill="#3c3cc8"/>
<rect x="414.25" y="537.26" width="9.85" height="5.56" fill="#5c5cb4"/>
<rect x="423.50" y="537.26" width="9.85" height="5.56" fill="#a0a064"/>
<rect x="432.75" y="537.26" width="19.10" height="5.56" fill="#ffff00"/>
<rect x="451.25" y="537.26" width="9.25" height="5.56" fill="#ff9a00"/>
<rect x="405.00" y="542.22" width="9.85" height="5.56" fill="#3c3cc8"/>
<rect x="414.25" y="542.22" width="9.85" height="5.56" fill="#a0a064"/>
<rect x="423.50" y="542.22" width="28.35" height="5.56" fill="#ffff00"/>
<rect x="451.25" y="542.22" width="9.25" height="5.56" fill="#ffbe00"/>
<rect x="405.00" y="547.19" width="19.10" height="5.56" fill="#a0a064"/>
<rect x="423.50" y="547.19" width="19.10" height="5.56" fill="#ffff00"/>
<rect x="442.00" y="547.19" width="9.85" height="5.56" fill="#ff7600"/>
<rect x="451.25" y="547.19" width="9.25" height="5.56" fill="#fa1000"/>
<rect x="405.00" y="552.15" width="19.10" height="5.56" fill="#1414f0"/>
<rect x="423.50" y="552.15" width="9.85" height="5.56" fill="#ffdc00"/>
<rect x="432.75" y="552.15" width="9.85" height="5.56" fill="#ffbe00"/>
<rect x="442.00" y="552.15" width="9.85" height="5.56" fill="#ffdc00"/>
<rect x="451.25" y="552.15" width="9.25" height="5.56" fill="#ff9a00"/>
<rect x="405.00" y="557.11" width="19.10" height="5.56" fill="#7e7e90"/>
<rect x="423.50" y="557.11" width="9.85" height="5.56" fill="#ecec16"/>
<rect x="432.75" y="557.11" width="9.85" height="5.56" fill="#ffff00"/>
<rect x="442.00" y="557.11" width="9.85" height="5.56" fill="#ffbe00"/>
<rect x="451.25" y="557.11" width="9.25" height="5.56" fill="#ff4400"/>
<rect x="405.00" y="562.07" width="19.10" height="5.56" fill="#a0a064"/>
<rect x="423.50" y="562.07" width="9.85" height="5.56" fill="#ffff00"/>
<rect x="432.75" y="562.07" width="9.85" height="5.56" fill="#ff9a00"/>
<rect x="442.00" y="562.07" width="9.85" height="5.56" fill="#ffff00"/>
<rect x="451.25" y="562.07" width="9.25" height="5.56" fill="#ff4400"/>
<rect x="405.00" y="567.04" width="19.10" height="5.56" fill="#ffff00"/>
<rect x="423.50" y="567.04" width="9.85" height="5.56" fill="#7e7e90"/>
<rect x="432.75" y="567.04" width="9.85" height="5.56" fill="#ecec16"/>
<rect x="442.00" y="567.04" width="9.85" height="5.56" fill="#ffdc00"/>
<rect x="451.25" y="567.04" width="9.25" height="5.56" fill="#ff4400"/>
<rect x="405.00" y="572.00" width="19.10" height="5.56" fill="#5c5cb4"/>
<rect x="423.50" y="572.00" width="9.85" height="5.56" fill="#a0a064"/>
<rect x="432.75" y="572.00" width="19.10" height="5.56" fill="#ffff00"/>
<rect x="451.25" y="572.00" width="9.25" height="5.56" fill="#ff9a00"/>
<rect x="405.00" y="576.96" width="19.10" height="5.56" fill="#1414f0"/>
<rect x="423.50" y="576.96" width="9.85" height="5.56" fill="#ffff00"/>
<rect x="432.75" y="576.96" width="9.85" height="5.56" fill="#c6c63a"/>
<rect x="442.00" y="576.96" width="9.85" height="5.56" fill="#ffff00"/>
<rect x="451.25" y="576.96" width="9.25" height="5.56" fill="#ffbe00"/>
<rect x="405.00" y="581.93" width="19.10" height="5.56" fill="#ffff00"/>
<rect x="423.50" y="581.93" width="9.85" height="5.56" fill="#7e7e90"/>
<rect x="432.75" y="581.93" width="19.10" height="5.56" fill="#ffff00"/>
<rect x="451.25" y="581.93" width="9.25" height="5.56" fill="#ff7600"/>
<rect x="405.00" y="586.89" width="19.10" height="5.56" fill="#1414f0"/>
<rect x="423.50" y="586.89" width="9.85" height="5.56" fill="#a0a064"/>
<rect x="432.75" y="586.89" width="9.85" height="5.56" fill="#ffff00"/>
<rect x="442.00" y="586.89" width="9.85" height="5.56" fill="#ffdc00"/>
<rect x="451.25" y="586.89" width="9.25" height="5.56" fill="#ff4400"/>
<rect x="405.00" y="591.85" width="19.10" height="5.56" fill="#1414f0"/>
<rect x="423.50" y="591.85" width="9.85" height="5.56" fill="#ecec16"/>
<rect x="432.75" y="591.85" width="9.85" height="5.56" fill="#ffff00"/>
<rect x="442.00" y="591.85" width="9.85" height="5.56" fill="#ff9a00"/>
<rect x="451.25" y="591.85" width="9.25" height="5.56" fill="#ff4400"/>
<rect x="405.00" y="596.82" width="19.10" height="5.56" fill="#1414f0"/>
<rect x="423.50" y="596.82" width="9.85" height="5.56" fill="#ecec16"/>
<rect x="432.75" y="596.82" width="9.85" height="5.56" fill="#ffdc00"/>
<rect x="442.00" y="596.82" width="9.85" height="5.56" fill="#ff9a00"/>
<rect x="451.25" y="596.82" width="9.25" height="5.56" fill="#ff4400"/>
<rect x="405.00" y="601.78" width="19.10" height="5.56" fill="#a0a064"/>
<rect x="423.50" y="601.78" width="9.85" height="5.56" fill="#ecec16"/>
<rect x="432.75" y="601.78" width="9.85" height="5.56" fill="#ffdc00"/>
<rect x="442.00" y="601.78" width="9.85" height="5.56" fill="#ff7600"/>
<rect x="451.25" y="601.78" width="9.25" height="5.56" fill="#fa1000"/>
<rect x="405.00" y="606.74" width="19.10" height="5.56" fill="#ffff00"/>
<rect x="423.50" y="606.74" width="9.85" height="5.56" fill="#7e7e90"/>
<rect x="432.75" y="606.74" width="9.85" height="5.56" fill="#ecec16"/>
<rect x="442.00" y="606.74" width="9.85" height="5.56" fill="#ff9a00"/>
<rect x="451.25" y="606.74" width="9.25" height="5.56" fill="#fa1000"/>
<rect x="405.00" y="611.70" width="19.10" height="5.56" fill="#1414f0"/>
<rect x="423.50" y="611.70" width="9.85" height="5.56" fill="#ecec16"/>
<rect x="432.75" y="611.70" width="9.85" height="5.56" fill="#ffff00"/>
<rect x="442.00" y="611.70" width="9.85" height="5.56" fill="#ffbe00"/>
<rect x="451.25" y="611.70" width="9.25" height="5.56" fill="#ff4400"/>
<rect x="405.00" y="616.67" width="19.10" height="5.56" fill="#5c5cb4"/>
<rect x="423.50" y="616.67" width="9.85" height="5.56" fill="#ecec16"/>
<rect x="432.75" y="616.67" width="9.85" height="5.56" fill="#ffdc00"/>
<rect x="442.00" y="616.67" width="9.85" height="5.56" fill="#ff4400"/>
<rect x="451.25" y="616.67" width="9.25" height="5.56" fill="#fa1000"/>
<rect x="405.00" y="621.63" width="19.10" height="5.56" fill="#1414f0"/>
<rect x="423.50" y="621.63" width="9.85" height="5.56" fill="#ffdc00"/>
<rect x="432.75" y="621.63" width="9.85" height="5.56" fill="#ff7600"/>
<rect x="442.00" y="621.63" width="9.85" height="5.56" fill="#ffff00"/>
<rect x="451.25" y="621.63" width="9.25" height="5.56" fill="#ff7600"/>
<rect x="405.00" y="626.59" width="19.10" height="5.56" fill="#1414f0"/>
<rect x="423.50" y="626.59" width="9.85" height="5.56" fill="#ecec16"/>
<rect x="432.75" y="626.59" width="9.85" height="5.56" fill="#ffdc00"/>
<rect x="442.00" y="626.59" width="9.85" height="5.56" fill="#ffff00"/>
<rect x="451.25" y="626.59" width="9.25" height="5.56" fill="#ff9a00"/>
<rect x="405.00" y="631.56" width="19.10" height="5.56" fill="#1414f0"/>
<rect x="423.50" y="631.56" width="9.85" height="5.56" fill="#ffff00"/>
<rect x="432.75" y="631.56" width="9.85" height="5.56" fill="#ffbe00"/>
<rect x="442.00" y="631.56" width="9.85" height="5.56" fill="#ffff00"/>
<rect x="451.25" y="631.56" width="9.25" height="5.56" fill="#ff9a00"/>
<rect x="405.00" y="636.52" width="19.10" height="5.56" fill="#1414f0"/>
<rect x="423.50" y="636.52" width="9.85" height="5.56" fill="#ffff00"/>
<rect x="432.75" y="636.52" width="9.85" height="5.56" fill="#ffbe00"/>
<rect x="442.00" y="636.52" width="9.85" height="5.56" fill="#ffff00"/>
<rect x="451.25" y="636.52" width="9.25" height="5.56" fill="#ff9a00"/>
<rect x="405.00" y="641.48" width="19.10" height="3.36" fill="#1414f0"/>
<rect x="423.50" y="641.48" width="9.85" height="3.36" fill="#ecec16"/>
<rect x="432.75" y="641.48" width="9.85" height="3.36" fill="#ff9a00"/>
<rect x="442.00" y="641.48" width="9.85" height="3.36" fill="#ffff00"/>
<rect x="451.25" y="641.48" width="9.25" height="3.36" fill="#ff9a00"/>
<rect x="149.00" y="573.30" width="19.10" height="4.00" fill="#1414f0"/>
<rect x="167.50" y="573.30" width="9.85" height="4.00" fill="#ffdc00"/>
<rect x="176.75" y="573.30" width="9.85" height="4.00" fill="#a0a064"/>
<rect x="186.00" y="573.30" width="9.85" height="4.00" fill="#fa1000"/>
<rect x="195.25" y="573.30" width="9.25" height="4.00" fill="#ff9a00"/>
<rect x="149.00" y="589.00" width="19.10" height="5.56" fill="#fa1000"/>
<rect x="167.50" y="589.00" width="19.10" height="5.56" fill="#ffff00"/>
<rect x="186.00" y="589.00" width="9.85" height="5.56" fill="#3c3cc8"/>
<rect x="195.25" y="589.00" width="9.25" height="5.56" fill="#a0a064"/>
<rect x="149.00" y="593.96" width="19.10" height="5.56" fill="#fa1000"/>
<rect x="167.50" y="593.96" width="19.10" height="5.56" fill="#a0a064"/>
<rect x="186.00" y="593.96" width="9.85" height="5.56" fill="#5c5cb4"/>
<rect x="195.25" y="593.96" width="9.25" height="5.56" fill="#ffff00"/>
<rect x="149.00" y="598.93" width="19.10" height="5.56" fill="#fa1000"/>
<rect x="167.50" y="598.93" width="9.85" height="5.56" fill="#5c5cb4"/>
<rect x="176.75" y="598.93" width="19.10" height="5.56" fill="#a0a064"/>
<rect x="195.25" y="598.93" width="9.25" height="5.56" fill="#ffff00"/>
<rect x="149.00" y="603.89" width="9.85" height="5.56" fill="#ff4400"/>
<rect x="158.25" y="603.89" width="9.85" height="5.56" fill="#fa1000"/>
<rect x="167.50" y="603.89" width="19.10" height="5.56" fill="#a0a064"/>
<rect x="186.00" y="603.89" width="9.85" height="5.56" fill="#7e7e90"/>
<rect x="195.25" y="603.89" width="9.25" height="5.56" fill="#ffff00"/>
<rect x="149.00" y="608.85" width="9.85" height="5.56" fill="#ff4400"/>
<rect x="158.25" y="608.85" width="9.85" height="5.56" fill="#fa1000"/>
<rect x="167.50" y="608.85" width="9.85" height="5.56" fill="#a0a064"/>
<rect x="176.75" y="608.85" width="9.85" height="5.56" fill="#ffff00"/>
<rect x="186.00" y="608.85" width="9.85" height="5.56" fill="#7e7e90"/>
<rect x="195.25" y="608.85" width="9.25" height="5.56" fill="#ffff00"/>
<rect x="149.00" y="613.82" width="19.10" height="5.56" fill="#fa1000"/>
<rect x="167.50" y="613.82" width="9.85" height="5.56" fill="#1414f0"/>
<rect x="176.75" y="613.82" width="9.85" height="5.56" fill="#3c3cc8"/>
<rect x="186.00" y="613.82" width="9.85" height="5.56" fill="#1414f0"/>
<rect x="195.25" y="613.82" width="9.25" height="5.56" fill="#ffff00"/>
<rect x="149.00" y="618.78" width="19.10" height="3.76" fill="#fa1000"/>
<rect x="167.50" y="618.78" width="9.85" height="3.76" fill="#5c5cb4"/>
<rect x="176.75" y="618.78" width="19.10" height="3.76" fill="#7e7e90"/>
<rect x="195.25" y="618.78" width="9.25" height="3.76" fill="#ffff00"/>
</g>
<text x="60.70" y="322.00" font-size="6.8" text-anchor="start" font-family="Liberation Sans, sans-serif" fill="#000" stroke="#000" stroke-width="0.122">Cluster 1</text>
<text x="149.20" y="322.00" font-size="6.8" text-anchor="start" font-family="Liberation Sans, sans-serif" fill="#000" stroke="#000" stroke-width="0.122">Cluster 2</text>
<text x="237.70" y="322.00" font-size="6.8" text-anchor="start" font-family="Liberation Sans, sans-serif" fill="#000" stroke="#000" stroke-width="0.122">Cluster 5</text>
<text x="325.70" y="322.00" font-size="6.8" text-anchor="start" font-family="Liberation Sans, sans-serif" fill="#000" stroke="#000" stroke-width="0.122">Cluster 6</text>
<text x="148.70" y="570.90" font-size="6.8" text-anchor="start" font-family="Liberation Sans, sans-serif" fill="#000" stroke="#000" stroke-width="0.122">Cluster 3</text>
<text x="148.70" y="586.80" font-size="6.8" text-anchor="start" font-family="Liberation Sans, sans-serif" fill="#000" stroke="#000" stroke-width="0.122">Cluster 4</text>
<text x="63.00" y="617.30" font-size="5.8" text-anchor="start" font-family="Liberation Sans, sans-serif" fill="#222" stroke="#222" stroke-width="0.104">KD</text>
<text x="74.10" y="617.30" font-size="5.8" text-anchor="start" font-family="Liberation Sans, sans-serif" fill="#222" stroke="#222" stroke-width="0.104">C</text>
<line x1="61.90" y1="618.40" x2="77.80" y2="618.40" stroke="#222" stroke-width="0.55"/>
<text x="70.00" y="623.60" font-size="5.5" text-anchor="middle" font-family="Liberation Sans, sans-serif" fill="#222" stroke="#222" stroke-width="0.099">0 h</text>
<text x="81.50" y="617.30" font-size="5.8" text-anchor="start" font-family="Liberation Sans, sans-serif" fill="#222" stroke="#222" stroke-width="0.104">KD</text>
<text x="92.60" y="617.30" font-size="5.8" text-anchor="start" font-family="Liberation Sans, sans-serif" fill="#222" stroke="#222" stroke-width="0.104">C</text>
<line x1="80.40" y1="618.40" x2="96.30" y2="618.40" stroke="#222" stroke-width="0.55"/>
<text x="88.50" y="623.60" font-size="5.5" text-anchor="middle" font-family="Liberation Sans, sans-serif" fill="#222" stroke="#222" stroke-width="0.099">48 h</text>
<text x="100.00" y="617.30" font-size="5.8" text-anchor="start" font-family="Liberation Sans, sans-serif" fill="#222" stroke="#222" stroke-width="0.104">KD</text>
<text x="111.10" y="617.30" font-size="5.8" text-anchor="start" font-family="Liberation Sans, sans-serif" fill="#222" stroke="#222" stroke-width="0.104">C</text>
<line x1="98.90" y1="618.40" x2="114.80" y2="618.40" stroke="#222" stroke-width="0.55"/>
<text x="107.00" y="623.60" font-size="5.5" text-anchor="middle" font-family="Liberation Sans, sans-serif" fill="#222" stroke="#222" stroke-width="0.099">72 h</text>
<text x="150.20" y="629.00" font-size="5.8" text-anchor="start" font-family="Liberation Sans, sans-serif" fill="#222" stroke="#222" stroke-width="0.104">KD</text>
<text x="161.30" y="629.00" font-size="5.8" text-anchor="start" font-family="Liberation Sans, sans-serif" fill="#222" stroke="#222" stroke-width="0.104">C</text>
<line x1="149.10" y1="630.10" x2="165.00" y2="630.10" stroke="#222" stroke-width="0.55"/>
<text x="157.20" y="635.30" font-size="5.5" text-anchor="middle" font-family="Liberation Sans, sans-serif" fill="#222" stroke="#222" stroke-width="0.099">0 h</text>
<text x="168.70" y="629.00" font-size="5.8" text-anchor="start" font-family="Liberation Sans, sans-serif" fill="#222" stroke="#222" stroke-width="0.104">KD</text>
<text x="179.80" y="629.00" font-size="5.8" text-anchor="start" font-family="Liberation Sans, sans-serif" fill="#222" stroke="#222" stroke-width="0.104">C</text>
<line x1="167.60" y1="630.10" x2="183.50" y2="630.10" stroke="#222" stroke-width="0.55"/>
<text x="175.70" y="635.30" font-size="5.5" text-anchor="middle" font-family="Liberation Sans, sans-serif" fill="#222" stroke="#222" stroke-width="0.099">48 h</text>
<text x="187.20" y="629.00" font-size="5.8" text-anchor="start" font-family="Liberation Sans, sans-serif" fill="#222" stroke="#222" stroke-width="0.104">KD</text>
<text x="198.30" y="629.00" font-size="5.8" text-anchor="start" font-family="Liberation Sans, sans-serif" fill="#222" stroke="#222" stroke-width="0.104">C</text>
<line x1="186.10" y1="630.10" x2="202.00" y2="630.10" stroke="#222" stroke-width="0.55"/>
<text x="194.20" y="635.30" font-size="5.5" text-anchor="middle" font-family="Liberation Sans, sans-serif" fill="#222" stroke="#222" stroke-width="0.099">72 h</text>
<text x="239.10" y="671.20" font-size="5.8" text-anchor="start" font-family="Liberation Sans, sans-serif" fill="#222" stroke="#222" stroke-width="0.104">KD</text>
<text x="250.20" y="671.20" font-size="5.8" text-anchor="start" font-family="Liberation Sans, sans-serif" fill="#222" stroke="#222" stroke-width="0.104">C</text>
<line x1="238.00" y1="672.30" x2="253.90" y2="672.30" stroke="#222" stroke-width="0.55"/>
<text x="246.10" y="677.50" font-size="5.5" text-anchor="middle" font-family="Liberation Sans, sans-serif" fill="#222" stroke="#222" stroke-width="0.099">0 h</text>
<text x="257.60" y="671.20" font-size="5.8" text-anchor="start" font-family="Liberation Sans, sans-serif" fill="#222" stroke="#222" stroke-width="0.104">KD</text>
<text x="268.70" y="671.20" font-size="5.8" text-anchor="start" font-family="Liberation Sans, sans-serif" fill="#222" stroke="#222" stroke-width="0.104">C</text>
<line x1="256.50" y1="672.30" x2="272.40" y2="672.30" stroke="#222" stroke-width="0.55"/>
<text x="264.60" y="677.50" font-size="5.5" text-anchor="middle" font-family="Liberation Sans, sans-serif" fill="#222" stroke="#222" stroke-width="0.099">48 h</text>
<text x="276.10" y="671.20" font-size="5.8" text-anchor="start" font-family="Liberation Sans, sans-serif" fill="#222" stroke="#222" stroke-width="0.104">KD</text>
<text x="287.20" y="671.20" font-size="5.8" text-anchor="start" font-family="Liberation Sans, sans-serif" fill="#222" stroke="#222" stroke-width="0.104">C</text>
<line x1="275.00" y1="672.30" x2="290.90" y2="672.30" stroke="#222" stroke-width="0.55"/>
<text x="283.10" y="677.50" font-size="5.5" text-anchor="middle" font-family="Liberation Sans, sans-serif" fill="#222" stroke="#222" stroke-width="0.099">72 h</text>
<text x="326.30" y="656.40" font-size="5.8" text-anchor="start" font-family="Liberation Sans, sans-serif" fill="#222" stroke="#222" stroke-width="0.104">KD</text>
<text x="337.40" y="656.40" font-size="5.8" text-anchor="start" font-family="Liberation Sans, sans-serif" fill="#222" stroke="#222" stroke-width="0.104">C</text>
<line x1="325.20" y1="657.50" x2="341.10" y2="657.50" stroke="#222" stroke-width="0.55"/>
<text x="333.30" y="662.70" font-size="5.5" text-anchor="middle" font-family="Liberation Sans, sans-serif" fill="#222" stroke="#222" stroke-width="0.099">0 h</text>
<text x="344.80" y="656.40" font-size="5.8" text-anchor="start" font-family="Liberation Sans, sans-serif" fill="#222" stroke="#222" stroke-width="0.104">KD</text>
<text x="355.90" y="656.40" font-size="5.8" text-anchor="start" font-family="Liberation Sans, sans-serif" fill="#222" stroke="#222" stroke-width="0.104">C</text>
<line x1="343.70" y1="657.50" x2="359.60" y2="657.50" stroke="#222" stroke-width="0.55"/>
<text x="351.80" y="662.70" font-size="5.5" text-anchor="middle" font-family="Liberation Sans, sans-serif" fill="#222" stroke="#222" stroke-width="0.099">48 h</text>
<text x="363.30" y="656.40" font-size="5.8" text-anchor="start" font-family="Liberation Sans, sans-serif" fill="#222" stroke="#222" stroke-width="0.104">KD</text>
<text x="374.40" y="656.40" font-size="5.8" text-anchor="start" font-family="Liberation Sans, sans-serif" fill="#222" stroke="#222" stroke-width="0.104">C</text>
<line x1="362.20" y1="657.50" x2="378.10" y2="657.50" stroke="#222" stroke-width="0.55"/>
<text x="370.30" y="662.70" font-size="5.5" text-anchor="middle" font-family="Liberation Sans, sans-serif" fill="#222" stroke="#222" stroke-width="0.099">72 h</text>
<text x="405.70" y="652.40" font-size="5.8" text-anchor="start" font-family="Liberation Sans, sans-serif" fill="#222" stroke="#222" stroke-width="0.104">KD</text>
<text x="416.80" y="652.40" font-size="5.8" text-anchor="start" font-family="Liberation Sans, sans-serif" fill="#222" stroke="#222" stroke-width="0.104">C</text>
<line x1="404.60" y1="653.50" x2="420.50" y2="653.50" stroke="#222" stroke-width="0.55"/>
<text x="412.70" y="658.70" font-size="5.5" text-anchor="middle" font-family="Liberation Sans, sans-serif" fill="#222" stroke="#222" stroke-width="0.099">0 h</text>
<text x="424.20" y="652.40" font-size="5.8" text-anchor="start" font-family="Liberation Sans, sans-serif" fill="#222" stroke="#222" stroke-width="0.104">KD</text>
<text x="435.30" y="652.40" font-size="5.8" text-anchor="start" font-family="Liberation Sans, sans-serif" fill="#222" stroke="#222" stroke-width="0.104">C</text>
<line x1="423.10" y1="653.50" x2="439.00" y2="653.50" stroke="#222" stroke-width="0.55"/>
<text x="431.20" y="658.70" font-size="5.5" text-anchor="middle" font-family="Liberation Sans, sans-serif" fill="#222" stroke="#222" stroke-width="0.099">48 h</text>
<text x="442.70" y="652.40" font-size="5.8" text-anchor="start" font-family="Liberation Sans, sans-serif" fill="#222" stroke="#222" stroke-width="0.104">KD</text>
<text x="453.80" y="652.40" font-size="5.8" text-anchor="start" font-family="Liberation Sans, sans-serif" fill="#222" stroke="#222" stroke-width="0.104">C</text>
<line x1="441.60" y1="653.50" x2="457.50" y2="653.50" stroke="#222" stroke-width="0.55"/>
<text x="449.70" y="658.70" font-size="5.5" text-anchor="middle" font-family="Liberation Sans, sans-serif" fill="#222" stroke="#222" stroke-width="0.099">72 h</text>
<text x="118.90" y="327.68" font-size="4.0" text-anchor="start" font-family="Liberation Serif, sans-serif" fill="#2e2e2e" font-weight="bold" stroke="#2e2e2e" stroke-width="0.000">CCDC76</text>
<text x="118.90" y="332.64" font-size="4.0" text-anchor="start" font-family="Liberation Serif, sans-serif" fill="#2e2e2e" font-weight="bold" stroke="#2e2e2e" stroke-width="0.000">TUBGCP5</text>
<text x="118.90" y="337.61" font-size="4.0" text-anchor="start" font-family="Liberation Serif, sans-serif" fill="#2e2e2e" font-weight="bold" stroke="#2e2e2e" stroke-width="0.000">RP11-251J8.2</text>
<text x="118.90" y="342.57" font-size="4.0" text-anchor="start" font-family="Liberation Serif, sans-serif" fill="#2e2e2e" font-weight="bold" stroke="#2e2e2e" stroke-width="0.000">FAM98C</text>
<text x="118.90" y="347.53" font-size="4.0" text-anchor="start" font-family="Liberation Serif, sans-serif" fill="#2e2e2e" font-weight="bold" stroke="#2e2e2e" stroke-width="0.000">TPCN1</text>
<text x="118.90" y="352.50" font-size="4.0" text-anchor="start" font-family="Liberation Serif, sans-serif" fill="#2e2e2e" font-weight="bold" stroke="#2e2e2e" stroke-width="0.000">CAD</text>
<text x="118.90" y="357.46" font-size="4.0" text-anchor="start" font-family="Liberation Serif, sans-serif" fill="#2e2e2e" font-weight="bold" stroke="#2e2e2e" stroke-width="0.000">SLC25A15</text>
<text x="118.90" y="362.42" font-size="4.0" text-anchor="start" font-family="Liberation Serif, sans-serif" fill="#2e2e2e" font-weight="bold" stroke="#2e2e2e" stroke-width="0.000">SNORD52</text>
<text x="118.90" y="367.39" font-size="4.0" text-anchor="start" font-family="Liberation Serif, sans-serif" fill="#2e2e2e" font-weight="bold" stroke="#2e2e2e" stroke-width="0.000">DKFZp547E087</text>
<text x="118.90" y="372.35" font-size="4.0" text-anchor="start" font-family="Liberation Serif, sans-serif" fill="#2e2e2e" font-weight="bold" stroke="#2e2e2e" stroke-width="0.000">C20orf197</text>
<text x="118.90" y="377.31" font-size="4.0" text-anchor="start" font-family="Liberation Serif, sans-serif" fill="#2e2e2e" font-weight="bold" stroke="#2e2e2e" stroke-width="0.000">ZNF566</text>
<text x="118.90" y="382.27" font-size="4.0" text-anchor="start" font-family="Liberation Serif, sans-serif" fill="#2e2e2e" font-weight="bold" stroke="#2e2e2e" stroke-width="0.000">MORC2</text>
<text x="118.90" y="387.24" font-size="4.0" text-anchor="start" font-family="Liberation Serif, sans-serif" fill="#2e2e2e" font-weight="bold" stroke="#2e2e2e" stroke-width="0.000">MEN1</text>
<text x="118.90" y="392.20" font-size="4.0" text-anchor="start" font-family="Liberation Serif, sans-serif" fill="#2e2e2e" font-weight="bold" stroke="#2e2e2e" stroke-width="0.000">NHEDC2</text>
<text x="118.90" y="397.16" font-size="4.0" text-anchor="start" font-family="Liberation Serif, sans-serif" fill="#2e2e2e" font-weight="bold" stroke="#2e2e2e" stroke-width="0.000">SLC36A1</text>
<text x="118.90" y="402.13" font-size="4.0" text-anchor="start" font-family="Liberation Serif, sans-serif" fill="#2e2e2e" font-weight="bold" stroke="#2e2e2e" stroke-width="0.000">ORC3L</text>
<text x="118.90" y="407.09" font-size="4.0" text-anchor="start" font-family="Liberation Serif, sans-serif" fill="#2e2e2e" font-weight="bold" stroke="#2e2e2e" stroke-width="0.000">BMS1P5</text>
<text x="118.90" y="412.05" font-size="4.0" text-anchor="start" font-family="Liberation Serif, sans-serif" fill="#2e2e2e" font-weight="bold" stroke="#2e2e2e" stroke-width="0.000">SRD5A3</text>
<text x="118.90" y="417.02" font-size="4.0" text-anchor="start" font-family="Liberation Serif, sans-serif" fill="#2e2e2e" font-weight="bold" stroke="#2e2e2e" stroke-width="0.000">CDCA7</text>
<text x="118.90" y="421.98" font-size="4.0" text-anchor="start" font-family="Liberation Serif, sans-serif" fill="#2e2e2e" font-weight="bold" stroke="#2e2e2e" stroke-width="0.000">TTC27</text>
<text x="118.90" y="426.94" font-size="4.0" text-anchor="start" font-family="Liberation Serif, sans-serif" fill="#2e2e2e" font-weight="bold" stroke="#2e2e2e" stroke-width="0.000">SLC27A2</text>
<text x="118.90" y="431.90" font-size="4.0" text-anchor="start" font-family="Liberation Serif, sans-serif" fill="#2e2e2e" font-weight="bold" stroke="#2e2e2e" stroke-width="0.000">WDR3</text>
<text x="118.90" y="436.87" font-size="4.0" text-anchor="start" font-family="Liberation Serif, sans-serif" fill="#2e2e2e" font-weight="bold" stroke="#2e2e2e" stroke-width="0.000">LOC100129478</text>
<text x="118.90" y="441.83" font-size="4.0" text-anchor="start" font-family="Liberation Serif, sans-serif" fill="#2e2e2e" font-weight="bold" stroke="#2e2e2e" stroke-width="0.000">TIMM8A</text>
<text x="118.90" y="446.79" font-size="4.0" text-anchor="start" font-family="Liberation Serif, sans-serif" fill="#2e2e2e" font-weight="bold" stroke="#2e2e2e" stroke-width="0.000">ATP1B3</text>
<text x="118.90" y="451.76" font-size="4.0" text-anchor="start" font-family="Liberation Serif, sans-serif" fill="#2e2e2e" font-weight="bold" stroke="#2e2e2e" stroke-width="0.000">FARSB</text>
<text x="118.90" y="456.72" font-size="4.0" text-anchor="start" font-family="Liberation Serif, sans-serif" fill="#2e2e2e" font-weight="bold" stroke="#2e2e2e" stroke-width="0.000">OTUD6B</text>
<text x="118.90" y="461.68" font-size="4.0" text-anchor="start" font-family="Liberation Serif, sans-serif" fill="#2e2e2e" font-weight="bold" stroke="#2e2e2e" stroke-width="0.000">C12orf29</text>
<text x="118.90" y="466.65" font-size="4.0" text-anchor="start" font-family="Liberation Serif, sans-serif" fill="#2e2e2e" font-weight="bold" stroke="#2e2e2e" stroke-width="0.000">KCNQ5</text>
<text x="118.90" y="471.61" font-size="4.0" text-anchor="start" font-family="Liberation Serif, sans-serif" fill="#2e2e2e" font-weight="bold" stroke="#2e2e2e" stroke-width="0.000">R3HDC1</text>
<text x="118.90" y="476.57" font-size="4.0" text-anchor="start" font-family="Liberation Serif, sans-serif" fill="#2e2e2e" font-weight="bold" stroke="#2e2e2e" stroke-width="0.000">MPP6</text>
<text x="118.90" y="481.53" font-size="4.0" text-anchor="start" font-family="Liberation Serif, sans-serif" fill="#2e2e2e" font-weight="bold" stroke="#2e2e2e" stroke-width="0.000">DHX33</text>
<text x="118.90" y="486.50" font-size="4.0" text-anchor="start" font-family="Liberation Serif, sans-serif" fill="#2e2e2e" font-weight="bold" stroke="#2e2e2e" stroke-width="0.000">RTKN2</text>
<text x="118.90" y="491.46" font-size="4.0" text-anchor="start" font-family="Liberation Serif, sans-serif" fill="#2e2e2e" font-weight="bold" stroke="#2e2e2e" stroke-width="0.000">FERMT1</text>
<text x="118.90" y="496.42" font-size="4.0" text-anchor="start" font-family="Liberation Serif, sans-serif" fill="#2e2e2e" font-weight="bold" stroke="#2e2e2e" stroke-width="0.000">CDK6</text>
<text x="118.90" y="501.39" font-size="4.0" text-anchor="start" font-family="Liberation Serif, sans-serif" fill="#2e2e2e" font-weight="bold" stroke="#2e2e2e" stroke-width="0.000">MRPS18</text>
<text x="118.90" y="506.35" font-size="4.0" text-anchor="start" font-family="Liberation Serif, sans-serif" fill="#2e2e2e" font-weight="bold" stroke="#2e2e2e" stroke-width="0.000">C14orf104</text>
<text x="118.90" y="511.31" font-size="4.0" text-anchor="start" font-family="Liberation Serif, sans-serif" fill="#2e2e2e" font-weight="bold" stroke="#2e2e2e" stroke-width="0.000">MTHFD1L</text>
<text x="118.90" y="516.28" font-size="4.0" text-anchor="start" font-family="Liberation Serif, sans-serif" fill="#2e2e2e" font-weight="bold" stroke="#2e2e2e" stroke-width="0.000">GTPBP10</text>
<text x="118.90" y="521.24" font-size="4.0" text-anchor="start" font-family="Liberation Serif, sans-serif" fill="#2e2e2e" font-weight="bold" stroke="#2e2e2e" stroke-width="0.000">ZNF146</text>
<text x="118.90" y="526.20" font-size="4.0" text-anchor="start" font-family="Liberation Serif, sans-serif" fill="#2e2e2e" font-weight="bold" stroke="#2e2e2e" stroke-width="0.000">CTD-2514C3.1</text>
<text x="118.90" y="531.16" font-size="4.0" text-anchor="start" font-family="Liberation Serif, sans-serif" fill="#2e2e2e" font-weight="bold" stroke="#2e2e2e" stroke-width="0.000">UBXD8</text>
<text x="118.90" y="536.13" font-size="4.0" text-anchor="start" font-family="Liberation Serif, sans-serif" fill="#2e2e2e" font-weight="bold" stroke="#2e2e2e" stroke-width="0.000">COX11</text>
<text x="118.90" y="541.09" font-size="4.0" text-anchor="start" font-family="Liberation Serif, sans-serif" fill="#2e2e2e" font-weight="bold" stroke="#2e2e2e" stroke-width="0.000">DLEU1</text>
<text x="118.90" y="546.05" font-size="4.0" text-anchor="start" font-family="Liberation Serif, sans-serif" fill="#2e2e2e" font-weight="bold" stroke="#2e2e2e" stroke-width="0.000">NLN</text>
<text x="118.90" y="551.02" font-size="4.0" text-anchor="start" font-family="Liberation Serif, sans-serif" fill="#2e2e2e" font-weight="bold" stroke="#2e2e2e" stroke-width="0.000">CYP2R1</text>
<text x="118.90" y="555.98" font-size="4.0" text-anchor="start" font-family="Liberation Serif, sans-serif" fill="#2e2e2e" font-weight="bold" stroke="#2e2e2e" stroke-width="0.000">AFF2</text>
<text x="118.90" y="560.94" font-size="4.0" text-anchor="start" font-family="Liberation Serif, sans-serif" fill="#2e2e2e" font-weight="bold" stroke="#2e2e2e" stroke-width="0.000">GFI1</text>
<text x="118.90" y="565.91" font-size="4.0" text-anchor="start" font-family="Liberation Serif, sans-serif" fill="#2e2e2e" font-weight="bold" stroke="#2e2e2e" stroke-width="0.000">TAF4B</text>
<text x="118.90" y="570.87" font-size="4.0" text-anchor="start" font-family="Liberation Serif, sans-serif" fill="#2e2e2e" font-weight="bold" stroke="#2e2e2e" stroke-width="0.000">C2orf37</text>
<text x="118.90" y="575.83" font-size="4.0" text-anchor="start" font-family="Liberation Serif, sans-serif" fill="#2e2e2e" font-weight="bold" stroke="#2e2e2e" stroke-width="0.000">LOC440350</text>
<text x="118.90" y="580.79" font-size="4.0" text-anchor="start" font-family="Liberation Serif, sans-serif" fill="#2e2e2e" font-weight="bold" stroke="#2e2e2e" stroke-width="0.000">C3orf28</text>
<text x="118.90" y="585.76" font-size="4.0" text-anchor="start" font-family="Liberation Serif, sans-serif" fill="#2e2e2e" font-weight="bold" stroke="#2e2e2e" stroke-width="0.000">CA2</text>
<text x="118.90" y="590.72" font-size="4.0" text-anchor="start" font-family="Liberation Serif, sans-serif" fill="#2e2e2e" font-weight="bold" stroke="#2e2e2e" stroke-width="0.000">E2F5</text>
<text x="118.90" y="595.68" font-size="4.0" text-anchor="start" font-family="Liberation Serif, sans-serif" fill="#2e2e2e" font-weight="bold" stroke="#2e2e2e" stroke-width="0.000">SLC7A2</text>
<text x="118.90" y="600.65" font-size="4.0" text-anchor="start" font-family="Liberation Serif, sans-serif" fill="#2e2e2e" font-weight="bold" stroke="#2e2e2e" stroke-width="0.000">SACS</text>
<text x="118.90" y="605.61" font-size="4.0" text-anchor="start" font-family="Liberation Serif, sans-serif" fill="#2e2e2e" font-weight="bold" stroke="#2e2e2e" stroke-width="0.000">SNORD47</text>
<text x="118.90" y="610.57" font-size="4.0" text-anchor="start" font-family="Liberation Serif, sans-serif" fill="#2e2e2e" font-weight="bold" stroke="#2e2e2e" stroke-width="0.000">MS4A3</text>
<text x="207.00" y="327.68" font-size="4.0" text-anchor="start" font-family="Liberation Serif, sans-serif" fill="#2e2e2e" font-weight="bold" stroke="#2e2e2e" stroke-width="0.000">SNORD13</text>
<text x="207.00" y="332.64" font-size="4.0" text-anchor="start" font-family="Liberation Serif, sans-serif" fill="#2e2e2e" font-weight="bold" stroke="#2e2e2e" stroke-width="0.000">ZFP62</text>
<text x="207.00" y="337.61" font-size="4.0" text-anchor="start" font-family="Liberation Serif, sans-serif" fill="#2e2e2e" font-weight="bold" stroke="#2e2e2e" stroke-width="0.000">LOC646934</text>
<text x="207.00" y="342.57" font-size="4.0" text-anchor="start" font-family="Liberation Serif, sans-serif" fill="#2e2e2e" font-weight="bold" stroke="#2e2e2e" stroke-width="0.000">R3HCC1</text>
<text x="207.00" y="347.53" font-size="4.0" text-anchor="start" font-family="Liberation Serif, sans-serif" fill="#2e2e2e" font-weight="bold" stroke="#2e2e2e" stroke-width="0.000">MAP1B</text>
<text x="207.00" y="352.50" font-size="4.0" text-anchor="start" font-family="Liberation Serif, sans-serif" fill="#2e2e2e" font-weight="bold" stroke="#2e2e2e" stroke-width="0.000">TRIM56</text>
<text x="207.00" y="357.46" font-size="4.0" text-anchor="start" font-family="Liberation Serif, sans-serif" fill="#2e2e2e" font-weight="bold" stroke="#2e2e2e" stroke-width="0.000">LOC283398</text>
<text x="207.00" y="362.42" font-size="4.0" text-anchor="start" font-family="Liberation Serif, sans-serif" fill="#2e2e2e" font-weight="bold" stroke="#2e2e2e" stroke-width="0.000">C1orf183</text>
<text x="207.00" y="367.39" font-size="4.0" text-anchor="start" font-family="Liberation Serif, sans-serif" fill="#2e2e2e" font-weight="bold" stroke="#2e2e2e" stroke-width="0.000">IARS</text>
<text x="207.00" y="372.35" font-size="4.0" text-anchor="start" font-family="Liberation Serif, sans-serif" fill="#2e2e2e" font-weight="bold" stroke="#2e2e2e" stroke-width="0.000">PRSS12</text>
<text x="207.00" y="377.31" font-size="4.0" text-anchor="start" font-family="Liberation Serif, sans-serif" fill="#2e2e2e" font-weight="bold" stroke="#2e2e2e" stroke-width="0.000">GK5</text>
<text x="207.00" y="382.27" font-size="4.0" text-anchor="start" font-family="Liberation Serif, sans-serif" fill="#2e2e2e" font-weight="bold" stroke="#2e2e2e" stroke-width="0.000">LYRM1</text>
<text x="207.00" y="387.24" font-size="4.0" text-anchor="start" font-family="Liberation Serif, sans-serif" fill="#2e2e2e" font-weight="bold" stroke="#2e2e2e" stroke-width="0.000">TXNDC13</text>
<text x="207.00" y="392.20" font-size="4.0" text-anchor="start" font-family="Liberation Serif, sans-serif" fill="#2e2e2e" font-weight="bold" stroke="#2e2e2e" stroke-width="0.000">LAMC1</text>
<text x="207.00" y="397.16" font-size="4.0" text-anchor="start" font-family="Liberation Serif, sans-serif" fill="#2e2e2e" font-weight="bold" stroke="#2e2e2e" stroke-width="0.000">ADAM9</text>
<text x="207.00" y="402.13" font-size="4.0" text-anchor="start" font-family="Liberation Serif, sans-serif" fill="#2e2e2e" font-weight="bold" stroke="#2e2e2e" stroke-width="0.000">MTHFD1L</text>
<text x="207.00" y="407.09" font-size="4.0" text-anchor="start" font-family="Liberation Serif, sans-serif" fill="#2e2e2e" font-weight="bold" stroke="#2e2e2e" stroke-width="0.000">CCDC50</text>
<text x="207.00" y="412.05" font-size="4.0" text-anchor="start" font-family="Liberation Serif, sans-serif" fill="#2e2e2e" font-weight="bold" stroke="#2e2e2e" stroke-width="0.000">RYR2</text>
<text x="207.00" y="417.02" font-size="4.0" text-anchor="start" font-family="Liberation Serif, sans-serif" fill="#2e2e2e" font-weight="bold" stroke="#2e2e2e" stroke-width="0.000">PGM2</text>
<text x="207.00" y="421.98" font-size="4.0" text-anchor="start" font-family="Liberation Serif, sans-serif" fill="#2e2e2e" font-weight="bold" stroke="#2e2e2e" stroke-width="0.000">QSOX2</text>
<text x="207.00" y="426.94" font-size="4.0" text-anchor="start" font-family="Liberation Serif, sans-serif" fill="#2e2e2e" font-weight="bold" stroke="#2e2e2e" stroke-width="0.000">LARS</text>
<text x="207.00" y="431.90" font-size="4.0" text-anchor="start" font-family="Liberation Serif, sans-serif" fill="#2e2e2e" font-weight="bold" stroke="#2e2e2e" stroke-width="0.000">SOBLB2</text>
<text x="207.00" y="436.87" font-size="4.0" text-anchor="start" font-family="Liberation Serif, sans-serif" fill="#2e2e2e" font-weight="bold" stroke="#2e2e2e" stroke-width="0.000">ADAT2</text>
<text x="207.00" y="441.83" font-size="4.0" text-anchor="start" font-family="Liberation Serif, sans-serif" fill="#2e2e2e" font-weight="bold" stroke="#2e2e2e" stroke-width="0.000">OGT</text>
<text x="207.00" y="446.79" font-size="4.0" text-anchor="start" font-family="Liberation Serif, sans-serif" fill="#2e2e2e" font-weight="bold" stroke="#2e2e2e" stroke-width="0.000">USB1</text>
<text x="207.00" y="451.76" font-size="4.0" text-anchor="start" font-family="Liberation Serif, sans-serif" fill="#2e2e2e" font-weight="bold" stroke="#2e2e2e" stroke-width="0.000">SETD7</text>
<text x="207.00" y="456.72" font-size="4.0" text-anchor="start" font-family="Liberation Serif, sans-serif" fill="#2e2e2e" font-weight="bold" stroke="#2e2e2e" stroke-width="0.000">BACE1</text>
<text x="207.00" y="461.68" font-size="4.0" text-anchor="start" font-family="Liberation Serif, sans-serif" fill="#2e2e2e" font-weight="bold" stroke="#2e2e2e" stroke-width="0.000">SLC22A15</text>
<text x="207.00" y="466.65" font-size="4.0" text-anchor="start" font-family="Liberation Serif, sans-serif" fill="#2e2e2e" font-weight="bold" stroke="#2e2e2e" stroke-width="0.000">MBP</text>
<text x="207.00" y="471.61" font-size="4.0" text-anchor="start" font-family="Liberation Serif, sans-serif" fill="#2e2e2e" font-weight="bold" stroke="#2e2e2e" stroke-width="0.000">LIAS</text>
<text x="207.00" y="476.57" font-size="4.0" text-anchor="start" font-family="Liberation Serif, sans-serif" fill="#2e2e2e" font-weight="bold" stroke="#2e2e2e" stroke-width="0.000">ANKH</text>
<text x="207.00" y="481.53" font-size="4.0" text-anchor="start" font-family="Liberation Serif, sans-serif" fill="#2e2e2e" font-weight="bold" stroke="#2e2e2e" stroke-width="0.000">MARCH11</text>
<text x="207.00" y="486.50" font-size="4.0" text-anchor="start" font-family="Liberation Serif, sans-serif" fill="#2e2e2e" font-weight="bold" stroke="#2e2e2e" stroke-width="0.000">SLC35D1</text>
<text x="207.00" y="491.46" font-size="4.0" text-anchor="start" font-family="Liberation Serif, sans-serif" fill="#2e2e2e" font-weight="bold" stroke="#2e2e2e" stroke-width="0.000">ZNF701A</text>
<text x="207.00" y="496.42" font-size="4.0" text-anchor="start" font-family="Liberation Serif, sans-serif" fill="#2e2e2e" font-weight="bold" stroke="#2e2e2e" stroke-width="0.000">IGF1R</text>
<text x="207.00" y="501.39" font-size="4.0" text-anchor="start" font-family="Liberation Serif, sans-serif" fill="#2e2e2e" font-weight="bold" stroke="#2e2e2e" stroke-width="0.000">BCO2B9</text>
<text x="207.00" y="506.35" font-size="4.0" text-anchor="start" font-family="Liberation Serif, sans-serif" fill="#2e2e2e" font-weight="bold" stroke="#2e2e2e" stroke-width="0.000">GALNT3</text>
<text x="207.00" y="511.31" font-size="4.0" text-anchor="start" font-family="Liberation Serif, sans-serif" fill="#2e2e2e" font-weight="bold" stroke="#2e2e2e" stroke-width="0.000">KIF21A</text>
<text x="207.00" y="516.28" font-size="4.0" text-anchor="start" font-family="Liberation Serif, sans-serif" fill="#2e2e2e" font-weight="bold" stroke="#2e2e2e" stroke-width="0.000">ARG1</text>
<text x="207.00" y="521.24" font-size="4.0" text-anchor="start" font-family="Liberation Serif, sans-serif" fill="#2e2e2e" font-weight="bold" stroke="#2e2e2e" stroke-width="0.000">PTPN13</text>
<text x="207.00" y="526.20" font-size="4.0" text-anchor="start" font-family="Liberation Serif, sans-serif" fill="#2e2e2e" font-weight="bold" stroke="#2e2e2e" stroke-width="0.000">KLHC3</text>
<text x="207.00" y="531.16" font-size="4.0" text-anchor="start" font-family="Liberation Serif, sans-serif" fill="#2e2e2e" font-weight="bold" stroke="#2e2e2e" stroke-width="0.000">MRPL24</text>
<text x="207.00" y="536.13" font-size="4.0" text-anchor="start" font-family="Liberation Serif, sans-serif" fill="#2e2e2e" font-weight="bold" stroke="#2e2e2e" stroke-width="0.000">C1orf79</text>
<text x="207.00" y="541.09" font-size="4.0" text-anchor="start" font-family="Liberation Serif, sans-serif" fill="#2e2e2e" font-weight="bold" stroke="#2e2e2e" stroke-width="0.000">MD84</text>
<text x="207.00" y="546.05" font-size="4.0" text-anchor="start" font-family="Liberation Serif, sans-serif" fill="#2e2e2e" font-weight="bold" stroke="#2e2e2e" stroke-width="0.000">STAP1</text>
<text x="207.00" y="551.02" font-size="4.0" text-anchor="start" font-family="Liberation Serif, sans-serif" fill="#2e2e2e" font-weight="bold" stroke="#2e2e2e" stroke-width="0.000">IGF2BP2</text>
<text x="207.00" y="555.98" font-size="4.0" text-anchor="start" font-family="Liberation Serif, sans-serif" fill="#2e2e2e" font-weight="bold" stroke="#2e2e2e" stroke-width="0.000">ARRDC4</text>
<text x="295.30" y="327.68" font-size="4.0" text-anchor="start" font-family="Liberation Serif, sans-serif" fill="#2e2e2e" font-weight="bold" stroke="#2e2e2e" stroke-width="0.000">SLAMF8</text>
<text x="295.30" y="332.64" font-size="4.0" text-anchor="start" font-family="Liberation Serif, sans-serif" fill="#2e2e2e" font-weight="bold" stroke="#2e2e2e" stroke-width="0.000">BCL3</text>
<text x="295.30" y="337.61" font-size="4.0" text-anchor="start" font-family="Liberation Serif, sans-serif" fill="#2e2e2e" font-weight="bold" stroke="#2e2e2e" stroke-width="0.000">CSF1R</text>
<text x="295.30" y="342.57" font-size="4.0" text-anchor="start" font-family="Liberation Serif, sans-serif" fill="#2e2e2e" font-weight="bold" stroke="#2e2e2e" stroke-width="0.000">FOS</text>
<text x="295.30" y="347.53" font-size="4.0" text-anchor="start" font-family="Liberation Serif, sans-serif" fill="#2e2e2e" font-weight="bold" stroke="#2e2e2e" stroke-width="0.000">EHD</text>
<text x="295.30" y="352.50" font-size="4.0" text-anchor="start" font-family="Liberation Serif, sans-serif" fill="#2e2e2e" font-weight="bold" stroke="#2e2e2e" stroke-width="0.000">FPR2</text>
<text x="295.30" y="357.46" font-size="4.0" text-anchor="start" font-family="Liberation Serif, sans-serif" fill="#2e2e2e" font-weight="bold" stroke="#2e2e2e" stroke-width="0.000">CCL3L1</text>
<text x="295.30" y="362.42" font-size="4.0" text-anchor="start" font-family="Liberation Serif, sans-serif" fill="#2e2e2e" font-weight="bold" stroke="#2e2e2e" stroke-width="0.000">CSF2RB</text>
<text x="295.30" y="367.39" font-size="4.0" text-anchor="start" font-family="Liberation Serif, sans-serif" fill="#2e2e2e" font-weight="bold" stroke="#2e2e2e" stroke-width="0.000">PEBC205</text>
<text x="295.30" y="372.35" font-size="4.0" text-anchor="start" font-family="Liberation Serif, sans-serif" fill="#2e2e2e" font-weight="bold" stroke="#2e2e2e" stroke-width="0.000">FAM90A1</text>
<text x="295.30" y="377.31" font-size="4.0" text-anchor="start" font-family="Liberation Serif, sans-serif" fill="#2e2e2e" font-weight="bold" stroke="#2e2e2e" stroke-width="0.000">PIK3AP1</text>
<text x="295.30" y="382.27" font-size="4.0" text-anchor="start" font-family="Liberation Serif, sans-serif" fill="#2e2e2e" font-weight="bold" stroke="#2e2e2e" stroke-width="0.000">SIGLEC1</text>
<text x="295.30" y="387.24" font-size="4.0" text-anchor="start" font-family="Liberation Serif, sans-serif" fill="#2e2e2e" font-weight="bold" stroke="#2e2e2e" stroke-width="0.000">TDRD7</text>
<text x="295.30" y="392.20" font-size="4.0" text-anchor="start" font-family="Liberation Serif, sans-serif" fill="#2e2e2e" font-weight="bold" stroke="#2e2e2e" stroke-width="0.000">TNFRSF9</text>
<text x="295.30" y="397.16" font-size="4.0" text-anchor="start" font-family="Liberation Serif, sans-serif" fill="#2e2e2e" font-weight="bold" stroke="#2e2e2e" stroke-width="0.000">SERPINA1</text>
<text x="295.30" y="402.13" font-size="4.0" text-anchor="start" font-family="Liberation Serif, sans-serif" fill="#2e2e2e" font-weight="bold" stroke="#2e2e2e" stroke-width="0.000">SAMD9</text>
<text x="295.30" y="407.09" font-size="4.0" text-anchor="start" font-family="Liberation Serif, sans-serif" fill="#2e2e2e" font-weight="bold" stroke="#2e2e2e" stroke-width="0.000">TIMP1</text>
<text x="295.30" y="412.05" font-size="4.0" text-anchor="start" font-family="Liberation Serif, sans-serif" fill="#2e2e2e" font-weight="bold" stroke="#2e2e2e" stroke-width="0.000">IL1A</text>
<text x="295.30" y="417.02" font-size="4.0" text-anchor="start" font-family="Liberation Serif, sans-serif" fill="#2e2e2e" font-weight="bold" stroke="#2e2e2e" stroke-width="0.000">BMP2</text>
<text x="295.30" y="421.98" font-size="4.0" text-anchor="start" font-family="Liberation Serif, sans-serif" fill="#2e2e2e" font-weight="bold" stroke="#2e2e2e" stroke-width="0.000">FCAR</text>
<text x="295.30" y="426.94" font-size="4.0" text-anchor="start" font-family="Liberation Serif, sans-serif" fill="#2e2e2e" font-weight="bold" stroke="#2e2e2e" stroke-width="0.000">ELL2</text>
<text x="295.30" y="431.90" font-size="4.0" text-anchor="start" font-family="Liberation Serif, sans-serif" fill="#2e2e2e" font-weight="bold" stroke="#2e2e2e" stroke-width="0.000">GHRL</text>
<text x="295.30" y="436.87" font-size="4.0" text-anchor="start" font-family="Liberation Serif, sans-serif" fill="#2e2e2e" font-weight="bold" stroke="#2e2e2e" stroke-width="0.000">TRIM21</text>
<text x="295.30" y="441.83" font-size="4.0" text-anchor="start" font-family="Liberation Serif, sans-serif" fill="#2e2e2e" font-weight="bold" stroke="#2e2e2e" stroke-width="0.000">GOT1</text>
<text x="295.30" y="446.79" font-size="4.0" text-anchor="start" font-family="Liberation Serif, sans-serif" fill="#2e2e2e" font-weight="bold" stroke="#2e2e2e" stroke-width="0.000">CAPG</text>
<text x="295.30" y="451.76" font-size="4.0" text-anchor="start" font-family="Liberation Serif, sans-serif" fill="#2e2e2e" font-weight="bold" stroke="#2e2e2e" stroke-width="0.000">S100B</text>
<text x="295.30" y="456.72" font-size="4.0" text-anchor="start" font-family="Liberation Serif, sans-serif" fill="#2e2e2e" font-weight="bold" stroke="#2e2e2e" stroke-width="0.000">RBL2BR1</text>
<text x="295.30" y="461.68" font-size="4.0" text-anchor="start" font-family="Liberation Serif, sans-serif" fill="#2e2e2e" font-weight="bold" stroke="#2e2e2e" stroke-width="0.000">CTNNA1</text>
<text x="295.30" y="466.65" font-size="4.0" text-anchor="start" font-family="Liberation Serif, sans-serif" fill="#2e2e2e" font-weight="bold" stroke="#2e2e2e" stroke-width="0.000">ATP6V1D</text>
<text x="295.30" y="471.61" font-size="4.0" text-anchor="start" font-family="Liberation Serif, sans-serif" fill="#2e2e2e" font-weight="bold" stroke="#2e2e2e" stroke-width="0.000">GLRX</text>
<text x="295.30" y="476.57" font-size="4.0" text-anchor="start" font-family="Liberation Serif, sans-serif" fill="#2e2e2e" font-weight="bold" stroke="#2e2e2e" stroke-width="0.000">LGALS</text>
<text x="295.30" y="481.53" font-size="4.0" text-anchor="start" font-family="Liberation Serif, sans-serif" fill="#2e2e2e" font-weight="bold" stroke="#2e2e2e" stroke-width="0.000">LYN</text>
<text x="295.30" y="486.50" font-size="4.0" text-anchor="start" font-family="Liberation Serif, sans-serif" fill="#2e2e2e" font-weight="bold" stroke="#2e2e2e" stroke-width="0.000">MOBKL2C</text>
<text x="295.30" y="491.46" font-size="4.0" text-anchor="start" font-family="Liberation Serif, sans-serif" fill="#2e2e2e" font-weight="bold" stroke="#2e2e2e" stroke-width="0.000">ITPKB</text>
<text x="295.30" y="496.42" font-size="4.0" text-anchor="start" font-family="Liberation Serif, sans-serif" fill="#2e2e2e" font-weight="bold" stroke="#2e2e2e" stroke-width="0.000">PSCD4</text>
<text x="295.30" y="501.39" font-size="4.0" text-anchor="start" font-family="Liberation Serif, sans-serif" fill="#2e2e2e" font-weight="bold" stroke="#2e2e2e" stroke-width="0.000">C5AR1</text>
<text x="295.30" y="506.35" font-size="4.0" text-anchor="start" font-family="Liberation Serif, sans-serif" fill="#2e2e2e" font-weight="bold" stroke="#2e2e2e" stroke-width="0.000">NFKBIA</text>
<text x="295.30" y="511.31" font-size="4.0" text-anchor="start" font-family="Liberation Serif, sans-serif" fill="#2e2e2e" font-weight="bold" stroke="#2e2e2e" stroke-width="0.000">SGK1</text>
<text x="295.30" y="516.28" font-size="4.0" text-anchor="start" font-family="Liberation Serif, sans-serif" fill="#2e2e2e" font-weight="bold" stroke="#2e2e2e" stroke-width="0.000">TMSB10</text>
<text x="295.30" y="521.24" font-size="4.0" text-anchor="start" font-family="Liberation Serif, sans-serif" fill="#2e2e2e" font-weight="bold" stroke="#2e2e2e" stroke-width="0.000">GBA</text>
<text x="295.30" y="526.20" font-size="4.0" text-anchor="start" font-family="Liberation Serif, sans-serif" fill="#2e2e2e" font-weight="bold" stroke="#2e2e2e" stroke-width="0.000">SH3BP5</text>
<text x="295.30" y="531.16" font-size="4.0" text-anchor="start" font-family="Liberation Serif, sans-serif" fill="#2e2e2e" font-weight="bold" stroke="#2e2e2e" stroke-width="0.000">C7orf29</text>
<text x="295.30" y="536.13" font-size="4.0" text-anchor="start" font-family="Liberation Serif, sans-serif" fill="#2e2e2e" font-weight="bold" stroke="#2e2e2e" stroke-width="0.000">SIGLEC5</text>
<text x="295.30" y="541.09" font-size="4.0" text-anchor="start" font-family="Liberation Serif, sans-serif" fill="#2e2e2e" font-weight="bold" stroke="#2e2e2e" stroke-width="0.000">MYD88</text>
<text x="295.30" y="546.05" font-size="4.0" text-anchor="start" font-family="Liberation Serif, sans-serif" fill="#2e2e2e" font-weight="bold" stroke="#2e2e2e" stroke-width="0.000">IFITM1</text>
<text x="295.30" y="551.02" font-size="4.0" text-anchor="start" font-family="Liberation Serif, sans-serif" fill="#2e2e2e" font-weight="bold" stroke="#2e2e2e" stroke-width="0.000">PLAUR</text>
<text x="295.30" y="555.98" font-size="4.0" text-anchor="start" font-family="Liberation Serif, sans-serif" fill="#2e2e2e" font-weight="bold" stroke="#2e2e2e" stroke-width="0.000">USP18</text>
<text x="295.30" y="560.94" font-size="4.0" text-anchor="start" font-family="Liberation Serif, sans-serif" fill="#2e2e2e" font-weight="bold" stroke="#2e2e2e" stroke-width="0.000">GR</text>
<text x="295.30" y="565.91" font-size="4.0" text-anchor="start" font-family="Liberation Serif, sans-serif" fill="#2e2e2e" font-weight="bold" stroke="#2e2e2e" stroke-width="0.000">ZNF511</text>
<text x="295.30" y="570.87" font-size="4.0" text-anchor="start" font-family="Liberation Serif, sans-serif" fill="#2e2e2e" font-weight="bold" stroke="#2e2e2e" stroke-width="0.000">CD59</text>
<text x="295.30" y="575.83" font-size="4.0" text-anchor="start" font-family="Liberation Serif, sans-serif" fill="#2e2e2e" font-weight="bold" stroke="#2e2e2e" stroke-width="0.000">CHI3L1</text>
<text x="295.30" y="580.79" font-size="4.0" text-anchor="start" font-family="Liberation Serif, sans-serif" fill="#2e2e2e" font-weight="bold" stroke="#2e2e2e" stroke-width="0.000">NRP1</text>
<text x="295.30" y="585.76" font-size="4.0" text-anchor="start" font-family="Liberation Serif, sans-serif" fill="#2e2e2e" font-weight="bold" stroke="#2e2e2e" stroke-width="0.000">TST</text>
<text x="295.30" y="590.72" font-size="4.0" text-anchor="start" font-family="Liberation Serif, sans-serif" fill="#2e2e2e" font-weight="bold" stroke="#2e2e2e" stroke-width="0.000">CCSER1</text>
<text x="295.30" y="595.68" font-size="4.0" text-anchor="start" font-family="Liberation Serif, sans-serif" fill="#2e2e2e" font-weight="bold" stroke="#2e2e2e" stroke-width="0.000">CD82</text>
<text x="295.30" y="600.65" font-size="4.0" text-anchor="start" font-family="Liberation Serif, sans-serif" fill="#2e2e2e" font-weight="bold" stroke="#2e2e2e" stroke-width="0.000">GDU50</text>
<text x="295.30" y="605.61" font-size="4.0" text-anchor="start" font-family="Liberation Serif, sans-serif" fill="#2e2e2e" font-weight="bold" stroke="#2e2e2e" stroke-width="0.000">BST2</text>
<text x="295.30" y="610.57" font-size="4.0" text-anchor="start" font-family="Liberation Serif, sans-serif" fill="#2e2e2e" font-weight="bold" stroke="#2e2e2e" stroke-width="0.000">ZYX</text>
<text x="295.30" y="615.54" font-size="4.0" text-anchor="start" font-family="Liberation Serif, sans-serif" fill="#2e2e2e" font-weight="bold" stroke="#2e2e2e" stroke-width="0.000">PSME2</text>
<text x="295.30" y="620.50" font-size="4.0" text-anchor="start" font-family="Liberation Serif, sans-serif" fill="#2e2e2e" font-weight="bold" stroke="#2e2e2e" stroke-width="0.000">MT1A</text>
<text x="295.30" y="625.46" font-size="4.0" text-anchor="start" font-family="Liberation Serif, sans-serif" fill="#2e2e2e" font-weight="bold" stroke="#2e2e2e" stroke-width="0.000">SDS</text>
<text x="295.30" y="630.42" font-size="4.0" text-anchor="start" font-family="Liberation Serif, sans-serif" fill="#2e2e2e" font-weight="bold" stroke="#2e2e2e" stroke-width="0.000">AREB1</text>
<text x="295.30" y="635.39" font-size="4.0" text-anchor="start" font-family="Liberation Serif, sans-serif" fill="#2e2e2e" font-weight="bold" stroke="#2e2e2e" stroke-width="0.000">ID1</text>
<text x="295.30" y="640.35" font-size="4.0" text-anchor="start" font-family="Liberation Serif, sans-serif" fill="#2e2e2e" font-weight="bold" stroke="#2e2e2e" stroke-width="0.000">MRPL49</text>
<text x="295.30" y="645.31" font-size="4.0" text-anchor="start" font-family="Liberation Serif, sans-serif" fill="#2e2e2e" font-weight="bold" stroke="#2e2e2e" stroke-width="0.000">MT1G1B</text>
<text x="295.30" y="650.28" font-size="4.0" text-anchor="start" font-family="Liberation Serif, sans-serif" fill="#2e2e2e" font-weight="bold" stroke="#2e2e2e" stroke-width="0.000">TNFAIP3</text>
<text x="295.30" y="655.24" font-size="4.0" text-anchor="start" font-family="Liberation Serif, sans-serif" fill="#2e2e2e" font-weight="bold" stroke="#2e2e2e" stroke-width="0.000">CD69</text>
<text x="295.30" y="660.20" font-size="4.0" text-anchor="start" font-family="Liberation Serif, sans-serif" fill="#2e2e2e" font-weight="bold" stroke="#2e2e2e" stroke-width="0.000">OLFM1</text>
<text x="295.30" y="665.17" font-size="4.0" text-anchor="start" font-family="Liberation Serif, sans-serif" fill="#2e2e2e" font-weight="bold" stroke="#2e2e2e" stroke-width="0.000">THBS1</text>
<text x="383.80" y="327.68" font-size="4.0" text-anchor="start" font-family="Liberation Serif, sans-serif" fill="#2e2e2e" font-weight="bold" stroke="#2e2e2e" stroke-width="0.000">PADI4</text>
<text x="383.80" y="332.64" font-size="4.0" text-anchor="start" font-family="Liberation Serif, sans-serif" fill="#2e2e2e" font-weight="bold" stroke="#2e2e2e" stroke-width="0.000">TNFAIP2</text>
<text x="383.80" y="337.61" font-size="4.0" text-anchor="start" font-family="Liberation Serif, sans-serif" fill="#2e2e2e" font-weight="bold" stroke="#2e2e2e" stroke-width="0.000">SAMHD1</text>
<text x="383.80" y="342.57" font-size="4.0" text-anchor="start" font-family="Liberation Serif, sans-serif" fill="#2e2e2e" font-weight="bold" stroke="#2e2e2e" stroke-width="0.000">ITGAM</text>
<text x="383.80" y="347.53" font-size="4.0" text-anchor="start" font-family="Liberation Serif, sans-serif" fill="#2e2e2e" font-weight="bold" stroke="#2e2e2e" stroke-width="0.000">HK3</text>
<text x="383.80" y="352.50" font-size="4.0" text-anchor="start" font-family="Liberation Serif, sans-serif" fill="#2e2e2e" font-weight="bold" stroke="#2e2e2e" stroke-width="0.000">CFP</text>
<text x="383.80" y="357.46" font-size="4.0" text-anchor="start" font-family="Liberation Serif, sans-serif" fill="#2e2e2e" font-weight="bold" stroke="#2e2e2e" stroke-width="0.000">ITGA6</text>
<text x="383.80" y="362.42" font-size="4.0" text-anchor="start" font-family="Liberation Serif, sans-serif" fill="#2e2e2e" font-weight="bold" stroke="#2e2e2e" stroke-width="0.000">LRRC25</text>
<text x="383.80" y="367.39" font-size="4.0" text-anchor="start" font-family="Liberation Serif, sans-serif" fill="#2e2e2e" font-weight="bold" stroke="#2e2e2e" stroke-width="0.000">ITGAX</text>
<text x="383.80" y="372.35" font-size="4.0" text-anchor="start" font-family="Liberation Serif, sans-serif" fill="#2e2e2e" font-weight="bold" stroke="#2e2e2e" stroke-width="0.000">RARRES3</text>
<text x="383.80" y="377.31" font-size="4.0" text-anchor="start" font-family="Liberation Serif, sans-serif" fill="#2e2e2e" font-weight="bold" stroke="#2e2e2e" stroke-width="0.000">CYP4F3</text>
<text x="383.80" y="382.27" font-size="4.0" text-anchor="start" font-family="Liberation Serif, sans-serif" fill="#2e2e2e" font-weight="bold" stroke="#2e2e2e" stroke-width="0.000">IFI35</text>
<text x="383.80" y="387.24" font-size="4.0" text-anchor="start" font-family="Liberation Serif, sans-serif" fill="#2e2e2e" font-weight="bold" stroke="#2e2e2e" stroke-width="0.000">UBA7</text>
<text x="383.80" y="392.20" font-size="4.0" text-anchor="start" font-family="Liberation Serif, sans-serif" fill="#2e2e2e" font-weight="bold" stroke="#2e2e2e" stroke-width="0.000">PAK1</text>
<text x="383.80" y="397.16" font-size="4.0" text-anchor="start" font-family="Liberation Serif, sans-serif" fill="#2e2e2e" font-weight="bold" stroke="#2e2e2e" stroke-width="0.000">TSPAN14</text>
<text x="383.80" y="402.13" font-size="4.0" text-anchor="start" font-family="Liberation Serif, sans-serif" fill="#2e2e2e" font-weight="bold" stroke="#2e2e2e" stroke-width="0.000">DAPK2</text>
<text x="383.80" y="407.09" font-size="4.0" text-anchor="start" font-family="Liberation Serif, sans-serif" fill="#2e2e2e" font-weight="bold" stroke="#2e2e2e" stroke-width="0.000">SELP</text>
<text x="383.80" y="412.05" font-size="4.0" text-anchor="start" font-family="Liberation Serif, sans-serif" fill="#2e2e2e" font-weight="bold" stroke="#2e2e2e" stroke-width="0.000">NLRC4</text>
<text x="383.80" y="417.02" font-size="4.0" text-anchor="start" font-family="Liberation Serif, sans-serif" fill="#2e2e2e" font-weight="bold" stroke="#2e2e2e" stroke-width="0.000">SEMA4B</text>
<text x="383.80" y="421.98" font-size="4.0" text-anchor="start" font-family="Liberation Serif, sans-serif" fill="#2e2e2e" font-weight="bold" stroke="#2e2e2e" stroke-width="0.000">DZ3H8L</text>
<text x="383.80" y="426.94" font-size="4.0" text-anchor="start" font-family="Liberation Serif, sans-serif" fill="#2e2e2e" font-weight="bold" stroke="#2e2e2e" stroke-width="0.000">TRIM22</text>
<text x="383.80" y="431.90" font-size="4.0" text-anchor="start" font-family="Liberation Serif, sans-serif" fill="#2e2e2e" font-weight="bold" stroke="#2e2e2e" stroke-width="0.000">GCA</text>
<text x="383.80" y="436.87" font-size="4.0" text-anchor="start" font-family="Liberation Serif, sans-serif" fill="#2e2e2e" font-weight="bold" stroke="#2e2e2e" stroke-width="0.000">TAP1</text>
<text x="383.80" y="441.83" font-size="4.0" text-anchor="start" font-family="Liberation Serif, sans-serif" fill="#2e2e2e" font-weight="bold" stroke="#2e2e2e" stroke-width="0.000">SIRPA</text>
<text x="383.80" y="446.79" font-size="4.0" text-anchor="start" font-family="Liberation Serif, sans-serif" fill="#2e2e2e" font-weight="bold" stroke="#2e2e2e" stroke-width="0.000">PIM1</text>
<text x="383.80" y="451.76" font-size="4.0" text-anchor="start" font-family="Liberation Serif, sans-serif" fill="#2e2e2e" font-weight="bold" stroke="#2e2e2e" stroke-width="0.000">EHD1</text>
<text x="383.80" y="456.72" font-size="4.0" text-anchor="start" font-family="Liberation Serif, sans-serif" fill="#2e2e2e" font-weight="bold" stroke="#2e2e2e" stroke-width="0.000">LY6E</text>
<text x="383.80" y="461.68" font-size="4.0" text-anchor="start" font-family="Liberation Serif, sans-serif" fill="#2e2e2e" font-weight="bold" stroke="#2e2e2e" stroke-width="0.000">AXUD1</text>
<text x="383.80" y="466.65" font-size="4.0" text-anchor="start" font-family="Liberation Serif, sans-serif" fill="#2e2e2e" font-weight="bold" stroke="#2e2e2e" stroke-width="0.000">CXCR5</text>
<text x="383.80" y="471.61" font-size="4.0" text-anchor="start" font-family="Liberation Serif, sans-serif" fill="#2e2e2e" font-weight="bold" stroke="#2e2e2e" stroke-width="0.000">CD300C</text>
<text x="383.80" y="476.57" font-size="4.0" text-anchor="start" font-family="Liberation Serif, sans-serif" fill="#2e2e2e" font-weight="bold" stroke="#2e2e2e" stroke-width="0.000">PLEKHO1</text>
<text x="383.80" y="481.53" font-size="4.0" text-anchor="start" font-family="Liberation Serif, sans-serif" fill="#2e2e2e" font-weight="bold" stroke="#2e2e2e" stroke-width="0.000">CCRL2</text>
<text x="383.80" y="486.50" font-size="4.0" text-anchor="start" font-family="Liberation Serif, sans-serif" fill="#2e2e2e" font-weight="bold" stroke="#2e2e2e" stroke-width="0.000">TNIP1</text>
<text x="383.80" y="491.46" font-size="4.0" text-anchor="start" font-family="Liberation Serif, sans-serif" fill="#2e2e2e" font-weight="bold" stroke="#2e2e2e" stroke-width="0.000">LILRB2</text>
<text x="383.80" y="496.42" font-size="4.0" text-anchor="start" font-family="Liberation Serif, sans-serif" fill="#2e2e2e" font-weight="bold" stroke="#2e2e2e" stroke-width="0.000">POR</text>
<text x="383.80" y="501.39" font-size="4.0" text-anchor="start" font-family="Liberation Serif, sans-serif" fill="#2e2e2e" font-weight="bold" stroke="#2e2e2e" stroke-width="0.000">CCL22</text>
<text x="383.80" y="506.35" font-size="4.0" text-anchor="start" font-family="Liberation Serif, sans-serif" fill="#2e2e2e" font-weight="bold" stroke="#2e2e2e" stroke-width="0.000">SLC16A13</text>
<text x="383.80" y="511.31" font-size="4.0" text-anchor="start" font-family="Liberation Serif, sans-serif" fill="#2e2e2e" font-weight="bold" stroke="#2e2e2e" stroke-width="0.000">ACSS2</text>
<text x="383.80" y="516.28" font-size="4.0" text-anchor="start" font-family="Liberation Serif, sans-serif" fill="#2e2e2e" font-weight="bold" stroke="#2e2e2e" stroke-width="0.000">PNRC1</text>
<text x="383.80" y="521.24" font-size="4.0" text-anchor="start" font-family="Liberation Serif, sans-serif" fill="#2e2e2e" font-weight="bold" stroke="#2e2e2e" stroke-width="0.000">TOR1B</text>
<text x="383.80" y="526.20" font-size="4.0" text-anchor="start" font-family="Liberation Serif, sans-serif" fill="#2e2e2e" font-weight="bold" stroke="#2e2e2e" stroke-width="0.000">TYROBP</text>
<text x="383.80" y="531.16" font-size="4.0" text-anchor="start" font-family="Liberation Serif, sans-serif" fill="#2e2e2e" font-weight="bold" stroke="#2e2e2e" stroke-width="0.000">GIMAP2</text>
<text x="383.80" y="536.13" font-size="4.0" text-anchor="start" font-family="Liberation Serif, sans-serif" fill="#2e2e2e" font-weight="bold" stroke="#2e2e2e" stroke-width="0.000">BCL2A1</text>
<text x="383.80" y="541.09" font-size="4.0" text-anchor="start" font-family="Liberation Serif, sans-serif" fill="#2e2e2e" font-weight="bold" stroke="#2e2e2e" stroke-width="0.000">NPC2</text>
<text x="383.80" y="546.05" font-size="4.0" text-anchor="start" font-family="Liberation Serif, sans-serif" fill="#2e2e2e" font-weight="bold" stroke="#2e2e2e" stroke-width="0.000">ITGB2</text>
<text x="383.80" y="551.02" font-size="4.0" text-anchor="start" font-family="Liberation Serif, sans-serif" fill="#2e2e2e" font-weight="bold" stroke="#2e2e2e" stroke-width="0.000">CD86</text>
<text x="383.80" y="555.98" font-size="4.0" text-anchor="start" font-family="Liberation Serif, sans-serif" fill="#2e2e2e" font-weight="bold" stroke="#2e2e2e" stroke-width="0.000">SDCBP</text>
<text x="383.80" y="560.94" font-size="4.0" text-anchor="start" font-family="Liberation Serif, sans-serif" fill="#2e2e2e" font-weight="bold" stroke="#2e2e2e" stroke-width="0.000">TM7SF8</text>
<text x="383.80" y="565.91" font-size="4.0" text-anchor="start" font-family="Liberation Serif, sans-serif" fill="#2e2e2e" font-weight="bold" stroke="#2e2e2e" stroke-width="0.000">SP110</text>
<text x="383.80" y="570.87" font-size="4.0" text-anchor="start" font-family="Liberation Serif, sans-serif" fill="#2e2e2e" font-weight="bold" stroke="#2e2e2e" stroke-width="0.000">PLSCR1</text>
<text x="383.80" y="575.83" font-size="4.0" text-anchor="start" font-family="Liberation Serif, sans-serif" fill="#2e2e2e" font-weight="bold" stroke="#2e2e2e" stroke-width="0.000">STAT1</text>
<text x="383.80" y="580.79" font-size="4.0" text-anchor="start" font-family="Liberation Serif, sans-serif" fill="#2e2e2e" font-weight="bold" stroke="#2e2e2e" stroke-width="0.000">OAS1</text>
<text x="383.80" y="585.76" font-size="4.0" text-anchor="start" font-family="Liberation Serif, sans-serif" fill="#2e2e2e" font-weight="bold" stroke="#2e2e2e" stroke-width="0.000">MAFB</text>
<text x="383.80" y="590.72" font-size="4.0" text-anchor="start" font-family="Liberation Serif, sans-serif" fill="#2e2e2e" font-weight="bold" stroke="#2e2e2e" stroke-width="0.000">PPP1R16B</text>
<text x="383.80" y="595.68" font-size="4.0" text-anchor="start" font-family="Liberation Serif, sans-serif" fill="#2e2e2e" font-weight="bold" stroke="#2e2e2e" stroke-width="0.000">FAM80A1</text>
<text x="383.80" y="600.65" font-size="4.0" text-anchor="start" font-family="Liberation Serif, sans-serif" fill="#2e2e2e" font-weight="bold" stroke="#2e2e2e" stroke-width="0.000">SMPD1</text>
<text x="383.80" y="605.61" font-size="4.0" text-anchor="start" font-family="Liberation Serif, sans-serif" fill="#2e2e2e" font-weight="bold" stroke="#2e2e2e" stroke-width="0.000">BCL6</text>
<text x="383.80" y="610.57" font-size="4.0" text-anchor="start" font-family="Liberation Serif, sans-serif" fill="#2e2e2e" font-weight="bold" stroke="#2e2e2e" stroke-width="0.000">SLAMF7</text>
<text x="383.80" y="615.54" font-size="4.0" text-anchor="start" font-family="Liberation Serif, sans-serif" fill="#2e2e2e" font-weight="bold" stroke="#2e2e2e" stroke-width="0.000">VSIG4</text>
<text x="383.80" y="620.50" font-size="4.0" text-anchor="start" font-family="Liberation Serif, sans-serif" fill="#2e2e2e" font-weight="bold" stroke="#2e2e2e" stroke-width="0.000">CCL3</text>
<text x="383.80" y="625.46" font-size="4.0" text-anchor="start" font-family="Liberation Serif, sans-serif" fill="#2e2e2e" font-weight="bold" stroke="#2e2e2e" stroke-width="0.000">OAS2</text>
<text x="383.80" y="630.42" font-size="4.0" text-anchor="start" font-family="Liberation Serif, sans-serif" fill="#2e2e2e" font-weight="bold" stroke="#2e2e2e" stroke-width="0.000">IFIT3</text>
<text x="383.80" y="635.39" font-size="4.0" text-anchor="start" font-family="Liberation Serif, sans-serif" fill="#2e2e2e" font-weight="bold" stroke="#2e2e2e" stroke-width="0.000">PHLDA1</text>
<text x="383.80" y="640.35" font-size="4.0" text-anchor="start" font-family="Liberation Serif, sans-serif" fill="#2e2e2e" font-weight="bold" stroke="#2e2e2e" stroke-width="0.000">CLC</text>
<text x="383.80" y="645.31" font-size="4.0" text-anchor="start" font-family="Liberation Serif, sans-serif" fill="#2e2e2e" font-weight="bold" stroke="#2e2e2e" stroke-width="0.000">OLFM4</text>
<text x="383.80" y="650.28" font-size="4.0" text-anchor="start" font-family="Liberation Serif, sans-serif" fill="#2e2e2e" font-weight="bold" stroke="#2e2e2e" stroke-width="0.000">CCL4L1</text>
<text x="462.50" y="327.68" font-size="4.0" text-anchor="start" font-family="Liberation Serif, sans-serif" fill="#2e2e2e" font-weight="bold" stroke="#2e2e2e" stroke-width="0.000">MMP8</text>
<text x="462.50" y="332.64" font-size="4.0" text-anchor="start" font-family="Liberation Serif, sans-serif" fill="#2e2e2e" font-weight="bold" stroke="#2e2e2e" stroke-width="0.000">XAF1</text>
<text x="462.50" y="337.61" font-size="4.0" text-anchor="start" font-family="Liberation Serif, sans-serif" fill="#2e2e2e" font-weight="bold" stroke="#2e2e2e" stroke-width="0.000">LOC728220</text>
<text x="462.50" y="342.57" font-size="4.0" text-anchor="start" font-family="Liberation Serif, sans-serif" fill="#2e2e2e" font-weight="bold" stroke="#2e2e2e" stroke-width="0.000">SIGLEC12</text>
<text x="462.50" y="347.53" font-size="4.0" text-anchor="start" font-family="Liberation Serif, sans-serif" fill="#2e2e2e" font-weight="bold" stroke="#2e2e2e" stroke-width="0.000">IRF9</text>
<text x="462.50" y="352.50" font-size="4.0" text-anchor="start" font-family="Liberation Serif, sans-serif" fill="#2e2e2e" font-weight="bold" stroke="#2e2e2e" stroke-width="0.000">SLC25A20</text>
<text x="462.50" y="357.46" font-size="4.0" text-anchor="start" font-family="Liberation Serif, sans-serif" fill="#2e2e2e" font-weight="bold" stroke="#2e2e2e" stroke-width="0.000">IFI32</text>
<text x="462.50" y="362.42" font-size="4.0" text-anchor="start" font-family="Liberation Serif, sans-serif" fill="#2e2e2e" font-weight="bold" stroke="#2e2e2e" stroke-width="0.000">DD5160</text>
<text x="462.50" y="367.39" font-size="4.0" text-anchor="start" font-family="Liberation Serif, sans-serif" fill="#2e2e2e" font-weight="bold" stroke="#2e2e2e" stroke-width="0.000">CD74</text>
<text x="462.50" y="372.35" font-size="4.0" text-anchor="start" font-family="Liberation Serif, sans-serif" fill="#2e2e2e" font-weight="bold" stroke="#2e2e2e" stroke-width="0.000">CEACAM1</text>
<text x="462.50" y="377.31" font-size="4.0" text-anchor="start" font-family="Liberation Serif, sans-serif" fill="#2e2e2e" font-weight="bold" stroke="#2e2e2e" stroke-width="0.000">CX3CR1</text>
<text x="462.50" y="382.27" font-size="4.0" text-anchor="start" font-family="Liberation Serif, sans-serif" fill="#2e2e2e" font-weight="bold" stroke="#2e2e2e" stroke-width="0.000">SAMD9L</text>
<text x="462.50" y="387.24" font-size="4.0" text-anchor="start" font-family="Liberation Serif, sans-serif" fill="#2e2e2e" font-weight="bold" stroke="#2e2e2e" stroke-width="0.000">IFIT2</text>
<text x="462.50" y="392.20" font-size="4.0" text-anchor="start" font-family="Liberation Serif, sans-serif" fill="#2e2e2e" font-weight="bold" stroke="#2e2e2e" stroke-width="0.000">AQP9</text>
<text x="462.50" y="397.16" font-size="4.0" text-anchor="start" font-family="Liberation Serif, sans-serif" fill="#2e2e2e" font-weight="bold" stroke="#2e2e2e" stroke-width="0.000">KIAA0153</text>
<text x="462.50" y="402.13" font-size="4.0" text-anchor="start" font-family="Liberation Serif, sans-serif" fill="#2e2e2e" font-weight="bold" stroke="#2e2e2e" stroke-width="0.000">IL10RA</text>
<text x="462.50" y="407.09" font-size="4.0" text-anchor="start" font-family="Liberation Serif, sans-serif" fill="#2e2e2e" font-weight="bold" stroke="#2e2e2e" stroke-width="0.000">IL1B</text>
<text x="462.50" y="412.05" font-size="4.0" text-anchor="start" font-family="Liberation Serif, sans-serif" fill="#2e2e2e" font-weight="bold" stroke="#2e2e2e" stroke-width="0.000">SERPINB2</text>
<text x="462.50" y="417.02" font-size="4.0" text-anchor="start" font-family="Liberation Serif, sans-serif" fill="#2e2e2e" font-weight="bold" stroke="#2e2e2e" stroke-width="0.000">LILRA5</text>
<text x="462.50" y="421.98" font-size="4.0" text-anchor="start" font-family="Liberation Serif, sans-serif" fill="#2e2e2e" font-weight="bold" stroke="#2e2e2e" stroke-width="0.000">SIGLECP16</text>
<text x="462.50" y="426.94" font-size="4.0" text-anchor="start" font-family="Liberation Serif, sans-serif" fill="#2e2e2e" font-weight="bold" stroke="#2e2e2e" stroke-width="0.000">CD93</text>
<text x="462.50" y="431.90" font-size="4.0" text-anchor="start" font-family="Liberation Serif, sans-serif" fill="#2e2e2e" font-weight="bold" stroke="#2e2e2e" stroke-width="0.000">OAS3</text>
<text x="462.50" y="436.87" font-size="4.0" text-anchor="start" font-family="Liberation Serif, sans-serif" fill="#2e2e2e" font-weight="bold" stroke="#2e2e2e" stroke-width="0.000">GIMAP6</text>
<text x="462.50" y="441.83" font-size="4.0" text-anchor="start" font-family="Liberation Serif, sans-serif" fill="#2e2e2e" font-weight="bold" stroke="#2e2e2e" stroke-width="0.000">BIRC3</text>
<text x="462.50" y="446.79" font-size="4.0" text-anchor="start" font-family="Liberation Serif, sans-serif" fill="#2e2e2e" font-weight="bold" stroke="#2e2e2e" stroke-width="0.000">IFI6</text>
<text x="462.50" y="451.76" font-size="4.0" text-anchor="start" font-family="Liberation Serif, sans-serif" fill="#2e2e2e" font-weight="bold" stroke="#2e2e2e" stroke-width="0.000">FFAR3</text>
<text x="462.50" y="456.72" font-size="4.0" text-anchor="start" font-family="Liberation Serif, sans-serif" fill="#2e2e2e" font-weight="bold" stroke="#2e2e2e" stroke-width="0.000">PTGES</text>
<text x="462.50" y="461.68" font-size="4.0" text-anchor="start" font-family="Liberation Serif, sans-serif" fill="#2e2e2e" font-weight="bold" stroke="#2e2e2e" stroke-width="0.000">SLFN5</text>
<text x="462.50" y="466.65" font-size="4.0" text-anchor="start" font-family="Liberation Serif, sans-serif" fill="#2e2e2e" font-weight="bold" stroke="#2e2e2e" stroke-width="0.000">GM2A</text>
<text x="462.50" y="471.61" font-size="4.0" text-anchor="start" font-family="Liberation Serif, sans-serif" fill="#2e2e2e" font-weight="bold" stroke="#2e2e2e" stroke-width="0.000">PARP9</text>
<text x="462.50" y="476.57" font-size="4.0" text-anchor="start" font-family="Liberation Serif, sans-serif" fill="#2e2e2e" font-weight="bold" stroke="#2e2e2e" stroke-width="0.000">IFIT5</text>
<text x="462.50" y="481.53" font-size="4.0" text-anchor="start" font-family="Liberation Serif, sans-serif" fill="#2e2e2e" font-weight="bold" stroke="#2e2e2e" stroke-width="0.000">FCER1G</text>
<text x="462.50" y="486.50" font-size="4.0" text-anchor="start" font-family="Liberation Serif, sans-serif" fill="#2e2e2e" font-weight="bold" stroke="#2e2e2e" stroke-width="0.000">DAAM2</text>
<text x="462.50" y="491.46" font-size="4.0" text-anchor="start" font-family="Liberation Serif, sans-serif" fill="#2e2e2e" font-weight="bold" stroke="#2e2e2e" stroke-width="0.000">RNF213</text>
<text x="462.50" y="496.42" font-size="4.0" text-anchor="start" font-family="Liberation Serif, sans-serif" fill="#2e2e2e" font-weight="bold" stroke="#2e2e2e" stroke-width="0.000">C3AR1</text>
<text x="462.50" y="501.39" font-size="4.0" text-anchor="start" font-family="Liberation Serif, sans-serif" fill="#2e2e2e" font-weight="bold" stroke="#2e2e2e" stroke-width="0.000">IFIT1</text>
<text x="462.50" y="506.35" font-size="4.0" text-anchor="start" font-family="Liberation Serif, sans-serif" fill="#2e2e2e" font-weight="bold" stroke="#2e2e2e" stroke-width="0.000">OAS3</text>
<text x="462.50" y="511.31" font-size="4.0" text-anchor="start" font-family="Liberation Serif, sans-serif" fill="#2e2e2e" font-weight="bold" stroke="#2e2e2e" stroke-width="0.000">LOC645188</text>
<text x="462.50" y="516.28" font-size="4.0" text-anchor="start" font-family="Liberation Serif, sans-serif" fill="#2e2e2e" font-weight="bold" stroke="#2e2e2e" stroke-width="0.000">LOC390037</text>
<text x="462.50" y="521.24" font-size="4.0" text-anchor="start" font-family="Liberation Serif, sans-serif" fill="#2e2e2e" font-weight="bold" stroke="#2e2e2e" stroke-width="0.000">IL8</text>
<text x="462.50" y="526.20" font-size="4.0" text-anchor="start" font-family="Liberation Serif, sans-serif" fill="#2e2e2e" font-weight="bold" stroke="#2e2e2e" stroke-width="0.000">FGA5</text>
<text x="462.50" y="531.16" font-size="4.0" text-anchor="start" font-family="Liberation Serif, sans-serif" fill="#2e2e2e" font-weight="bold" stroke="#2e2e2e" stroke-width="0.000">PARP14</text>
<text x="462.50" y="536.13" font-size="4.0" text-anchor="start" font-family="Liberation Serif, sans-serif" fill="#2e2e2e" font-weight="bold" stroke="#2e2e2e" stroke-width="0.000">HLA-B</text>
<text x="462.50" y="541.09" font-size="4.0" text-anchor="start" font-family="Liberation Serif, sans-serif" fill="#2e2e2e" font-weight="bold" stroke="#2e2e2e" stroke-width="0.000">PTGS1</text>
<text x="462.50" y="546.05" font-size="4.0" text-anchor="start" font-family="Liberation Serif, sans-serif" fill="#2e2e2e" font-weight="bold" stroke="#2e2e2e" stroke-width="0.000">CCL2</text>
<text x="462.50" y="551.02" font-size="4.0" text-anchor="start" font-family="Liberation Serif, sans-serif" fill="#2e2e2e" font-weight="bold" stroke="#2e2e2e" stroke-width="0.000">LRRK2</text>
<text x="462.50" y="555.98" font-size="4.0" text-anchor="start" font-family="Liberation Serif, sans-serif" fill="#2e2e2e" font-weight="bold" stroke="#2e2e2e" stroke-width="0.000">DEFA4</text>
<text x="462.50" y="560.94" font-size="4.0" text-anchor="start" font-family="Liberation Serif, sans-serif" fill="#2e2e2e" font-weight="bold" stroke="#2e2e2e" stroke-width="0.000">IGSF2</text>
<text x="462.50" y="565.91" font-size="4.0" text-anchor="start" font-family="Liberation Serif, sans-serif" fill="#2e2e2e" font-weight="bold" stroke="#2e2e2e" stroke-width="0.000">FGA4</text>
<text x="462.50" y="570.87" font-size="4.0" text-anchor="start" font-family="Liberation Serif, sans-serif" fill="#2e2e2e" font-weight="bold" stroke="#2e2e2e" stroke-width="0.000">CXCL10</text>
<text x="462.50" y="575.83" font-size="4.0" text-anchor="start" font-family="Liberation Serif, sans-serif" fill="#2e2e2e" font-weight="bold" stroke="#2e2e2e" stroke-width="0.000">LSP1</text>
<text x="462.50" y="580.79" font-size="4.0" text-anchor="start" font-family="Liberation Serif, sans-serif" fill="#2e2e2e" font-weight="bold" stroke="#2e2e2e" stroke-width="0.000">LGALS9</text>
<text x="462.50" y="585.76" font-size="4.0" text-anchor="start" font-family="Liberation Serif, sans-serif" fill="#2e2e2e" font-weight="bold" stroke="#2e2e2e" stroke-width="0.000">SEMA7A</text>
<text x="462.50" y="590.72" font-size="4.0" text-anchor="start" font-family="Liberation Serif, sans-serif" fill="#2e2e2e" font-weight="bold" stroke="#2e2e2e" stroke-width="0.000">NCF2</text>
<text x="462.50" y="595.68" font-size="4.0" text-anchor="start" font-family="Liberation Serif, sans-serif" fill="#2e2e2e" font-weight="bold" stroke="#2e2e2e" stroke-width="0.000">FFAR2</text>
<text x="462.50" y="600.65" font-size="4.0" text-anchor="start" font-family="Liberation Serif, sans-serif" fill="#2e2e2e" font-weight="bold" stroke="#2e2e2e" stroke-width="0.000">S100A8</text>
<text x="462.50" y="605.61" font-size="4.0" text-anchor="start" font-family="Liberation Serif, sans-serif" fill="#2e2e2e" font-weight="bold" stroke="#2e2e2e" stroke-width="0.000">SPP1</text>
<text x="462.50" y="610.57" font-size="4.0" text-anchor="start" font-family="Liberation Serif, sans-serif" fill="#2e2e2e" font-weight="bold" stroke="#2e2e2e" stroke-width="0.000">C3</text>
<text x="462.50" y="615.54" font-size="4.0" text-anchor="start" font-family="Liberation Serif, sans-serif" fill="#2e2e2e" font-weight="bold" stroke="#2e2e2e" stroke-width="0.000">AMICA1</text>
<text x="462.50" y="620.50" font-size="4.0" text-anchor="start" font-family="Liberation Serif, sans-serif" fill="#2e2e2e" font-weight="bold" stroke="#2e2e2e" stroke-width="0.000">EMR2</text>
<text x="462.50" y="625.46" font-size="4.0" text-anchor="start" font-family="Liberation Serif, sans-serif" fill="#2e2e2e" font-weight="bold" stroke="#2e2e2e" stroke-width="0.000">CCL24</text>
<text x="462.50" y="630.42" font-size="4.0" text-anchor="start" font-family="Liberation Serif, sans-serif" fill="#2e2e2e" font-weight="bold" stroke="#2e2e2e" stroke-width="0.000">SELL</text>
<text x="462.50" y="635.39" font-size="4.0" text-anchor="start" font-family="Liberation Serif, sans-serif" fill="#2e2e2e" font-weight="bold" stroke="#2e2e2e" stroke-width="0.000">DEFA3</text>
<text x="462.50" y="640.35" font-size="4.0" text-anchor="start" font-family="Liberation Serif, sans-serif" fill="#2e2e2e" font-weight="bold" stroke="#2e2e2e" stroke-width="0.000">DEFA1</text>
<text x="462.50" y="645.31" font-size="4.0" text-anchor="start" font-family="Liberation Serif, sans-serif" fill="#2e2e2e" font-weight="bold" stroke="#2e2e2e" stroke-width="0.000">TGM2</text>
<text x="207.00" y="592.83" font-size="4.0" text-anchor="start" font-family="Liberation Serif, sans-serif" fill="#2e2e2e" font-weight="bold" stroke="#2e2e2e" stroke-width="0.000">MT1A</text>
<text x="207.00" y="597.79" font-size="4.0" text-anchor="start" font-family="Liberation Serif, sans-serif" fill="#2e2e2e" font-weight="bold" stroke="#2e2e2e" stroke-width="0.000">TNF</text>
<text x="207.00" y="602.76" font-size="4.0" text-anchor="start" font-family="Liberation Serif, sans-serif" fill="#2e2e2e" font-weight="bold" stroke="#2e2e2e" stroke-width="0.000">HIF1</text>
<text x="207.00" y="607.72" font-size="4.0" text-anchor="start" font-family="Liberation Serif, sans-serif" fill="#2e2e2e" font-weight="bold" stroke="#2e2e2e" stroke-width="0.000">EMR2</text>
<text x="207.00" y="612.68" font-size="4.0" text-anchor="start" font-family="Liberation Serif, sans-serif" fill="#2e2e2e" font-weight="bold" stroke="#2e2e2e" stroke-width="0.000">SLPI</text>
<text x="207.00" y="617.65" font-size="4.0" text-anchor="start" font-family="Liberation Serif, sans-serif" fill="#2e2e2e" font-weight="bold" stroke="#2e2e2e" stroke-width="0.000">FAM101B</text>
<text x="207.00" y="622.61" font-size="4.0" text-anchor="start" font-family="Liberation Serif, sans-serif" fill="#2e2e2e" font-weight="bold" stroke="#2e2e2e" stroke-width="0.000">MMP9</text>
<text x="207.00" y="576.65" font-size="4.0" text-anchor="start" font-family="Liberation Serif, sans-serif" fill="#2e2e2e" font-weight="bold" stroke="#2e2e2e" stroke-width="0.000">C3orf26</text>
<defs><linearGradient id="fc" x1="0" x2="1" y1="0" y2="0"><stop offset="0" stop-color="#0000f8"/><stop offset="0.06" stop-color="#1010f0"/><stop offset="0.22" stop-color="#5c5cb0"/><stop offset="0.34" stop-color="#a0a060"/><stop offset="0.47" stop-color="#ffff00"/><stop offset="0.52" stop-color="#ffff00"/><stop offset="0.74" stop-color="#ff9000"/><stop offset="0.92" stop-color="#f81000"/><stop offset="1" stop-color="#f00000"/></linearGradient></defs>
<rect x="61.5" y="655.8" width="124.7" height="9.4" fill="url(#fc)" filter="url(#bl)"/>
<text x="61.50" y="653.00" font-size="6.9" text-anchor="start" font-family="Liberation Sans, sans-serif" fill="#000" stroke="#000" stroke-width="0.124">Fold change</text>
<text x="63.30" y="671.80" font-size="6.0" text-anchor="middle" font-family="Liberation Serif, sans-serif" fill="#3a3a3a" stroke="#3a3a3a" stroke-width="0.108">0.1</text>
<text x="73.30" y="671.80" font-size="6.0" text-anchor="middle" font-family="Liberation Serif, sans-serif" fill="#3a3a3a" stroke="#3a3a3a" stroke-width="0.108">0.4</text>
<text x="91.10" y="671.80" font-size="6.0" text-anchor="middle" font-family="Liberation Serif, sans-serif" fill="#3a3a3a" stroke="#3a3a3a" stroke-width="0.108">0.7</text>
<text x="120.90" y="671.80" font-size="6.0" text-anchor="middle" font-family="Liberation Serif, sans-serif" fill="#3a3a3a" stroke="#3a3a3a" stroke-width="0.108">1.0</text>
<text x="152.60" y="671.80" font-size="6.0" text-anchor="middle" font-family="Liberation Serif, sans-serif" fill="#3a3a3a" stroke="#3a3a3a" stroke-width="0.108">2.0</text>
<text x="170.10" y="671.80" font-size="6.0" text-anchor="middle" font-family="Liberation Serif, sans-serif" fill="#3a3a3a" stroke="#3a3a3a" stroke-width="0.108">4.0</text>
<text x="181.80" y="671.80" font-size="6.0" text-anchor="middle" font-family="Liberation Serif, sans-serif" fill="#3a3a3a" stroke="#3a3a3a" stroke-width="0.108">7.0</text>
</g>
</svg>
</body></html>
